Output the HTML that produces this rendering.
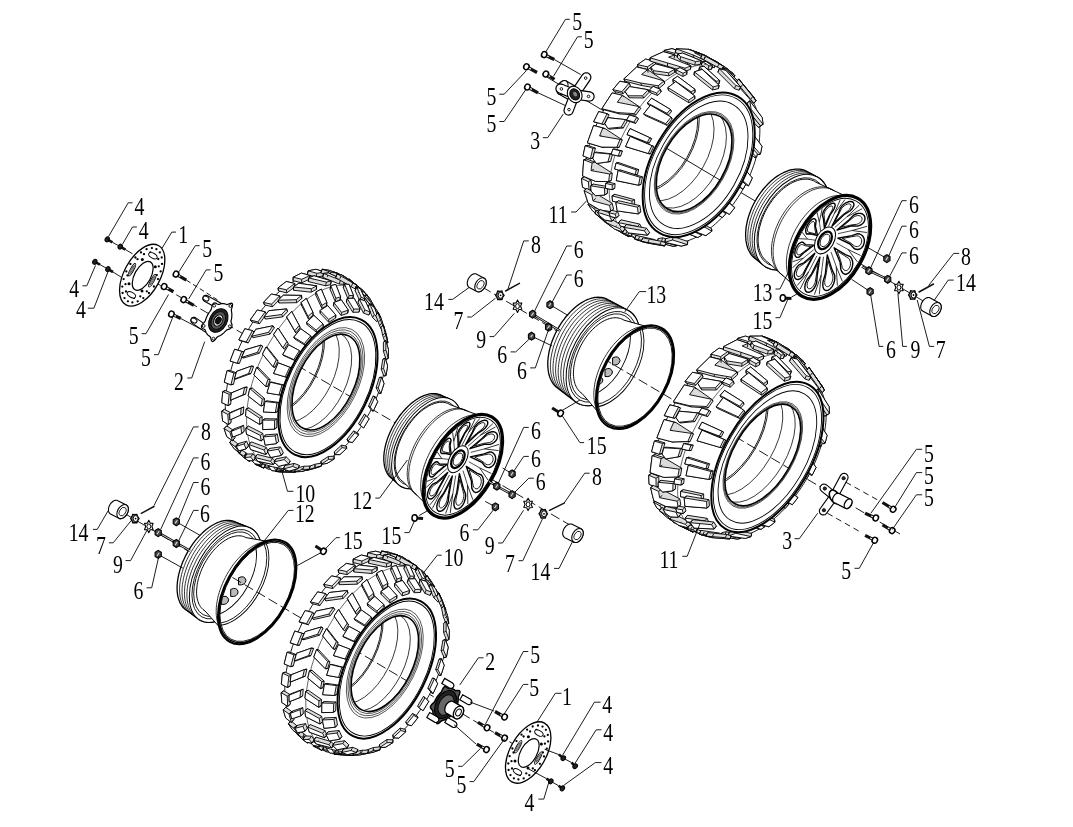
<!DOCTYPE html>
<html><head><meta charset="utf-8"><style>
html,body{margin:0;padding:0;background:#fff;overflow:hidden;}
svg{display:block;}
</style></head><body>
<svg width="1073" height="827" viewBox="0 0 1073 827">
<rect width="1073" height="827" fill="#fff"/>
<line x1="545.0" y1="76.0" x2="935.0" y2="308.0" stroke="#000" stroke-width="0.9"/>
<line x1="140.0" y1="273.5" x2="575.0" y2="528.0" stroke="#000" stroke-width="0.9" stroke-dasharray="10,4"/>
<line x1="112.0" y1="506.0" x2="531.0" y2="754.5" stroke="#000" stroke-width="0.9" stroke-dasharray="10,4"/>
<line x1="470.0" y1="279.8" x2="900.0" y2="534.0" stroke="#000" stroke-width="0.9" stroke-dasharray="10,4"/>
<g fill="#fff" stroke="#000" stroke-width="0.9" stroke-linejoin="round"><polygon points="736.8,87.8 739.4,85.1 744.9,90.4 746.2,94.1 743.5,96.5 738.1,91.3" fill="#dcdcdc"/><path d="M739.4 85.1L736.8 87.8M740.8 88.8L738.1 91.3M746.2 94.1L743.5 96.5M744.9 90.4L742.3 92.9"/><polygon points="739.4,85.1 740.8,88.8 746.2,94.1 744.9,90.4"/><polygon points="741.3,119.5 741.5,114.8 744.2,113.3 749.2,118.6 748.9,123.5 746.2,124.7" fill="#dcdcdc"/><path d="M744.2 113.3L741.5 114.8M744.1 118.2L741.3 119.5M748.9 123.5L746.2 124.7M749.2 118.6L746.4 120.1"/><polygon points="744.2,113.3 744.1,118.2 748.9,123.5 749.2,118.6"/><polygon points="734.4,152.4 736.0,147.3 738.6,147.2 743.1,152.3 741.3,157.5 738.9,157.4" fill="#dcdcdc"/><path d="M738.6 147.2L736.0 147.4M736.8 152.5L734.4 152.4M741.3 157.5L738.9 157.4M743.1 152.3L740.6 152.4"/><polygon points="738.6,147.2 736.8,152.5 741.3,157.5 743.1,152.3"/><polygon points="718.4,185.1 721.3,180.4 723.2,181.7 727.5,186.2 724.4,191.0 722.7,189.6" fill="#dcdcdc"/><path d="M723.2 181.6L721.3 180.4M720.2 186.5L718.4 185.1M724.4 191.0L722.7 189.6M727.5 186.2L725.6 185.0"/><polygon points="723.2,181.6 720.2,186.5 724.4,191.0 727.5,186.2"/><polygon points="695.8,212.6 699.4,209.0 703.8,212.9 704.7,215.3 700.9,219.0 696.6,215.1" fill="#dcdcdc"/><path d="M700.5 211.4L699.4 209.0M696.6 215.1L695.8 212.6M700.9 219.0L700.1 216.4M704.7 215.3L703.7 212.9"/><polygon points="700.5,211.4 696.6,215.1 700.9,219.0 704.7,215.3"/><polygon points="669.8,234.0 670.0,230.6 673.9,228.7 678.4,231.8 678.3,235.1 674.3,237.0" fill="#dcdcdc"/><path d="M673.8 231.9L673.9 228.7M669.8 234.0L670.0 230.6M674.3 237.0L674.5 233.7M678.3 235.1L678.4 231.8"/><polygon points="673.8,231.9 669.8,234.0 674.3,237.0 678.3,235.1"/><polygon points="643.7,240.1 644.9,236.5 648.5,236.5 653.4,239.0 652.2,242.5 648.6,242.5" fill="#dcdcdc"/><path d="M647.4 240.1L648.5 236.5M643.7 240.1L644.9 236.5M648.6 242.5L649.9 238.9M652.2 242.5L653.4 239.0"/><polygon points="647.4,240.1 643.7,240.1 648.6,242.5 652.2,242.5"/><polygon points="722.7,70.3 724.7,66.9 727.4,68.9 733.4,73.9 731.3,77.1 728.8,75.1" fill="#dcdcdc"/><path d="M724.7 66.9L722.7 70.3M727.4 68.9L725.3 72.2M733.4 73.9L731.3 77.1M730.8 71.8L728.8 75.1"/><polygon points="724.7,66.9 727.4,68.9 733.4,73.9 730.8,71.8"/><polygon points="717.9,71.0 720.3,68.0 723.9,69.1 735.9,79.2 738.4,84.3 735.8,86.9 720.0,74.5" fill="#dcdcdc"/><path d="M723.9 69.1L721.5 72.1M720.3 68.0L717.9 71.0M722.5 71.7L720.0 74.5M738.4 84.3L735.8 86.9M735.9 79.2L733.4 82.1"/><polygon points="723.9,69.1 720.3,68.0 722.5,71.7 738.4,84.3 735.9,79.2"/><polygon points="726.2,94.9 729.0,93.0 733.3,93.5 743.2,105.4 743.4,112.5 740.6,114.0 726.7,100.0" fill="#dcdcdc"/><path d="M733.3 93.5L730.5 95.5M729.0 93.0L726.2 94.9M729.5 98.2L726.7 100.0M743.4 112.4L740.6 114.0M743.2 105.4L740.4 107.2"/><polygon points="733.3,93.5 729.0,93.0 729.5,98.2 743.4,112.4 743.2,105.4"/><polygon points="723.2,131.9 724.6,126.1 727.2,125.4 732.2,125.7 739.9,138.5 737.8,146.4 735.2,146.5" fill="#dcdcdc"/><path d="M732.2 125.7L729.5 126.4M727.3 125.4L724.6 126.1M725.9 131.5L723.2 131.9M737.8 146.4L735.2 146.5M739.9 138.5L737.3 139.0"/><polygon points="732.2,125.7 727.3,125.4 725.9,131.5 737.8,146.4 739.9,138.5"/><polygon points="710.1,165.3 713.1,159.6 718.5,160.1 720.8,160.7 726.6,173.3 722.5,180.9 720.5,179.6" fill="#dcdcdc"/><path d="M720.8 160.7L718.5 160.1M715.3 160.3L713.1 159.6M712.2 166.3L710.2 165.4M722.5 180.9L720.5 179.6M726.6 173.3L724.5 172.4"/><polygon points="720.8,160.7 715.3,160.3 712.2,166.3 722.5,180.9 726.6,173.3"/><polygon points="689.5,195.3 693.5,190.5 699.4,191.4 700.8,193.3 705.3,204.6 699.7,210.7 690.7,197.5" fill="#dcdcdc"/><path d="M700.8 193.3L699.3 191.4M694.9 192.5L693.5 190.5M690.7 197.5L689.4 195.3M699.7 210.7L698.7 208.3M705.3 204.6L704.1 202.5"/><polygon points="700.8,193.3 694.9,192.5 690.7,197.5 699.7,210.7 705.3,204.6"/><polygon points="664.3,217.1 668.8,214.0 674.8,215.5 679.0,224.6 679.2,227.7 673.1,231.3 664.4,220.2" fill="#dcdcdc"/><path d="M675.3 218.5L674.8 215.5M669.2 217.0L668.8 214.0M664.4 220.2L664.3 217.1M673.1 231.3L673.1 228.1M679.2 227.7L679.0 224.6"/><polygon points="675.3,218.5 669.2,217.0 664.4,220.2 673.1,231.3 679.2,227.7"/><polygon points="637.5,231.0 638.5,227.4 642.8,226.5 648.7,228.9 653.2,235.4 652.3,238.9 646.6,239.6" fill="#dcdcdc"/><path d="M648.1 232.4L648.7 228.9M642.1 230.1L642.8 226.5M637.5 231.0L638.4 227.4M646.6 239.6L647.7 236.0M652.3 238.9L653.2 235.4"/><polygon points="648.1,232.4 642.1,230.1 637.5,231.0 646.6,239.6 652.3,238.9"/><polygon points="614.1,228.3 615.9,224.8 619.5,226.2 625.0,229.4 630.5,233.2 628.7,236.7 624.2,234.3" fill="#dcdcdc"/><path d="M623.4 233.0L625.0 229.4M617.8 229.7L619.5 226.2M614.1 228.3L615.9 224.8M624.2 234.3L626.2 230.9M628.7 236.6L630.5 233.2"/><polygon points="623.4,233.0 617.8,229.7 614.1,228.3 624.2,234.3 628.7,236.6"/><polygon points="696.7,56.5 698.6,53.1 716.3,61.4 731.3,72.0 734.9,75.7 732.5,78.8 705.0,63.3" fill="#dcdcdc"/><path d="M698.6 53.2L696.7 56.5M707.3 60.2L705.0 63.3M718.5 65.6L716.1 68.7M714.9 61.8L712.7 65.0M734.9 75.7L732.6 78.8M731.3 72.0L729.1 75.2M716.3 61.4L714.2 64.7"/><polygon points="698.6,53.2 707.3,60.2 718.5,65.6 714.9,61.8 734.9,75.7 731.3,72.0 716.3,61.4"/><polygon points="711.3,72.9 713.8,70.2 730.6,80.2 743.7,92.9 745.1,99.0 742.4,101.1 725.7,91.5 715.2,84.9" fill="#dcdcdc"/><path d="M713.8 70.2L711.3 72.9M717.8 82.8L715.2 84.9M728.5 89.4L725.7 91.5M727.1 83.2L724.4 85.5M745.1 99.0L742.4 101.1M743.7 92.9L741.0 95.3M730.6 80.2L728.0 82.8"/><polygon points="713.8,70.2 717.8,82.8 728.5,89.4 727.1,83.2 745.1,99.0 743.7,92.9 730.6,80.2"/><polygon points="715.5,114.5 716.6,99.0 719.4,97.4 735.1,108.9 745.9,122.8 745.0,130.3 742.3,131.2 725.3,121.9" fill="#dcdcdc"/><path d="M719.4 97.4L716.6 99.0M718.2 113.5L715.5 114.5M728.1 121.1L725.3 121.9M729.1 113.5L726.3 114.6M745.0 130.3L742.3 131.2M745.9 122.8L743.2 124.0M735.1 108.9L732.3 110.3"/><polygon points="719.4,97.4 718.2,113.5 728.1,121.1 729.1,113.5 745.0,130.3 745.9,122.8 735.1,108.9"/><polygon points="706.1,147.4 712.0,130.8 714.5,130.6 728.9,143.1 737.8,157.2 734.6,165.0 732.3,164.5 715.0,155.5" fill="#dcdcdc"/><path d="M714.5 130.6L712.0 130.8M708.4 147.8L706.1 147.4M717.3 156.0L715.0 155.5M720.5 148.2L718.1 147.9M734.6 165.0L732.3 164.5M737.8 157.2L735.4 157.0M728.9 143.1L726.3 143.2"/><polygon points="714.5,130.6 708.4,147.8 717.3,156.0 720.5,148.2 734.6,165.0 737.8,157.2 728.9,143.1"/><polygon points="688.2,178.7 698.0,163.5 700.0,164.7 713.0,177.7 720.4,190.8 715.5,197.7 697.8,188.8 689.8,180.4" fill="#dcdcdc"/><path d="M700.0 164.7L698.1 163.5M689.8 180.4L688.2 178.7M697.8 188.8L696.3 186.9M702.8 181.9L701.1 180.3M715.5 197.7L713.9 195.9M720.4 190.8L718.7 189.3M713.0 177.7L711.1 176.4"/><polygon points="700.0,164.7 689.8,180.4 697.8,188.8 702.8,181.9 715.5,197.7 720.4,190.8 713.0,177.7"/><polygon points="664.7,203.6 677.0,192.2 688.9,204.8 695.7,215.9 696.5,218.6 690.5,223.5 672.6,214.5 665.3,206.3" fill="#dcdcdc"/><path d="M678.0 194.5L677.0 192.2M665.3 206.3L664.7 203.6M672.6 214.5L672.1 211.6M678.6 209.6L677.8 206.9M690.5 223.5L690.0 220.7M696.5 218.6L695.7 215.9M689.9 207.3L688.9 204.8"/><polygon points="678.0,194.5 665.3,206.3 672.6,214.5 678.6,209.6 690.5,223.5 696.5,218.6 689.9,207.3"/><polygon points="638.6,221.7 639.1,218.3 651.9,212.4 663.1,224.1 669.9,232.8 669.6,236.2 663.6,238.5 645.4,229.1" fill="#dcdcdc"/><path d="M652.0 215.5L651.9 212.4M638.6 221.7L639.1 218.3M645.4 229.1L646.0 225.7M651.5 226.9L651.8 223.6M663.6 238.5L664.1 235.0M669.6 236.2L669.9 232.8M663.0 227.4L663.1 224.1"/><polygon points="652.0,215.5 638.6,221.7 645.4,229.1 651.5,226.9 663.6,238.5 669.6,236.2 663.0,227.4"/><polygon points="613.8,224.1 615.3,220.6 626.7,221.0 645.2,237.5 643.9,241.1 638.7,240.3 620.5,230.5" fill="#dcdcdc"/><path d="M625.7 224.5L626.7 221.0M613.8 224.0L615.3 220.6M620.5 230.5L622.1 227.0M625.7 231.4L627.1 227.8M638.7 240.3L640.2 236.7M643.9 241.0L645.2 237.5M636.5 235.0L637.7 231.4"/><polygon points="625.7,224.5 613.8,224.0 620.5,230.5 625.7,231.4 638.7,240.3 643.9,241.0 636.5,235.0"/><polygon points="704.6,64.2 706.9,61.2 717.1,66.0 720.9,72.2 718.3,75.0 708.4,69.9" fill="#dcdcdc"/><path d="M706.9 61.2L704.6 64.2M710.8 67.2L708.4 69.9M720.9 72.2L718.3 75.0M717.1 66.0L714.7 68.9"/><polygon points="706.9,61.2 710.8,67.2 720.9,72.2 717.1,66.0"/><polygon points="713.9,86.6 716.6,84.6 726.2,90.4 727.0,99.4 724.2,101.1 714.8,95.0" fill="#dcdcdc"/><path d="M716.6 84.6L713.9 86.6M717.5 93.3L714.8 95.0M727.0 99.4L724.2 101.1M726.2 90.4L723.5 92.4"/><polygon points="716.6,84.6 717.5,93.3 727.0,99.4 726.2,90.4"/><polygon points="711.3,126.3 713.4,116.5 716.1,115.7 725.0,122.5 722.5,132.9 719.9,133.2" fill="#dcdcdc"/><path d="M716.1 115.7L713.4 116.5M713.9 125.9L711.3 126.3M722.5 132.9L719.9 133.2M725.0 122.5L722.3 123.2"/><polygon points="716.1,115.7 713.9,125.9 722.5,132.9 725.0,122.5"/><polygon points="698.4,159.0 703.2,149.4 705.4,149.9 713.5,157.3 708.2,167.5 706.2,166.4" fill="#dcdcdc"/><path d="M705.4 149.9L703.2 149.4M700.4 160.0L698.4 159.0M708.2 167.5L706.2 166.5M713.4 157.3L711.2 156.7"/><polygon points="705.4,149.9 700.4,160.0 708.2,167.5 713.4,157.3"/><polygon points="678.0,188.3 684.8,180.2 692.0,187.7 693.4,189.6 686.2,198.1 679.2,190.4" fill="#dcdcdc"/><path d="M686.2 182.0L684.8 180.1M679.2 190.4L678.0 188.3M686.2 198.1L685.1 195.8M693.4 189.6L692.0 187.7"/><polygon points="686.2,182.0 679.2,190.4 686.2,198.1 693.4,189.6"/><polygon points="653.4,209.5 661.0,204.2 667.6,211.5 668.0,214.5 659.9,219.9 653.5,212.6" fill="#dcdcdc"/><path d="M661.5 207.0L661.0 204.2M653.5 212.6L653.4 209.5M659.9 219.9L659.8 216.7M668.0 214.5L667.6 211.5"/><polygon points="661.5,207.0 653.5,212.6 659.9,219.9 668.0,214.5"/><polygon points="627.2,223.0 628.1,219.5 635.5,217.8 641.6,224.6 641.0,228.1 633.2,229.6" fill="#dcdcdc"/><path d="M634.9 221.2L635.5 217.8M627.2 223.0L628.1 219.5M633.2 229.6L634.2 226.0M641.0 228.1L641.6 224.6"/><polygon points="634.9,221.2 627.2,223.0 633.2,229.6 641.0,228.1"/><polygon points="604.3,220.2 606.1,216.8 612.1,218.9 618.1,224.8 616.5,228.4 610.2,225.8" fill="#dcdcdc"/><path d="M610.6 222.4L612.1 219.0M604.3 220.2L606.1 216.8M610.2 225.8L612.1 222.4M616.5 228.4L618.1 224.8"/><polygon points="610.6,222.4 604.3,220.2 610.2,225.8 616.5,228.4"/></g>
<polygon points="585.3,174.4 585.4,170.4 585.6,166.3 586.0,162.1 586.6,157.8 587.3,153.5 588.3,149.1 589.4,144.7 590.6,140.3 592.1,135.9 593.7,131.5 595.4,127.1 597.3,122.7 599.4,118.3 601.6,114.0 603.9,109.8 606.4,105.7 608.9,101.6 611.6,97.6 614.4,93.7 617.3,90.0 620.3,86.3 623.4,82.9 626.6,79.5 629.8,76.3 633.1,73.3 636.4,70.5 639.8,67.8 643.2,65.3 646.6,63.1 650.0,61.0 653.5,59.1 656.9,57.5 660.3,56.0 663.7,54.8 667.1,53.8 670.4,53.0 673.6,52.5 676.8,52.2 679.9,52.1 683.0,52.3 685.9,52.7 688.8,53.3 691.5,54.1 698.0,56.6 700.7,57.7 707.0,60.7 709.6,62.0 715.6,65.5 718.0,67.0 723.7,71.0 726.0,72.7 731.4,77.2 733.6,79.1 738.6,84.0 740.5,86.1 745.2,91.4 747.0,93.7 751.2,99.3 752.8,101.7 754.2,104.2 755.5,106.9 756.6,109.8 757.6,112.8 758.4,115.9 759.0,119.2 759.5,122.7 759.7,126.2 759.9,129.8 759.8,133.6 759.6,137.4 759.3,141.3 758.7,145.2 758.0,149.2 757.1,153.3 756.1,157.4 755.0,161.5 753.6,165.6 752.1,169.7 750.5,173.8 748.7,177.9 746.8,181.9 744.8,185.9 742.6,189.9 740.3,193.8 737.9,197.5 735.4,201.2 732.8,204.8 730.1,208.3 727.3,211.7 724.4,214.9 721.5,218.1 718.5,221.0 715.5,223.8 712.4,226.5 709.2,228.9 706.1,231.3 702.9,233.4 699.7,235.3 696.5,237.1 693.3,238.6 690.1,239.9 687.0,241.1 683.8,242.0 680.8,242.7 677.7,243.2 674.8,243.5 671.9,243.6 669.0,243.4 666.3,243.1 659.2,242.1 656.5,241.5 649.6,239.9 643.0,237.9 640.2,237.1 633.7,234.5 631.0,233.4 624.8,230.4 622.2,229.0 616.3,225.5 613.9,223.9 608.2,219.9 605.9,218.1 600.6,213.6 598.4,211.7 596.4,209.5 594.6,207.2 592.9,204.6 591.4,201.9 590.0,199.0 588.8,195.9 587.8,192.7 587.0,189.3 586.3,185.8 585.8,182.1 585.5,178.3" fill="#fff" stroke="#000" stroke-width="0.9"/>
<path d="M629.4,235.1 L627.0,233.5 L624.6,231.6 L622.4,229.6 L620.4,227.3 L618.5,224.8 L616.8,222.2 L615.3,219.3 L613.9,216.3 L612.7,213.1 L611.6,209.7 L610.8,206.1 L610.1,202.4 L609.6,198.6 L609.3,194.7 L609.2,190.6 L609.3,186.4 L609.6,182.1 L610.0,177.8 L610.6,173.4 L611.5,168.9 L612.4,164.4 L613.6,159.8 L615.0,155.2 L616.5,150.6 L618.2,146.0 L620.0,141.5 L622.0,136.9 L624.2,132.4 L626.5,128.0 L628.9,123.6 L631.5,119.3 L634.2,115.1 L637.0,111.0 L639.9,107.0 L642.9,103.1 L646.0,99.4 L649.3,95.8 L652.5,92.4 L655.9,89.1 L659.3,86.0 L662.8,83.1 L666.3,80.4 L669.8,77.8 L673.3,75.5 L676.9,73.4 L680.5,71.5 L684.0,69.8 L687.6,68.4 L691.1,67.1 L694.5,66.1 L698.0,65.4 L701.3,64.9 L704.6,64.6 L707.8,64.5 L711.0,64.7 L714.0,65.2 L717.0,65.9 L719.8,66.8 L722.5,67.9 L725.1,69.3" fill="none" stroke="#000" stroke-width="0.6"/>
<g fill="#fff" stroke="#000" stroke-width="0.9" stroke-linejoin="round"><polygon points="588.2,204.5 590.7,201.7 597.0,206.3 600.6,212.3 598.3,215.3 592.2,210.4" fill="#dcdcdc"/><path d="M592.2 210.4L594.5 207.4M588.2 204.5L590.7 201.7M594.5 209.0L597.0 206.3M598.3 215.3L600.7 212.3"/><polygon points="592.2,210.4 588.2,204.5 594.5,209.0 598.3,215.3"/><polygon points="581.5,178.4 584.3,176.7 591.1,180.2 591.9,188.8 589.1,190.8 582.5,187.1" fill="#dcdcdc"/><path d="M582.5 187.1L585.2 185.0M581.5 178.4L584.3 176.7M588.4 181.8L591.1 180.2M589.1 190.8L591.9 188.8"/><polygon points="582.5,187.1 581.5,178.4 588.4,181.8 589.1,190.8"/><polygon points="583.0,155.9 585.2,145.8 587.8,145.4 595.4,148.1 593.1,158.0 590.4,158.8" fill="#dcdcdc"/><path d="M583.0 155.9L585.7 155.1M585.2 145.8L587.8 145.4M592.8 148.4L595.4 148.0M590.4 158.8L593.1 158.0"/><polygon points="583.0,155.9 585.2,145.8 592.8,148.4 590.4,158.8"/><polygon points="593.7,121.7 598.7,111.6 607.1,113.7 609.1,114.8 604.1,124.6" fill="#dcdcdc"/><path d="M593.7 121.7L595.9 122.3M598.7 111.6L600.7 112.6M607.1 113.7L609.1 114.8M601.9 123.9L604.1 124.6"/><polygon points="593.7,121.7 598.7,111.6 607.1,113.7 601.9,123.9"/><polygon points="612.9,89.7 619.9,81.2 629.1,83.2 630.3,85.5 623.3,93.6 614.3,91.5" fill="#dcdcdc"/><path d="M612.9 89.7L614.3 91.5M619.9 81.2L621.0 83.4M629.1 83.2L630.3 85.5M621.9 91.6L623.3 93.6"/><polygon points="612.9,89.7 619.9,81.2 629.1,83.2 621.9,91.6"/><polygon points="637.6,64.6 645.6,59.1 655.5,61.4 655.6,64.5 647.8,69.7 638.1,67.5" fill="#dcdcdc"/><path d="M637.6 64.6L638.1 67.5M645.6 59.1L645.7 62.2M655.5 61.4L655.6 64.5M647.4 66.8L647.8 69.7"/><polygon points="637.6,64.6 645.6,59.1 655.5,61.4 647.4,66.8"/><polygon points="663.6,53.8 664.2,50.4 671.9,48.7 682.2,51.6 681.2,55.2 673.7,56.7" fill="#dcdcdc"/><path d="M664.2 50.4L663.6 53.8M671.9 48.7L671.0 52.1M682.2 51.6L681.2 55.2M674.4 53.2L673.7 56.7"/><polygon points="664.2,50.4 671.9,48.7 682.2,51.6 674.4,53.2"/><polygon points="687.0,52.7 688.5,49.2 698.9,52.9 705.1,55.5 703.2,58.9" fill="#dcdcdc"/><path d="M688.5 49.2L687.0 52.7M694.8 51.5L693.0 54.9M705.1 55.5L703.2 58.9M698.9 52.9L697.2 56.4"/><polygon points="688.5,49.2 694.8,51.5 705.1,55.5 698.9,52.9"/><polygon points="594.7,213.1 596.9,210.1 622.0,225.6 625.5,229.2 623.3,232.4 614.4,228.9 605.2,222.3" fill="#dcdcdc"/><path d="M603.3 220.2L605.2 216.9M594.7 213.1L596.9 210.1M601.6 218.4L604.0 215.4M605.2 222.3L607.4 219.1M619.7 228.7L622.0 225.6M623.3 232.4L625.5 229.2M614.4 228.9L616.4 225.6"/><polygon points="603.3,220.2 594.7,213.1 601.6,218.4 605.2,222.3 619.7,228.7 623.3,232.4 614.4,228.9"/><polygon points="584.1,190.6 586.8,188.4 594.4,192.6 612.2,203.3 613.6,209.1 610.9,211.5 600.0,210.1 588.2,203.1" fill="#dcdcdc"/><path d="M588.2 203.1L590.7 200.5M584.1 190.6L586.8 188.4M591.7 194.7L594.4 192.6M593.0 200.9L595.7 198.5M609.5 205.4L612.2 203.3M610.9 211.5L613.6 209.1M600.0 210.1L602.6 207.5"/><polygon points="588.2,203.1 584.1,190.6 591.7,194.7 593.0,200.9 609.5,205.4 610.9,211.5 600.0,210.1"/><polygon points="582.6,175.9 583.7,159.8 586.4,158.9 594.8,162.1 612.3,173.2 611.4,180.4 608.6,181.6 595.6,181.4" fill="#dcdcdc"/><path d="M582.6 175.9L585.3 174.4M583.7 159.8L586.4 158.9M592.1 163.0L594.8 162.1M591.0 170.6L593.8 169.4M609.6 174.0L612.3 173.2M608.6 181.6L611.4 180.4M595.6 181.4L598.4 179.9"/><polygon points="582.6,175.9 583.7,159.8 592.1,163.0 591.0,170.6 609.6,174.0 608.6,181.6 595.6,181.4"/><polygon points="587.4,142.8 593.6,125.5 595.9,126.0 605.1,128.6 622.3,139.9 619.2,147.4 601.8,147.1" fill="#dcdcdc"/><path d="M587.4 142.8L590.0 142.5M593.6 125.5L595.9 126.0M602.8 128.0L605.1 128.6M599.6 135.9L602.0 136.2M620.0 139.4L622.3 139.9M616.8 147.2L619.2 147.4M601.8 147.1L604.3 147.1"/><polygon points="587.4,142.8 593.6,125.5 602.8,128.0 599.6,135.9 620.0,139.4 616.8,147.2 601.8,147.1"/><polygon points="601.9,108.7 612.2,92.9 622.3,95.2 639.1,106.6 640.6,108.5 635.9,115.1 619.5,113.9 603.9,109.8" fill="#dcdcdc"/><path d="M601.9 108.7L603.9 109.8M612.2 92.9L613.7 94.7M622.3 95.3L623.8 97.1M617.3 102.2L619.0 103.8M639.1 106.6L640.6 108.5M634.2 113.6L635.9 115.1M617.6 112.6L619.5 113.9"/><polygon points="601.9,108.7 612.2,92.9 622.3,95.3 617.3,102.2 639.1,106.6 634.2,113.6 617.6,112.6"/><polygon points="623.9,78.9 636.7,67.0 647.6,69.6 664.0,80.8 664.6,83.7 658.9,88.5 641.7,85.5 625.0,81.2" fill="#dcdcdc"/><path d="M623.9 78.9L625.0 81.2M636.7 67.0L637.3 69.8M647.6 69.6L648.1 72.5M641.6 74.5L642.3 77.2M664.0 80.9L664.6 83.7M658.1 85.8L658.9 88.5M640.8 83.0L641.7 85.5"/><polygon points="623.9,78.9 636.7,67.0 647.6,69.6 641.6,74.5 664.0,80.9 658.1,85.8 640.8,83.0"/><polygon points="650.0,57.8 663.4,51.7 674.7,54.9 691.0,65.9 690.4,69.4 684.6,71.5 650.0,61.0" fill="#dcdcdc"/><path d="M650.0 57.8L650.0 61.0M663.4 51.7L662.9 55.1M674.7 54.9L674.1 58.4M668.6 57.1L668.3 60.5M691.0 65.9L690.4 69.4M685.0 68.2L684.7 71.5M667.6 62.9L667.5 66.2"/><polygon points="650.0,57.8 663.4,51.7 674.7,54.9 668.6,57.1 691.0,65.9 685.0,68.2 667.6,62.9"/><polygon points="675.2,52.3 676.2,48.8 688.1,49.3 699.6,53.5 715.9,64.1 714.3,67.7 709.3,66.9" fill="#dcdcdc"/><path d="M676.2 48.8L675.2 52.3M688.1 49.3L686.7 52.8M699.6 53.5L698.0 57.1M694.4 52.7L693.0 56.2M715.9 64.1L714.3 67.6M710.7 63.3L709.3 66.9M694.1 55.3L693.0 58.9"/><polygon points="676.2,48.8 688.1,49.3 699.6,53.5 694.4,52.7 715.9,64.1 710.7,63.3 694.1,55.3"/><polygon points="597.6,212.4 600.1,209.6 612.0,213.5 614.5,218.4 612.0,221.2 604.9,220.1 599.9,216.0" fill="#dcdcdc"/><path d="M604.9 220.1L607.3 217.0M599.9 216.0L602.3 213.1M597.6 212.4L600.1 209.6M609.5 216.1L612.0 213.5M612.0 221.2L614.5 218.4"/><polygon points="604.9,220.1 599.9,216.0 597.6,212.4 609.5,216.1 612.0,221.2"/><polygon points="590.7,185.8 593.4,184.1 607.3,186.5 607.5,193.2 604.7,195.0 595.5,195.7 591.1,191.1" fill="#dcdcdc"/><path d="M595.5 195.7L598.2 193.6M591.1 191.1L593.9 189.1M590.7 185.8L593.4 184.1M604.5 188.0L607.3 186.5M604.7 195.0L607.5 193.2"/><polygon points="595.5,195.7 591.1,191.1 590.7,185.8 604.5,188.0 604.7,195.0"/><polygon points="592.9,158.7 594.3,152.6 596.9,152.2 612.6,153.9 610.6,161.5 607.9,161.9 596.5,163.5" fill="#dcdcdc"/><path d="M596.5 163.5L599.3 162.7M592.9 158.7L595.6 158.0M594.3 152.6L596.9 152.2M610.1 154.1L612.6 153.9M607.9 161.9L610.6 161.5"/><polygon points="596.5,163.5 592.9,158.7 594.3,152.6 610.1,154.1 607.9,161.9"/><polygon points="604.9,123.7 607.9,117.7 625.4,119.6 627.4,120.8 623.3,128.0 610.2,129.1 607.9,128.4" fill="#dcdcdc"/><path d="M607.9 128.4L610.2 129.1M604.9 123.7L607.1 124.5M607.9 117.7L610.0 118.7M625.4 119.6L627.4 120.8M621.2 127.1L623.3 128.0"/><polygon points="607.9,128.4 604.9,123.7 607.9,117.7 625.4,119.6 621.2,127.1"/><polygon points="625.2,91.6 629.5,86.6 648.1,89.7 649.2,92.2 643.8,98.0 629.4,97.8 627.9,95.8" fill="#dcdcdc"/><path d="M627.9 95.8L629.4 97.8M625.2 91.6L626.6 93.6M629.5 86.6L630.7 88.8M648.1 89.7L649.2 92.2M642.5 95.8L643.8 98.0"/><polygon points="627.9,95.8 625.2,91.6 629.5,86.6 648.1,89.7 642.5,95.8"/><polygon points="650.9,67.1 655.7,63.9 674.8,69.1 674.7,72.4 668.9,75.9 653.9,73.6 651.3,70.1" fill="#dcdcdc"/><path d="M653.5 70.6L653.9 73.6M650.9 67.1L651.3 70.1M655.7 63.9L655.9 67.0M674.8 69.1L674.7 72.4M668.6 72.8L668.8 75.9"/><polygon points="653.5,70.6 650.9,67.1 655.7,63.9 674.8,69.1 668.6,72.8"/><polygon points="677.3,57.5 678.0,54.0 682.6,53.1 701.3,60.8 700.2,64.4 694.7,65.1 680.0,60.2" fill="#dcdcdc"/><path d="M680.7 56.7L680.0 60.2M678.0 54.0L677.3 57.5M682.6 53.1L681.7 56.6M701.3 60.8L700.2 64.4M695.5 61.5L694.7 65.1"/><polygon points="680.7,56.7 678.0,54.0 682.6,53.1 701.3,60.8 695.5,61.5"/><polygon points="700.7,57.9 702.4,54.3 706.0,55.8 723.6,66.2 721.6,69.5 717.4,67.2 703.7,59.7" fill="#dcdcdc"/><path d="M705.4 56.2L703.7 59.7M702.4 54.3L700.7 57.8M706.0 55.8L704.2 59.3M723.6 66.2L721.6 69.5M719.2 63.8L717.3 67.2"/><polygon points="705.4,56.2 702.4,54.3 706.0,55.8 723.6,66.2 719.2,63.8"/><polygon points="622.4,232.7 624.5,229.4 630.0,231.3 632.5,233.2 630.5,236.5 625.1,234.6" fill="#dcdcdc"/><path d="M625.1 234.6L627.1 231.3M622.3 232.7L624.5 229.4M627.8 234.5L629.9 231.3M630.5 236.5L632.5 233.2"/><polygon points="625.1,234.6 622.3,232.7 627.8,234.5 630.5,236.5"/><polygon points="609.0,212.8 611.7,210.3 617.7,211.8 619.0,215.4 616.4,218.0 610.4,216.4" fill="#dcdcdc"/><path d="M610.4 216.4L613.0 213.8M609.0 212.8L611.7 210.3M615.1 214.2L617.7 211.8M616.4 218.0L619.0 215.4"/><polygon points="610.4,216.4 609.0,212.8 615.1,214.2 616.4,218.0"/><polygon points="605.5,188.2 605.7,183.4 608.5,182.1 615.1,183.7 614.8,188.3 612.1,189.7" fill="#dcdcdc"/><path d="M605.5 188.2L608.3 186.7M605.7 183.4L608.5 182.1M612.3 184.9L615.1 183.6M612.1 189.7L614.8 188.3"/><polygon points="605.5,188.2 605.7,183.4 612.3,184.9 612.1,189.7"/><polygon points="611.2,154.3 613.0,149.1 615.4,149.2 622.4,151.0 620.7,156.0 618.2,156.0" fill="#dcdcdc"/><path d="M611.2 154.4L613.8 154.2M612.9 149.1L615.4 149.2M620.0 150.8L622.4 151.0M618.2 156.0L620.7 156.0"/><polygon points="611.2,154.4 612.9,149.1 620.0,150.8 618.2,156.0"/><polygon points="626.6,119.9 629.6,115.0 636.8,117.3 638.6,118.8 635.7,123.4 628.5,121.2" fill="#dcdcdc"/><path d="M626.6 119.9L628.5 121.2M629.6 115.0L631.4 116.5M636.8 117.3L638.6 118.8M633.8 122.1L635.7 123.4"/><polygon points="626.6,119.9 629.6,115.0 636.8,117.3 633.8,122.1"/><polygon points="649.3,90.2 653.2,86.4 660.4,89.4 661.2,92.0 657.5,95.5 650.3,92.6" fill="#dcdcdc"/><path d="M649.3 90.2L650.3 92.6M653.2 86.4L654.0 89.0M660.4 89.4L661.2 92.0M656.5 93.0L657.5 95.5"/><polygon points="649.3,90.2 653.2,86.4 660.4,89.4 656.5,93.0"/><polygon points="675.9,72.9 675.9,69.7 680.0,67.6 687.0,71.3 686.7,74.6 682.9,76.5" fill="#dcdcdc"/><path d="M675.9 69.7L675.9 72.9M680.0 67.6L679.8 70.9M687.0 71.3L686.7 74.6M683.0 73.3L682.9 76.5"/><polygon points="675.9,69.7 680.0,67.6 687.0,71.3 683.0,73.3"/><polygon points="701.3,65.1 702.4,61.5 706.1,61.5 712.6,65.9 711.4,69.4 707.9,69.4" fill="#dcdcdc"/><path d="M702.4 61.5L701.3 65.1M706.1 61.5L704.9 65.0M712.6 65.9L711.4 69.4M709.0 65.8L707.9 69.4"/><polygon points="702.4,61.5 706.1,61.5 712.6,65.9 709.0,65.8"/><polygon points="738.2,85.0 740.6,82.1 753.8,97.3 755.4,100.4 753.1,102.9 740.3,88.5" fill="#dcdcdc"/><path d="M740.6 82.1L738.2 85.0M742.8 85.8L740.3 88.5M755.4 100.4L753.1 102.9M753.8 97.3L751.5 100.0"/><polygon points="740.6,82.1 742.8,85.8 755.4,100.4 753.8,97.3"/><polygon points="746.1,109.0 748.8,107.2 760.7,121.6 760.9,125.9 758.3,127.4 746.4,114.1" fill="#dcdcdc"/><path d="M748.8 107.1L746.1 109.0M749.2 112.4L746.4 114.1M760.9 125.9L758.3 127.4M760.7 121.6L758.1 123.2"/><polygon points="748.8,107.1 749.2,112.4 760.9,125.9 760.7,121.6"/><polygon points="742.5,145.7 743.9,139.9 746.6,139.4 757.8,152.2 756.5,157.1 754.1,157.3" fill="#dcdcdc"/><path d="M746.6 139.4L743.9 140.0M745.1 145.4L742.5 145.7M756.5 157.1L754.1 157.3M757.8 152.2L755.3 152.7"/><polygon points="746.6,139.4 745.1,145.4 756.5,157.1 757.8,152.2"/><polygon points="729.2,178.7 732.2,173.0 734.3,173.8 745.6,184.6 743.0,189.2 741.1,188.2" fill="#dcdcdc"/><path d="M734.3 173.8L732.2 173.0M731.2 179.7L729.2 178.7M743.0 189.3L741.2 188.2M745.6 184.6L743.6 183.7"/><polygon points="734.3,173.8 731.2,179.7 743.0,189.3 745.6,184.6"/><polygon points="708.5,207.9 712.5,203.2 724.7,211.7 725.8,213.7 722.4,217.5 709.7,210.1" fill="#dcdcdc"/><path d="M713.9 205.3L712.5 203.2M709.7 210.1L708.5 207.9M722.4 217.5L721.4 215.4M725.8 213.7L724.7 211.7"/><polygon points="713.9,205.3 709.7,210.1 722.4,217.5 725.8,213.7"/><polygon points="683.6,228.9 688.1,226.0 701.4,232.3 701.6,235.2 697.8,237.6 683.7,232.0" fill="#dcdcdc"/><path d="M688.4 229.0L688.1 226.0M683.7 232.0L683.6 228.9M697.8 237.5L697.8 234.6M701.6 235.2L701.4 232.3"/><polygon points="688.4,229.0 683.7,232.0 697.8,237.5 701.6,235.2"/><polygon points="657.2,242.1 658.2,238.6 662.5,237.8 677.4,242.5 676.6,245.8 673.1,246.3" fill="#dcdcdc"/><path d="M661.7 241.3L662.5 237.8M657.2 242.1L658.2 238.6M673.1 246.3L674.0 243.0M676.6 245.8L677.4 242.5"/><polygon points="661.7,241.3 657.2,242.1 673.1,246.3 676.6,245.8"/><polygon points="634.3,238.8 636.2,235.4 653.6,239.3 656.3,240.6 654.6,243.8 637.9,240.3" fill="#dcdcdc"/><path d="M637.9 240.3L639.6 236.9M634.3 238.8L636.2 235.4M651.8 242.5L653.6 239.3M654.7 243.8L656.3 240.6"/><polygon points="637.9,240.3 634.3,238.8 651.8,242.5 654.7,243.8"/><polygon points="618.5,222.6 621.0,219.8 639.8,224.1 641.3,227.0 639.0,229.7 620.6,226.2" fill="#dcdcdc"/><path d="M620.6 226.2L623.0 223.4M618.5 222.6L621.0 219.8M637.4 226.6L639.8 224.1M639.0 229.7L641.3 227.0"/><polygon points="620.6,226.2 618.5,222.6 637.4,226.6 639.0,229.7"/><polygon points="612.1,195.9 614.8,194.3 634.5,199.6 634.7,203.7 632.1,205.4 612.5,201.2" fill="#dcdcdc"/><path d="M612.5 201.2L615.2 199.3M612.1 195.9L614.8 194.3M631.9 201.1L634.5 199.6M632.1 205.4L634.7 203.7"/><polygon points="612.5,201.2 612.1,195.9 631.9,201.1 632.1,205.4"/><polygon points="614.7,169.0 616.1,163.0 618.7,162.6 638.7,169.6 637.5,174.3 635.0,174.8" fill="#dcdcdc"/><path d="M614.7 169.0L617.3 168.4M616.1 163.0L618.7 162.6M636.3 169.9L638.7 169.6M635.0 174.8L637.5 174.3"/><polygon points="614.7,169.0 616.1,163.0 636.3,169.9 635.0,174.8"/><polygon points="627.0,134.5 630.0,128.6 649.8,137.7 651.7,138.7 649.2,143.2" fill="#dcdcdc"/><path d="M627.0 134.5L629.1 135.3M630.0 128.6L632.0 129.7M649.8 137.7L651.7 138.7M647.3 142.4L649.2 143.2"/><polygon points="627.0,134.5 630.0,128.6 649.8,137.7 647.3,142.4"/><polygon points="647.4,103.0 651.6,98.2 670.4,109.5 671.5,111.6 668.2,115.3 648.7,105.1" fill="#dcdcdc"/><path d="M647.4 103.0L648.7 105.1M651.6 98.2L652.7 100.5M670.4 109.4L671.5 111.6M667.0 113.3L668.2 115.3"/><polygon points="647.4,103.0 651.6,98.2 670.4,109.4 667.0,113.3"/><polygon points="672.9,79.3 677.6,76.3 695.0,89.4 695.0,92.4 691.4,94.6 673.2,82.3" fill="#dcdcdc"/><path d="M672.9 79.4L673.2 82.3M677.6 76.3L677.7 79.4M695.0 89.4L695.0 92.4M691.2 91.8L691.4 94.6"/><polygon points="672.9,79.4 677.6,76.3 695.0,89.4 691.2,91.8"/><polygon points="698.8,70.5 699.5,67.1 704.0,66.2 719.8,80.7 718.8,84.0 715.4,84.5" fill="#dcdcdc"/><path d="M699.6 67.1L698.8 70.5M704.0 66.2L703.1 69.8M719.8 80.7L718.8 84.0M716.2 81.2L715.4 84.5"/><polygon points="699.6,67.1 704.0,66.2 719.8,80.7 716.2,81.2"/><polygon points="721.6,71.5 723.3,68.0 726.9,69.6 741.0,84.5 739.2,87.7 736.5,86.3" fill="#dcdcdc"/><path d="M723.3 68.0L721.6 71.5M726.9 69.6L725.1 73.0M741.0 84.5L739.2 87.7M738.2 83.1L736.5 86.3"/><polygon points="723.3,68.0 726.9,69.6 741.0,84.5 738.2,83.1"/><polygon points="736.5,81.9 738.7,78.9 753.0,96.2 756.1,100.7 753.9,103.3 740.6,87.2" fill="#dcdcdc"/><path d="M738.7 78.9L736.5 81.9M743.0 84.3L740.6 87.2M756.1 100.7L753.9 103.3M753.0 96.2L750.9 99.0"/><polygon points="738.7,78.9 743.0,84.3 756.1,100.7 753.0,96.2"/><polygon points="747.1,103.0 749.8,100.8 762.2,117.6 763.0,124.3 760.5,125.9 748.4,111.0" fill="#dcdcdc"/><path d="M749.8 100.8L747.1 103.0M751.1 109.2L748.4 111.0M763.1 124.3L760.5 125.9M762.2 117.6L759.7 119.5"/><polygon points="749.8,100.8 751.1,109.2 763.1,124.3 762.2,117.6"/><polygon points="746.3,141.7 748.0,132.1 750.7,131.1 762.0,146.3 760.4,154.1 758.0,154.6" fill="#dcdcdc"/><path d="M750.7 131.1L748.0 132.1M748.9 141.1L746.3 141.7M760.4 154.1L758.0 154.6M762.0 146.3L759.5 147.1"/><polygon points="750.7,131.1 748.9,141.1 760.4,154.1 762.0,146.3"/><polygon points="734.6,174.6 739.1,164.8 741.4,165.2 752.3,178.0 748.6,185.8 746.6,185.0" fill="#dcdcdc"/><path d="M741.4 165.1L739.1 164.8M736.8 175.3L734.6 174.6M748.6 185.8L746.6 185.0M752.3 178.0L750.2 177.5"/><polygon points="741.4,165.1 736.8,175.3 748.6,185.8 752.3,178.0"/><polygon points="715.2,204.5 721.7,196.1 733.4,206.1 734.7,207.8 729.4,214.4 716.5,206.6" fill="#dcdcdc"/><path d="M723.3 197.8L721.7 196.1M716.5 206.6L715.2 204.5M729.4 214.4L728.2 212.4M734.7 207.8L733.4 206.1"/><polygon points="723.3,197.8 716.5,206.6 729.4,214.4 734.7,207.8"/><polygon points="690.9,227.1 698.5,221.3 711.5,228.6 711.9,231.2 705.8,235.6 691.2,230.1" fill="#dcdcdc"/><path d="M699.1 224.1L698.5 221.3M691.2 230.1L690.9 227.1M705.8 235.6L705.6 232.8M711.9 231.2L711.5 228.6"/><polygon points="699.1,224.1 691.2,230.1 705.8,235.6 711.9,231.2"/><polygon points="664.8,242.3 665.5,238.8 673.0,236.6 687.8,241.4 687.3,244.6 681.3,246.1" fill="#dcdcdc"/><path d="M672.6 240.0L673.0 236.6M664.8 242.3L665.5 238.8M681.3 246.1L682.1 242.9M687.3 244.6L687.8 241.5"/><polygon points="672.6,240.0 664.8,242.3 681.3,246.1 687.3,244.6"/><polygon points="641.1,241.3 642.8,237.9 661.4,241.3 666.1,242.8 664.7,246.0 647.7,243.1" fill="#dcdcdc"/><path d="M647.7 243.0L649.1 239.6M641.1 241.4L642.8 237.9M659.7 244.5L661.4 241.3M664.7 246.0L666.1 242.8"/><polygon points="647.7,243.0 641.1,241.4 659.7,244.5 664.7,246.0"/><polygon points="624.0,227.4 626.4,224.5 646.6,228.2 649.6,232.5 647.5,235.2 628.3,232.9" fill="#dcdcdc"/><path d="M628.3 232.9L630.5 229.8M624.0 227.4L626.4 224.5M644.3 230.8L646.6 228.2M647.5 235.2L649.6 232.5"/><polygon points="628.3,232.9 624.0,227.4 644.3,230.8 647.5,235.2"/><polygon points="615.9,202.6 618.6,200.7 639.9,205.6 640.8,211.9 638.3,213.9 617.2,210.9" fill="#dcdcdc"/><path d="M617.2 210.9L619.9 208.7M615.9 202.5L618.6 200.7M637.4 207.2L639.9 205.6M638.3 213.9L640.8 211.9"/><polygon points="617.2,210.9 615.9,202.5 637.4,207.2 638.3,213.9"/><polygon points="616.3,180.7 618.1,170.6 620.7,170.0 642.5,176.9 641.0,184.4 638.5,185.2" fill="#dcdcdc"/><path d="M616.3 180.6L619.0 179.7M618.1 170.6L620.7 170.0M640.1 177.3L642.5 176.9M638.5 185.2L641.0 184.4"/><polygon points="616.3,180.6 618.1,170.6 640.1,177.3 638.5,185.2"/><polygon points="625.6,146.6 630.2,136.4 632.4,137.2 653.8,146.5 650.2,154.0 648.2,153.5" fill="#dcdcdc"/><path d="M625.6 146.6L627.9 146.9M630.2 136.4L632.4 137.2M651.9 145.7L653.8 146.5M648.2 153.5L650.2 154.0"/><polygon points="625.6,146.6 630.2,136.4 651.9,145.7 648.2,153.5"/><polygon points="643.7,113.9 650.5,105.2 671.1,117.1 672.2,119.0 667.1,125.4 645.3,115.6" fill="#dcdcdc"/><path d="M643.7 113.9L645.3 115.6M650.5 105.2L651.8 107.2M671.1 117.1L672.2 119.0M665.7 123.7L667.1 125.4"/><polygon points="643.7,113.9 650.5,105.2 671.1,117.1 665.7,123.7"/><polygon points="667.9,87.6 675.8,81.6 694.7,95.9 694.9,98.7 689.0,102.9 668.5,90.4" fill="#dcdcdc"/><path d="M667.9 87.6L668.5 90.4M675.8 81.6L676.1 84.6M694.7 95.9L694.9 98.7M688.6 100.3L689.0 102.9"/><polygon points="667.9,87.6 675.8,81.6 694.7,95.9 688.6,100.3"/><polygon points="694.0,75.1 694.4,71.8 702.2,69.4 719.1,85.3 718.4,88.6 712.6,90.0" fill="#dcdcdc"/><path d="M694.4 71.8L694.0 75.1M702.2 69.4L701.5 72.9M719.1 85.3L718.4 88.6M713.2 86.9L712.6 90.0"/><polygon points="694.4,71.8 702.2,69.4 719.1,85.3 713.2,86.9"/><polygon points="717.9,72.2 719.3,68.7 725.9,70.4 740.7,87.0 739.1,90.2 734.4,88.7" fill="#dcdcdc"/><path d="M719.3 68.7L717.9 72.2M725.9 70.4L724.2 73.8M740.7 87.0L739.1 90.2M735.8 85.4L734.4 88.7"/><polygon points="719.3,68.7 725.9,70.4 740.7,87.0 735.8,85.4"/></g>
<ellipse cx="698.7" cy="164.8" rx="78.8" ry="46.3" transform="rotate(-60.29 698.7 164.8)" fill="#fff" stroke="#000" stroke-width="2.0"/>
<ellipse cx="698.7" cy="164.8" rx="76.1" ry="44.7" transform="rotate(-60.29 698.7 164.8)" fill="none" stroke="#000" stroke-width="0.9"/>
<ellipse cx="698.7" cy="164.8" rx="69.4" ry="40.7" transform="rotate(-60.29 698.7 164.8)" fill="none" stroke="#000" stroke-width="0.9"/>
<ellipse cx="694.1" cy="162.8" rx="53.2" ry="31.2" transform="rotate(-60.29 694.1 162.8)" fill="#fff" stroke="#000" stroke-width="1.6"/>
<clipPath id="h1"><ellipse cx="694.1" cy="162.8" rx="53.2" ry="31.2" transform="rotate(-60.29 694.1 162.8)" /></clipPath>
<g clip-path="url(#h1)"><ellipse cx="659.9" cy="141.9" rx="53.2" ry="31.2" transform="rotate(-60.29 659.9 141.9)" fill="none" stroke="#000" stroke-width="0.8"/><ellipse cx="659.9" cy="141.9" rx="55.3" ry="32.5" transform="rotate(-60.29 659.9 141.9)" fill="none" stroke="#000" stroke-width="0.8"/><ellipse cx="687.8" cy="158.4" rx="54.3" ry="31.9" transform="rotate(-60.29 687.8 158.4)" fill="none" stroke="#000" stroke-width="0.7"/><ellipse cx="675.4" cy="151.1" rx="54.3" ry="31.9" transform="rotate(-60.29 675.4 151.1)" fill="none" stroke="#000" stroke-width="0.7"/><line x1="545.0" y1="76.0" x2="935.0" y2="308.0" stroke="#000" stroke-width="0.9"/></g>
<ellipse cx="694.1" cy="162.8" rx="54.8" ry="32.2" transform="rotate(-60.29 694.1 162.8)" fill="none" stroke="#000" stroke-width="0.6"/>
<ellipse cx="694.1" cy="162.8" rx="56.0" ry="32.9" transform="rotate(-60.29 694.1 162.8)" fill="none" stroke="#000" stroke-width="0.6"/>
<g fill="#fff" stroke="#000" stroke-width="0.9" stroke-linejoin="round"><polygon points="806.3,375.6 809.0,372.8 814.0,378.3 815.0,382.0 812.3,384.6 807.4,379.1" fill="#dcdcdc"/><path d="M809.0 372.8L806.3 375.5M810.1 376.4L807.4 379.1M815.0 382.0L812.3 384.6M814.0 378.3L811.4 381.0"/><polygon points="809.0,372.8 810.1,376.4 815.0,382.0 814.0,378.3"/><polygon points="808.6,407.7 809.1,403.0 811.9,401.3 816.3,406.8 815.8,411.8 813.1,413.1" fill="#dcdcdc"/><path d="M811.9 401.3L809.1 403.0M811.4 406.3L808.6 407.7M815.8 411.8L813.1 413.1M816.3 406.8L813.6 408.4"/><polygon points="811.9,401.3 811.4,406.3 815.8,411.8 816.3,406.8"/><polygon points="799.9,441.6 801.8,436.4 804.3,436.2 808.4,441.3 806.3,446.7 804.0,446.6" fill="#dcdcdc"/><path d="M804.3 436.2L801.8 436.4M802.3 441.6L799.9 441.6M806.3 446.7L804.0 446.7M808.4 441.3L806.0 441.5"/><polygon points="804.3,436.2 802.3,441.6 806.3,446.7 808.4,441.3"/><polygon points="782.5,475.7 785.6,470.8 787.3,472.0 791.3,476.5 788.1,481.5 786.5,480.1" fill="#dcdcdc"/><path d="M787.3 472.0L785.6 470.8M784.1 477.1L782.5 475.7M788.1 481.5L786.5 480.1M791.3 476.5L789.6 475.3"/><polygon points="787.3,472.0 784.1,477.1 788.1,481.5 791.3,476.5"/><polygon points="759.1,504.8 762.8,500.9 767.0,504.6 767.8,507.0 763.9,510.9 759.7,507.3" fill="#dcdcdc"/><path d="M763.7 503.3L762.8 500.9M759.7 507.3L759.1 504.8M763.9 510.9L763.3 508.3M767.8 507.0L767.0 504.6"/><polygon points="763.7,503.3 759.7,507.3 763.9,510.9 767.8,507.0"/><polygon points="732.8,527.7 733.2,524.3 737.1,522.1 741.6,525.0 741.3,528.2 737.4,530.4" fill="#dcdcdc"/><path d="M736.8 525.4L737.1 522.1M732.8 527.7L733.2 524.3M737.4 530.4L737.8 527.0M741.3 528.2L741.6 525.0"/><polygon points="736.8,525.4 732.8,527.7 737.4,530.4 741.3,528.2"/><polygon points="707.4,535.1 708.8,531.5 712.2,531.2 717.3,533.3 716.0,536.9 712.5,537.1" fill="#dcdcdc"/><path d="M711.0 534.9L712.2 531.2M707.4 535.2L708.8 531.5M712.5 537.1L714.0 533.4M716.0 536.9L717.3 533.3"/><polygon points="711.0,534.9 707.4,535.2 712.5,537.1 716.0,536.9"/><polygon points="793.9,358.3 796.0,354.8 798.6,356.7 804.1,362.0 801.9,365.4 799.6,363.5" fill="#dcdcdc"/><path d="M796.0 354.8L793.9 358.3M798.6 356.7L796.3 360.1M804.1 362.0L801.9 365.4M801.7 360.1L799.6 363.5"/><polygon points="796.0,354.8 798.6,356.7 804.1,362.0 801.7,360.1"/><polygon points="789.0,358.0 791.5,354.9 794.9,356.1 806.0,366.8 808.1,371.9 805.5,374.7 790.8,361.6" fill="#dcdcdc"/><path d="M794.9 356.2L792.4 359.4M791.5 354.9L789.0 358.0M793.4 358.5L790.8 361.5M808.1 371.9L805.5 374.7M806.0 366.8L803.4 369.8"/><polygon points="794.9,356.2 791.5,354.9 793.4,358.5 808.1,371.9 806.0,366.8"/><polygon points="795.6,382.4 798.4,380.2 802.5,380.9 811.3,393.3 811.1,400.4 808.3,402.1 795.7,387.6" fill="#dcdcdc"/><path d="M802.5 380.8L799.7 383.1M798.4 380.2L795.6 382.4M798.5 385.7L795.7 387.6M811.1 400.4L808.3 402.1M811.3 393.3L808.6 395.2"/><polygon points="802.5,380.8 798.4,380.2 798.5,385.7 811.1,400.4 811.3,393.3"/><polygon points="790.3,420.7 791.9,414.6 794.6,413.8 799.4,414.0 806.1,427.2 803.5,435.3 801.1,435.6" fill="#dcdcdc"/><path d="M799.4 414.0L796.7 414.9M794.6 413.8L791.9 414.6M792.8 420.1L790.3 420.7M803.5 435.3L801.1 435.6M806.1 427.2L803.6 427.8"/><polygon points="799.4,414.0 794.6,413.8 792.8,420.1 803.5,435.3 806.1,427.2"/><polygon points="775.4,455.8 778.6,449.8 784.0,450.0 786.1,450.6 791.2,463.3 786.6,471.2 784.9,470.0" fill="#dcdcdc"/><path d="M786.1 450.6L784.0 450.0M780.7 450.4L778.6 449.8M777.4 456.7L775.4 455.8M786.7 471.2L784.9 470.0M791.2 463.3L789.2 462.5"/><polygon points="786.1,450.6 780.7,450.4 777.4,456.7 786.7,471.2 791.2,463.3"/><polygon points="753.4,487.6 757.7,482.5 763.4,483.1 764.7,485.0 768.7,496.2 763.0,502.7 754.5,489.9" fill="#dcdcdc"/><path d="M764.7 485.0L763.4 483.1M758.9 484.5L757.7 482.5M754.5 489.8L753.4 487.6M763.0 502.7L762.1 500.3M768.7 496.3L767.6 494.1"/><polygon points="764.7,485.0 758.9,484.5 754.5,489.8 763.0,502.7 768.7,496.3"/><polygon points="727.6,514.5 727.6,511.2 732.2,507.9 738.2,509.0 742.2,517.8 742.2,520.9 736.1,524.9" fill="#dcdcdc"/><path d="M738.4 512.1L738.2 509.0M732.4 511.0L732.2 507.9M727.6 514.5L727.6 511.2M736.1 524.9L736.3 521.6M742.2 520.9L742.2 517.8"/><polygon points="738.4,512.1 732.4,511.0 727.6,514.5 736.1,524.9 742.2,520.9"/><polygon points="700.8,526.8 701.9,523.1 706.2,522.0 712.1,524.0 716.7,529.9 715.7,533.6 710.1,534.5" fill="#dcdcdc"/><path d="M711.2 527.6L712.1 524.0M705.3 525.6L706.2 522.0M700.8 526.8L701.9 523.1M710.1 534.5L711.4 530.8M715.7 533.6L716.7 529.9"/><polygon points="711.2,527.6 705.3,525.6 700.8,526.8 710.1,534.5 715.7,533.6"/><polygon points="678.2,525.0 680.2,521.4 683.6,522.7 691.1,526.6 695.1,528.7 693.2,532.3" fill="#dcdcdc"/><path d="M687.3 529.3L689.1 525.5M681.7 526.4L683.6 522.7M678.2 525.0L680.2 521.4M689.0 530.1L691.2 526.6M693.2 532.3L695.1 528.7"/><polygon points="687.3,529.3 681.7,526.4 678.2,525.0 689.0,530.1 693.2,532.3"/><polygon points="769.2,343.2 771.3,339.7 788.1,348.6 802.1,359.9 805.3,363.6 802.9,366.8 776.9,349.9" fill="#dcdcdc"/><path d="M771.3 339.7L769.3 343.2M779.3 346.6L776.9 349.9M789.9 352.5L787.4 355.7M786.7 348.7L784.4 352.1M805.3 363.6L802.9 366.8M802.1 359.9L799.8 363.3M788.1 348.6L785.9 352.1"/><polygon points="771.3,339.7 779.3,346.6 789.9,352.5 786.7,348.7 805.3,363.6 802.1,359.9 788.1,348.6"/><polygon points="782.4,359.6 785.0,356.8 800.8,367.3 812.6,380.7 813.6,386.8 810.9,389.1 795.3,378.8 785.4,372.0" fill="#dcdcdc"/><path d="M785.0 356.7L782.4 359.6M788.2 369.6L785.4 372.0M798.1 376.5L795.3 378.8M797.1 370.2L794.4 372.8M813.6 386.8L810.9 389.1M812.6 380.7L809.9 383.2M800.8 367.3L798.1 370.1"/><polygon points="785.0,356.7 788.2,369.6 798.1,376.5 797.1,370.2 813.6,386.8 812.6,380.7 800.8,367.3"/><polygon points="783.9,402.7 785.9,386.5 788.7,384.8 803.2,396.7 812.9,411.1 811.5,418.8 808.9,419.8 792.9,410.3" fill="#dcdcdc"/><path d="M788.7 384.8L785.9 386.5M786.6 401.6L783.9 402.7M795.6 409.3L792.9 410.3M797.1 401.4L794.4 402.7M811.5 418.8L808.9 419.8M812.9 411.0L810.2 412.4M803.2 396.7L800.4 398.3"/><polygon points="788.7,384.8 786.6,401.6 795.6,409.3 797.1,401.4 811.5,418.8 812.9,411.0 803.2,396.7"/><polygon points="772.5,437.3 779.4,419.8 781.9,419.5 795.1,432.1 802.9,446.4 799.4,454.5 797.2,454.1 780.8,445.4" fill="#dcdcdc"/><path d="M781.8 419.5L779.4 419.8M774.7 437.7L772.5 437.3M782.9 445.9L780.8 445.4M786.6 437.6L784.3 437.5M799.4 454.5L797.2 454.1M802.9 446.4L800.6 446.3M795.1 432.2L792.6 432.3"/><polygon points="781.8,419.5 774.7,437.7 782.9,445.9 786.6,437.6 799.4,454.5 802.9,446.4 795.1,432.2"/><polygon points="753.0,470.7 763.6,454.5 765.5,455.6 777.5,468.4 784.2,481.4 779.0,488.7 762.0,480.6 754.5,472.4" fill="#dcdcdc"/><path d="M765.5 455.6L763.6 454.5M754.5 472.4L753.1 470.7M761.9 480.6L760.6 478.7M767.2 473.2L765.7 471.7M779.0 488.7L777.7 486.9M784.2 481.5L782.6 480.0M777.5 468.4L775.8 467.1"/><polygon points="765.5,455.6 754.5,472.4 761.9,480.6 767.2,473.2 779.0,488.7 784.2,481.5 777.5,468.4"/><polygon points="728.5,497.6 741.2,485.2 752.5,497.3 758.9,508.1 759.5,510.8 753.5,516.1 735.8,508.2 728.9,500.5" fill="#dcdcdc"/><path d="M742.1 487.6L741.2 485.2M728.8 500.5L728.5 497.6M735.8 508.2L735.5 505.3M742.0 502.9L741.4 500.1M753.5 516.1L753.2 513.2M759.5 510.8L758.9 508.1M753.3 499.8L752.5 497.3"/><polygon points="742.1,487.6 728.8,500.5 735.8,508.2 742.0,502.9 753.5,516.1 759.5,510.8 753.3,499.8"/><polygon points="701.8,517.6 702.5,514.1 715.4,507.4 726.4,518.3 733.2,526.5 732.7,529.9 726.8,532.5 708.6,524.5" fill="#dcdcdc"/><path d="M715.2 510.6L715.4 507.3M701.8 517.6L702.5 514.1M708.6 524.5L709.4 520.9M714.6 522.0L715.1 518.5M726.8 532.5L727.5 528.9M732.7 529.9L733.2 526.5M726.1 521.7L726.4 518.3"/><polygon points="715.2,510.6 701.8,517.6 708.6,524.5 714.6,522.0 726.8,532.5 732.7,529.9 726.1,521.7"/><polygon points="677.4,521.2 679.1,517.5 690.2,517.5 709.3,532.3 707.8,536.0 702.9,535.4 684.3,527.1" fill="#dcdcdc"/><path d="M689.0 521.2L690.2 517.5M677.4 521.2L679.1 517.5M684.3 527.1L686.1 523.4M689.3 527.8L690.9 524.0M702.9 535.4L704.6 531.8M707.8 536.0L709.3 532.3M700.0 530.7L701.3 527.0"/><polygon points="689.0,521.2 677.4,521.2 684.3,527.1 689.3,527.8 702.9,535.4 707.8,536.0 700.0,530.7"/><polygon points="776.5,350.8 778.9,347.6 788.5,352.7 791.8,359.0 789.1,362.0 779.8,356.6" fill="#dcdcdc"/><path d="M778.9 347.6L776.5 350.8M782.4 353.6L779.8 356.6M791.8 359.0L789.2 362.0M788.5 352.7L786.0 355.9"/><polygon points="778.9,347.6 782.4,353.6 791.8,359.0 788.5,352.7"/><polygon points="784.1,373.7 786.9,371.5 795.8,377.6 796.0,386.9 793.2,388.7 784.4,382.4" fill="#dcdcdc"/><path d="M786.9 371.5L784.1 373.7M787.2 380.5L784.4 382.4M796.0 386.9L793.2 388.7M795.8 377.6L793.0 379.8"/><polygon points="786.9,371.5 787.2,380.5 796.0,386.9 795.8,377.6"/><polygon points="779.0,415.1 781.7,404.9 784.3,403.9 792.5,410.8 789.5,421.7 787.0,422.1" fill="#dcdcdc"/><path d="M784.3 403.9L781.7 404.9M781.5 414.6L779.0 415.1M789.5 421.7L787.0 422.1M792.5 410.8L789.9 411.7"/><polygon points="784.3,403.9 781.5,414.6 789.5,421.7 792.5,410.8"/><polygon points="764.2,449.8 769.5,439.5 771.7,440.0 779.1,447.4 773.4,458.1 771.5,457.1" fill="#dcdcdc"/><path d="M771.7 440.0L769.5 439.5M766.2 450.7L764.2 449.8M773.4 458.2L771.5 457.1M779.1 447.4L777.0 446.8"/><polygon points="771.7,440.0 766.2,450.7 773.4,458.2 779.1,447.4"/><polygon points="742.4,481.1 749.5,472.4 756.3,479.7 757.6,481.7 750.0,490.7 743.5,483.4" fill="#dcdcdc"/><path d="M750.9 474.3L749.5 472.4M743.5 483.4L742.4 481.2M750.0 490.7L749.1 488.4M757.6 481.7L756.3 479.7"/><polygon points="750.9,474.3 743.5,483.4 750.0,490.7 757.6,481.7"/><polygon points="716.9,507.6 716.9,504.4 724.8,498.5 731.1,505.5 731.3,508.5 723.0,514.5" fill="#dcdcdc"/><path d="M725.0 501.4L724.7 498.5M716.9 507.6L716.9 504.4M723.0 514.4L723.1 511.2M731.3 508.5L731.1 505.5"/><polygon points="725.0,501.4 716.9,507.6 723.0,514.4 731.3,508.5"/><polygon points="690.5,519.6 691.6,515.9 698.9,513.8 705.0,520.1 704.1,523.8 696.5,525.7" fill="#dcdcdc"/><path d="M698.1 517.4L698.9 513.8M690.5 519.6L691.6 515.9M696.5 525.7L697.7 522.0M704.1 523.8L705.0 520.1"/><polygon points="698.1,517.4 690.5,519.6 696.5,525.7 704.1,523.8"/><polygon points="668.2,517.7 670.2,514.1 676.0,516.1 682.2,521.5 680.3,525.2 674.4,522.8" fill="#dcdcdc"/><path d="M674.2 519.7L676.0 516.1M668.2 517.7L670.2 514.1M674.4 522.8L676.5 519.2M680.3 525.2L682.2 521.5"/><polygon points="674.2,519.7 668.2,517.7 674.4,522.8 680.3,525.2"/></g>
<polygon points="652.7,474.9 652.8,470.8 653.1,466.6 653.6,462.4 654.3,458.0 655.1,453.5 656.1,449.0 657.3,444.4 658.7,439.8 660.2,435.2 661.9,430.5 663.7,425.8 665.7,421.2 667.9,416.5 670.2,411.9 672.6,407.3 675.1,402.8 677.8,398.4 680.6,394.1 683.5,389.8 686.5,385.6 689.5,381.6 692.7,377.7 695.9,373.9 699.2,370.3 702.6,366.9 706.0,363.6 709.4,360.5 712.9,357.6 716.4,354.8 719.9,352.3 723.4,350.0 726.8,347.9 730.3,346.0 733.7,344.4 737.1,342.9 740.5,341.8 743.7,340.8 746.9,340.1 750.1,339.6 753.1,339.4 756.1,339.5 759.0,339.7 761.7,340.2 764.4,341.0 766.9,342.0 773.1,344.8 775.5,346.0 781.5,349.4 783.8,350.8 789.5,354.7 794.9,359.0 797.0,360.7 802.0,365.5 803.9,367.4 808.6,372.7 810.3,374.7 814.5,380.4 816.1,382.6 819.9,388.7 821.2,391.0 822.4,393.5 823.4,396.1 824.3,398.9 825.0,401.9 825.5,405.0 825.9,408.3 826.2,411.7 826.2,415.2 826.1,418.8 825.8,422.6 825.4,426.4 824.8,430.3 824.1,434.3 823.2,438.3 822.1,442.4 820.9,446.6 819.5,450.7 818.0,454.9 816.4,459.1 814.6,463.2 812.7,467.4 810.6,471.5 808.5,475.6 806.2,479.6 803.8,483.6 801.3,487.5 798.7,491.3 796.0,495.0 793.3,498.6 790.5,502.1 787.6,505.5 784.6,508.7 781.6,511.8 778.6,514.7 775.5,517.5 772.4,520.1 769.3,522.5 766.2,524.8 763.0,526.9 759.9,528.8 756.8,530.4 753.8,531.9 750.8,533.2 747.8,534.2 744.8,535.1 742.0,535.7 739.1,536.1 736.4,536.3 733.8,536.3 726.6,535.9 723.9,535.6 716.9,534.7 714.3,534.2 707.4,532.7 704.9,531.9 698.2,529.9 695.7,528.9 689.3,526.3 683.2,523.2 680.8,521.9 675.0,518.3 672.8,516.8 667.3,512.6 665.2,510.9 663.2,509.0 661.4,506.9 659.8,504.5 658.3,501.9 657.0,499.2 655.8,496.2 654.9,493.1 654.1,489.7 653.5,486.2 653.0,482.6 652.8,478.8" fill="#fff" stroke="#000" stroke-width="0.9"/>
<path d="M694.3,530.5 L692.1,529.0 L689.9,527.2 L688.0,525.2 L686.2,523.0 L684.5,520.6 L683.1,517.9 L681.8,515.1 L680.6,512.1 L679.7,508.8 L678.9,505.4 L678.3,501.9 L677.9,498.1 L677.7,494.3 L677.6,490.2 L677.8,486.1 L678.1,481.8 L678.7,477.5 L679.4,473.0 L680.2,468.5 L681.3,463.9 L682.5,459.2 L683.9,454.5 L685.5,449.8 L687.3,445.1 L689.2,440.3 L691.2,435.6 L693.4,430.9 L695.8,426.2 L698.2,421.6 L700.9,417.0 L703.6,412.5 L706.4,408.1 L709.4,403.8 L712.4,399.6 L715.6,395.5 L718.8,391.6 L722.1,387.8 L725.5,384.1 L728.9,380.7 L732.3,377.4 L735.8,374.2 L739.4,371.3 L742.9,368.6 L746.4,366.0 L750.0,363.7 L753.5,361.6 L757.0,359.8 L760.5,358.1 L763.9,356.7 L767.3,355.6 L770.6,354.6 L773.9,354.0 L777.1,353.5 L780.1,353.4 L783.1,353.4 L786.0,353.7 L788.8,354.3 L791.5,355.1 L794.0,356.2 L796.4,357.5" fill="none" stroke="#000" stroke-width="0.6"/>
<g fill="#fff" stroke="#000" stroke-width="0.9" stroke-linejoin="round"><polygon points="653.6,502.1 656.1,499.1 662.8,503.2 666.0,509.2 663.5,512.5 657.0,508.1" fill="#dcdcdc"/><path d="M657.0 508.1L659.5 504.9M653.6 502.1L656.1 499.1M660.2 506.1L662.8 503.2M663.5 512.4L666.0 509.3"/><polygon points="657.0,508.1 653.6,502.1 660.2,506.1 663.5,512.4"/><polygon points="648.7,475.2 651.5,473.3 658.8,476.4 658.9,485.4 656.1,487.6 649.1,484.2" fill="#dcdcdc"/><path d="M649.1 484.2L651.8 482.0M648.7 475.2L651.5 473.3M656.0 478.3L658.8 476.4M656.1 487.6L658.9 485.4"/><polygon points="649.1,484.2 648.7,475.2 656.0,478.3 656.1,487.6"/><polygon points="651.6,451.8 654.4,441.1 657.0,440.5 665.0,443.0 662.1,453.5 659.4,454.3" fill="#dcdcdc"/><path d="M651.6 451.7L654.3 450.8M654.4 441.1L656.9 440.5M662.5 443.5L665.0 443.0M659.4 454.3L662.1 453.5"/><polygon points="651.6,451.7 654.4,441.1 662.5,443.5 659.4,454.3"/><polygon points="664.3,415.6 669.8,404.9 678.6,407.0 680.5,408.0 675.0,418.4" fill="#dcdcdc"/><path d="M664.3 415.6L666.4 416.1M669.8 404.9L671.7 405.8M678.6 407.0L680.5 408.0M672.9 417.8L675.0 418.4"/><polygon points="664.3,415.6 669.8,404.9 678.6,407.0 672.9,417.8"/><polygon points="685.1,381.4 692.5,372.3 702.0,374.4 702.9,376.7 695.6,385.4 686.4,383.3" fill="#dcdcdc"/><path d="M685.1 381.4L686.4 383.3M692.5 372.3L693.5 374.5M702.0 374.4L702.9 376.7M694.4 383.5L695.7 385.4"/><polygon points="685.1,381.4 692.5,372.3 702.0,374.4 694.4,383.5"/><polygon points="710.9,354.2 719.0,348.1 729.0,350.7 728.8,354.0 720.9,359.7 711.2,357.2" fill="#dcdcdc"/><path d="M710.9 354.2L711.2 357.2M719.1 348.1L719.0 351.3M729.0 350.7L728.8 354.0M720.7 356.6L720.9 359.7"/><polygon points="710.9,354.2 719.1,348.1 729.0,350.7 720.7,356.6"/><polygon points="737.0,341.8 737.8,338.3 745.5,336.1 755.5,339.4 754.3,343.2 747.0,345.0" fill="#dcdcdc"/><path d="M737.8 338.3L737.0 341.8M745.5 336.1L744.4 339.7M755.5 339.4L754.3 343.2M747.8 341.4L747.0 345.0"/><polygon points="737.8,338.3 745.5,336.1 755.5,339.4 747.8,341.4"/><polygon points="759.9,339.6 761.7,335.9 767.7,338.0 777.6,342.4 775.5,346.0 769.8,343.7" fill="#dcdcdc"/><path d="M761.7 335.9L759.9 339.6M767.7 338.0L765.7 341.6M777.6 342.4L775.5 346.0M771.6 340.0L769.8 343.7"/><polygon points="761.7,335.9 767.7,338.0 777.6,342.4 771.6,340.0"/><polygon points="659.4,510.7 661.8,507.4 687.8,521.2 690.9,524.7 688.6,528.0 679.0,525.4 667.4,517.7" fill="#dcdcdc"/><path d="M667.4 517.7L669.5 514.1M659.4 510.7L661.8 507.4M666.8 515.4L669.3 512.2M670.0 519.2L672.3 515.8M685.4 524.4L687.8 521.2M688.6 528.0L690.9 524.7M679.0 525.4L681.2 521.9"/><polygon points="667.4,517.7 659.4,510.7 666.8,515.4 670.0,519.2 685.4,524.4 688.6,528.0 679.0,525.4"/><polygon points="650.6,487.7 653.3,485.4 661.4,489.1 679.8,498.9 680.8,504.8 678.1,507.3 666.3,506.7 653.8,500.6" fill="#dcdcdc"/><path d="M653.7 500.6L656.4 497.7M650.6 487.7L653.3 485.4M658.6 491.4L661.4 489.1M659.6 497.7L662.3 495.2M677.1 501.2L679.8 498.9M678.1 507.3L680.8 504.8M666.3 506.7L669.0 503.9"/><polygon points="653.7,500.6 650.6,487.7 658.6,491.4 659.6,497.7 677.1,501.2 678.1,507.3 666.3,506.7"/><polygon points="650.0,472.6 652.2,455.7 654.9,454.7 663.8,457.6 681.8,468.2 680.5,475.6 677.8,476.9 663.9,477.4" fill="#dcdcdc"/><path d="M650.1 472.6L652.8 470.8M652.2 455.7L654.9 454.7M661.1 458.6L663.8 457.6M659.6 466.5L662.3 465.2M679.2 469.2L681.8 468.2M677.8 476.9L680.5 475.6M663.9 477.4L666.7 475.8"/><polygon points="650.1,472.6 652.2,455.7 661.1,458.6 659.6,466.5 679.2,469.2 677.8,476.9 663.9,477.4"/><polygon points="656.9,437.9 664.0,419.6 666.2,420.0 675.9,422.5 693.5,433.9 690.1,441.6 672.0,441.9" fill="#dcdcdc"/><path d="M656.9 437.9L659.4 437.5M664.0 419.6L666.3 420.0M673.8 422.1L675.9 422.5M670.1 430.3L672.4 430.5M691.3 433.4L693.5 433.9M687.8 441.5L690.1 441.6M672.0 441.9L674.5 441.7"/><polygon points="656.9,437.9 664.0,419.6 673.8,422.1 670.1,430.3 691.3,433.4 687.8,441.5 672.0,441.9"/><polygon points="673.3,401.8 684.3,384.9 694.8,387.3 711.7,399.3 713.0,401.1 708.1,408.0 691.3,406.9 675.1,402.8" fill="#dcdcdc"/><path d="M673.3 401.8L675.1 402.8M684.3 384.9L685.7 386.7M694.8 387.3L696.1 389.2M689.5 394.7L691.0 396.3M711.7 399.3L713.0 401.0M706.5 406.5L708.1 408.0M689.6 405.7L691.3 406.9"/><polygon points="673.3,401.8 684.3,384.9 694.8,387.3 689.5,394.7 711.7,399.3 706.5,406.5 689.6,405.7"/><polygon points="696.7,369.8 709.9,356.9 720.9,359.7 737.2,371.9 737.5,374.8 731.8,379.9 714.6,376.7 697.6,372.1" fill="#dcdcdc"/><path d="M696.7 369.8L697.6 372.1M709.9 356.9L710.3 359.7M720.9 359.7L721.2 362.7M714.8 365.1L715.3 367.8M737.2 371.9L737.5 374.8M731.2 377.2L731.8 379.9M713.8 374.2L714.6 376.7"/><polygon points="696.7,369.8 709.9,356.9 720.9,359.7 714.8,365.1 737.2,371.9 731.2,377.2 713.8,374.2"/><polygon points="723.4,350.0 723.5,346.7 737.0,339.7 748.1,343.4 763.9,355.5 763.2,359.0 757.5,361.5" fill="#dcdcdc"/><path d="M723.5 346.7L723.4 350.0M737.0 339.7L736.3 343.3M748.1 343.4L747.3 347.0M742.1 345.9L741.6 349.4M763.9 355.5L763.2 359.0M758.0 358.1L757.5 361.5M741.0 352.3L740.7 355.7"/><polygon points="723.5,346.7 737.0,339.7 748.1,343.4 742.1,345.9 763.9,355.5 758.0,358.1 741.0,352.3"/><polygon points="748.5,339.9 749.7,336.1 761.3,336.1 772.4,340.8 787.8,352.6 786.1,356.2 781.4,355.7" fill="#dcdcdc"/><path d="M749.7 336.2L748.5 339.9M761.3 336.1L759.7 339.8M772.4 340.8L770.6 344.6M767.4 340.2L765.8 343.9M787.8 352.6L786.1 356.2M782.9 352.0L781.4 355.7M767.1 343.3L765.8 347.1"/><polygon points="749.7,336.2 761.3,336.1 772.4,340.8 767.4,340.2 787.8,352.6 782.9,352.0 767.1,343.3"/><polygon points="663.3,509.4 665.9,506.4 678.6,509.4 680.7,514.3 678.1,517.3 670.3,516.8 665.2,513.0" fill="#dcdcdc"/><path d="M670.3 516.8L672.8 513.6M665.2 513.1L667.7 509.9M663.3 509.4L665.9 506.4M676.0 512.2L678.6 509.4M678.1 517.3L680.7 514.3"/><polygon points="670.3,516.8 665.2,513.1 663.3,509.4 676.0,512.2 678.1,517.3"/><polygon points="658.2,482.3 661.0,480.3 675.8,482.0 675.5,488.9 672.8,490.8 662.7,492.1 658.3,487.7" fill="#dcdcdc"/><path d="M662.7 492.1L665.5 489.9M658.3 487.7L661.1 485.5M658.2 482.3L661.0 480.3M673.0 483.7L675.8 482.0M672.8 490.8L675.5 488.9"/><polygon points="662.7,492.1 658.3,487.7 658.2,482.3 673.0,483.7 672.8,490.8"/><polygon points="662.1,454.1 663.9,447.8 666.4,447.2 683.0,448.5 680.5,456.3 678.0,456.9 665.8,458.9" fill="#dcdcdc"/><path d="M665.8 458.9L668.5 458.0M662.1 454.1L664.8 453.3M663.9 447.8L666.4 447.2M680.5 448.8L683.0 448.5M678.0 456.9L680.5 456.3"/><polygon points="665.8,458.9 662.1,454.1 663.9,447.8 680.5,448.8 678.0,456.9"/><polygon points="676.0,417.5 679.3,411.2 697.4,412.9 699.2,414.0 694.9,421.6 681.2,422.9 679.1,422.4" fill="#dcdcdc"/><path d="M679.1 422.3L681.2 422.9M676.0 417.5L678.1 418.2M679.3 411.2L681.3 412.1M697.4 412.9L699.2 414.0M692.9 420.8L694.9 421.6"/><polygon points="679.1,422.3 676.0,417.5 679.3,411.2 697.4,412.9 692.9,420.8"/><polygon points="697.8,383.4 702.2,378.1 721.1,381.4 722.0,383.8 716.5,390.0 701.8,389.9 700.5,387.9" fill="#dcdcdc"/><path d="M700.5 387.9L701.8 389.9M697.8 383.4L699.0 385.4M702.2 378.1L703.3 380.3M721.1 381.4L722.0 383.8M715.4 387.8L716.4 390.0"/><polygon points="700.5,387.9 697.8,383.4 702.2,378.1 721.1,381.4 715.4,387.8"/><polygon points="724.3,357.0 729.1,353.5 748.0,359.2 747.8,362.5 741.9,366.3 727.0,363.9 724.5,360.1" fill="#dcdcdc"/><path d="M726.8 360.9L727.0 363.9M724.3 357.0L724.5 360.1M729.1 353.5L729.1 356.7M748.0 359.2L747.8 362.5M741.9 363.2L741.9 366.3"/><polygon points="726.8,360.9 724.3,357.0 729.1,353.5 748.0,359.2 741.9,363.2"/><polygon points="750.5,345.9 751.4,342.3 755.9,341.1 774.0,349.5 772.7,353.2 767.4,354.1 753.1,349.0" fill="#dcdcdc"/><path d="M754.0 345.3L753.1 349.0M751.4 342.3L750.5 345.9M755.9 341.1L754.8 344.8M774.0 349.5L772.7 353.2M768.4 350.5L767.4 354.2"/><polygon points="754.0,345.3 751.4,342.3 755.9,341.1 774.0,349.5 768.4,350.5"/><polygon points="773.1,345.2 775.0,341.5 778.5,342.9 795.1,354.0 792.9,357.5 789.0,355.4 776.1,347.4" fill="#dcdcdc"/><path d="M777.9 343.7L776.1 347.4M775.0 341.5L773.1 345.2M778.5 342.9L776.5 346.5M795.1 354.0L792.9 357.5M790.9 351.8L789.0 355.4"/><polygon points="777.9,343.7 775.0,341.5 778.5,342.9 795.1,354.0 790.9,351.8"/><polygon points="687.4,528.5 689.6,525.0 695.4,526.5 697.7,528.4 695.6,531.8 689.9,530.4" fill="#dcdcdc"/><path d="M689.9 530.4L692.1 526.9M687.4 528.5L689.6 525.1M693.2 529.8L695.4 526.5M695.6 531.8L697.7 528.4"/><polygon points="689.9,530.4 687.4,528.5 693.2,529.8 695.6,531.8"/><polygon points="675.9,508.8 678.6,506.1 685.0,507.3 685.9,510.9 683.3,513.6 677.0,512.4" fill="#dcdcdc"/><path d="M677.0 512.4L679.6 509.7M675.9 508.7L678.6 506.1M682.3 509.8L685.0 507.3M683.3 513.6L685.9 510.9"/><polygon points="677.0,512.4 675.9,508.7 682.3,509.8 683.3,513.6"/><polygon points="674.1,483.9 674.6,478.9 677.3,477.5 684.2,478.8 683.7,483.5 681.0,485.0" fill="#dcdcdc"/><path d="M674.1 483.9L676.9 482.2M674.6 478.9L677.3 477.5M681.5 480.1L684.2 478.8M681.0 485.0L683.7 483.5"/><polygon points="674.1,483.9 674.6,478.9 681.5,480.1 681.0,485.0"/><polygon points="681.7,449.0 683.7,443.6 686.1,443.6 693.3,445.2 691.3,450.4 688.9,450.6" fill="#dcdcdc"/><path d="M681.7 449.0L684.2 448.8M683.7 443.6L686.1 443.6M691.0 445.2L693.3 445.2M688.9 450.6L691.3 450.4"/><polygon points="681.7,449.0 683.7,443.6 691.0,445.2 688.9,450.6"/><polygon points="698.6,413.2 701.8,408.1 709.2,410.4 710.8,411.8 707.7,416.6 700.4,414.4" fill="#dcdcdc"/><path d="M698.6 413.2L700.4 414.4M701.8 408.1L703.5 409.5M709.2 410.4L710.8 411.8M706.0 415.4L707.7 416.6"/><polygon points="698.6,413.2 701.8,408.1 709.2,410.4 706.0,415.4"/><polygon points="722.3,381.9 726.2,377.9 733.4,381.0 734.0,383.6 730.3,387.3 723.1,384.3" fill="#dcdcdc"/><path d="M722.3 381.9L723.1 384.3M726.2 377.9L726.9 380.4M733.4 381.0L734.0 383.6M729.5 384.9L730.3 387.3"/><polygon points="722.3,381.9 726.2,377.9 733.4,381.0 729.5,384.9"/><polygon points="748.9,363.1 749.1,359.8 753.2,357.5 760.0,361.5 759.5,364.9 755.7,366.9" fill="#dcdcdc"/><path d="M749.1 359.8L748.9 363.1M753.2 357.5L752.8 360.9M760.0 361.5L759.5 364.9M756.0 363.6L755.7 366.9"/><polygon points="749.1,359.8 753.2,357.5 760.0,361.5 756.0,363.6"/><polygon points="773.8,354.0 775.0,350.3 778.6,350.0 784.8,354.8 783.3,358.5 780.0,358.6" fill="#dcdcdc"/><path d="M775.0 350.3L773.7 354.0M778.6 350.0L777.2 353.7M784.8 354.8L783.3 358.5M781.3 354.9L780.0 358.6"/><polygon points="775.0,350.3 778.6,350.0 784.8,354.8 781.3,354.9"/><polygon points="808.0,373.1 810.5,370.1 822.4,386.4 823.7,389.4 821.3,392.0 809.7,376.6" fill="#dcdcdc"/><path d="M810.5 370.1L808.0 373.1M812.3 373.7L809.7 376.6M823.7 389.4L821.3 392.0M822.4 386.4L820.0 389.1"/><polygon points="810.5,370.1 812.3,373.7 823.7,389.4 822.4,386.4"/><polygon points="814.0,397.2 816.7,395.2 827.4,410.4 827.3,414.7 824.7,416.3 814.0,402.3" fill="#dcdcdc"/><path d="M816.7 395.2L814.0 397.2M816.7 400.5L814.0 402.3M827.3 414.7L824.7 416.3M827.3 410.4L824.8 412.2"/><polygon points="816.7,395.2 816.7,400.5 827.3,414.7 827.3,410.4"/><polygon points="808.3,434.7 810.0,428.7 812.5,428.0 822.7,441.2 821.2,446.1 818.9,446.5" fill="#dcdcdc"/><path d="M812.5 428.0L810.0 428.7M810.7 434.2L808.3 434.7M821.2 446.1L818.9 446.5M822.7 441.2L820.4 441.7"/><polygon points="812.5,428.0 810.7,434.2 821.2,446.1 822.7,441.2"/><polygon points="793.5,468.7 796.6,462.9 798.6,463.6 809.2,474.1 806.5,478.9 804.8,478.0" fill="#dcdcdc"/><path d="M798.6 463.6L796.6 462.9M795.4 469.7L793.5 468.7M806.5 478.9L804.8 478.0M809.2 474.1L807.4 473.4"/><polygon points="798.6,463.6 795.4,469.7 806.5,478.9 809.2,474.1"/><polygon points="771.9,499.3 776.0,494.4 787.8,502.2 788.8,504.2 785.3,508.2 772.8,501.5" fill="#dcdcdc"/><path d="M777.2 496.4L776.0 494.4M772.8 501.5L771.9 499.3M785.3 508.2L784.5 506.0M788.8 504.2L787.8 502.2"/><polygon points="777.2,496.4 772.8,501.5 785.3,508.2 788.8,504.2"/><polygon points="746.7,524.9 746.7,521.8 751.2,518.6 764.7,523.9 764.7,526.8 761.0,529.3" fill="#dcdcdc"/><path d="M751.3 521.6L751.2 518.6M746.7 524.9L746.7 521.8M761.0 529.3L761.1 526.3M764.7 526.8L764.7 523.9"/><polygon points="751.3,521.6 746.7,524.9 761.0,529.3 764.7,526.8"/><polygon points="720.8,536.3 721.9,532.7 726.0,531.7 741.5,535.1 740.5,538.5 737.1,539.1" fill="#dcdcdc"/><path d="M725.1 535.3L726.0 531.7M720.8 536.3L721.9 532.7M737.1 539.1L738.2 535.8M740.5 538.5L741.5 535.1"/><polygon points="725.1,535.3 720.8,536.3 737.1,539.1 740.5,538.5"/><polygon points="699.1,533.9 701.1,530.4 719.2,533.0 721.7,534.2 719.9,537.5 702.5,535.3" fill="#dcdcdc"/><path d="M702.5 535.3L704.3 531.8M699.1 533.9L701.1 530.4M717.4 536.2L719.2 533.0M719.9 537.5L721.7 534.2"/><polygon points="702.5,535.3 699.1,533.9 717.4,536.2 719.9,537.5"/><polygon points="685.0,518.1 687.6,515.3 707.1,518.3 708.4,521.2 706.1,523.9 686.8,521.8" fill="#dcdcdc"/><path d="M686.8 521.8L689.3 518.8M685.0 518.1L687.6 515.3M704.8 520.9L707.1 518.3M706.1 523.9L708.4 521.2"/><polygon points="686.8,521.8 685.0,518.1 704.8,520.9 706.1,523.9"/><polygon points="680.6,491.4 683.3,489.6 703.7,494.0 703.6,498.1 701.1,499.9 680.6,496.7" fill="#dcdcdc"/><path d="M680.6 496.7L683.4 494.7M680.6 491.4L683.3 489.6M701.2 495.6L703.7 494.0M701.1 499.9L703.7 498.1"/><polygon points="680.6,496.7 680.6,491.4 701.2,495.6 701.1,499.9"/><polygon points="684.8,463.9 686.6,457.7 689.0,457.2 709.5,463.8 708.1,468.5 705.8,469.1" fill="#dcdcdc"/><path d="M684.8 463.9L687.3 463.2M686.6 457.7L689.0 457.2M707.3 464.2L709.5 463.8M705.8 469.1L708.1 468.5"/><polygon points="684.8,463.9 686.6,457.7 707.3,464.2 705.8,469.1"/><polygon points="698.7,428.3 702.0,422.2 722.0,431.3 723.7,432.3 721.1,436.9" fill="#dcdcdc"/><path d="M698.7 428.3L700.7 429.0M702.0 422.2L703.8 423.2M722.0 431.3L723.7 432.3M719.3 436.1L721.1 436.9"/><polygon points="698.7,428.3 702.0,422.2 722.0,431.3 719.3,436.1"/><polygon points="720.2,395.4 724.5,390.4 743.1,402.1 744.0,404.2 740.7,408.0 721.3,397.5" fill="#dcdcdc"/><path d="M720.2 395.4L721.3 397.5M724.5 390.4L725.4 392.6M743.1 402.1L744.0 404.2M739.7 406.1L740.7 408.0"/><polygon points="720.2,395.4 724.5,390.4 743.1,402.1 739.7,406.1"/><polygon points="746.0,370.3 750.7,367.0 767.5,381.0 767.4,383.9 763.8,386.4 746.1,373.3" fill="#dcdcdc"/><path d="M746.0 370.3L746.1 373.3M750.7 367.0L750.6 370.1M767.5 381.0L767.4 383.9M763.8 383.5L763.8 386.4"/><polygon points="746.0,370.3 750.7,367.0 767.5,381.0 763.8,383.5"/><polygon points="771.3,360.2 772.2,356.6 776.5,355.6 791.4,371.1 790.3,374.5 787.0,375.1" fill="#dcdcdc"/><path d="M772.2 356.6L771.3 360.2M776.5 355.6L775.4 359.2M791.4 371.1L790.3 374.5M788.0 371.8L787.0 375.1"/><polygon points="772.2,356.6 776.5,355.6 791.4,371.1 788.0,371.8"/><polygon points="793.0,360.1 794.9,356.5 798.2,358.0 811.1,374.1 809.2,377.3 806.8,376.1" fill="#dcdcdc"/><path d="M794.9 356.5L793.0 360.1M798.2 358.0L796.2 361.5M811.1 374.1L809.2 377.3M808.5 372.8L806.8 376.1"/><polygon points="794.9,356.5 798.2,358.0 811.1,374.1 808.5,372.8"/><polygon points="806.6,370.4 808.9,367.1 812.7,372.5 821.8,385.7 824.5,390.0 822.2,392.7" fill="#dcdcdc"/><path d="M808.9 367.2L806.6 370.4M812.7 372.5L810.2 375.5M824.5 390.0L822.2 392.7M821.8 385.7L819.7 388.6"/><polygon points="808.9,367.2 812.7,372.5 824.5,390.0 821.8,385.7"/><polygon points="815.4,391.2 818.0,388.9 829.1,406.7 829.5,413.3 827.0,415.0 816.1,399.4" fill="#dcdcdc"/><path d="M818.0 388.9L815.4 391.2M818.8 397.3L816.1 399.4M829.5 413.3L827.0 415.0M829.1 406.7L826.7 408.7"/><polygon points="818.0,388.9 818.8,397.3 829.5,413.3 829.1,406.7"/><polygon points="812.2,430.5 814.4,420.7 817.0,419.6 827.1,435.3 825.1,443.2 822.9,443.8" fill="#dcdcdc"/><path d="M817.0 419.6L814.4 420.7M814.7 429.8L812.2 430.5M825.1 443.2L822.8 443.8M827.1 435.3L824.7 436.2"/><polygon points="817.0,419.6 814.7,429.8 825.1,443.2 827.1,435.3"/><polygon points="799.0,464.3 803.8,454.2 806.0,454.5 816.1,467.4 812.1,475.3 810.3,474.6" fill="#dcdcdc"/><path d="M806.0 454.5L803.8 454.2M801.0 465.0L799.0 464.3M812.1 475.3L810.3 474.6M816.1 467.3L814.2 466.9"/><polygon points="806.0,454.5 801.0,465.0 812.1,475.3 816.1,467.3"/><polygon points="778.6,495.6 785.3,486.8 796.6,496.2 797.8,497.8 792.3,504.7 779.7,497.6" fill="#dcdcdc"/><path d="M786.7 488.4L785.3 486.8M779.7 497.6L778.6 495.6M792.3 504.7L791.4 502.8M797.8 497.8L796.6 496.2"/><polygon points="786.7,488.4 779.7,497.6 792.3,504.7 797.8,497.8"/><polygon points="754.1,519.5 761.6,513.3 774.6,519.6 774.9,522.2 768.9,526.8 754.2,522.5" fill="#dcdcdc"/><path d="M762.1 516.1L761.6 513.3M754.2 522.5L754.1 519.5M768.9 526.8L768.9 524.1M774.9 522.2L774.6 519.6"/><polygon points="762.1,516.1 754.2,522.5 768.9,526.8 774.9,522.2"/><polygon points="728.2,536.0 729.1,532.5 736.4,529.9 751.7,533.5 751.0,536.6 745.3,538.4" fill="#dcdcdc"/><path d="M735.8 533.3L736.4 529.9M728.2 536.0L729.1 532.5M745.3 538.4L746.2 535.2M751.0 536.6L751.7 533.5"/><polygon points="735.8,533.3 728.2,536.0 745.3,538.4 751.0,536.6"/><polygon points="705.8,536.1 707.6,532.6 726.9,534.5 731.2,535.8 729.7,539.0 711.9,537.6" fill="#dcdcdc"/><path d="M711.9 537.6L713.5 534.0M705.8 536.1L707.6 532.6M725.2 537.7L726.9 534.5M729.7 539.0L731.2 535.8"/><polygon points="711.9,537.6 705.8,536.1 725.2,537.7 729.7,539.0"/><polygon points="690.3,522.7 692.8,519.7 713.8,522.0 716.4,526.1 714.2,529.0 694.0,528.1" fill="#dcdcdc"/><path d="M694.1 528.1L696.3 524.9M690.3 522.7L692.8 519.7M711.6 524.7L713.8 522.0M714.2 529.0L716.4 526.1"/><polygon points="694.1,528.1 690.3,522.7 711.6,524.7 714.2,529.0"/><polygon points="684.2,497.9 686.9,495.9 709.0,499.7 709.4,506.0 706.9,508.1 684.9,506.3" fill="#dcdcdc"/><path d="M684.9 506.3L687.6 504.0M684.2 497.9L686.9 495.9M706.6 501.5L709.0 499.7M706.9 508.1L709.4 506.0"/><polygon points="684.9,506.3 684.2,497.9 706.6,501.5 706.9,508.1"/><polygon points="686.0,475.7 688.3,465.4 690.8,464.7 713.2,470.9 711.3,478.5 709.0,479.4" fill="#dcdcdc"/><path d="M686.0 475.7L688.6 474.5M688.3 465.4L690.8 464.7M710.9 471.5L713.2 471.0M708.9 479.4L711.3 478.5"/><polygon points="686.0,475.7 688.3,465.4 710.9,471.5 708.9,479.4"/><polygon points="697.0,440.7 702.0,430.2 704.0,430.9 725.7,440.1 721.9,447.8 720.0,447.4" fill="#dcdcdc"/><path d="M697.0 440.7L699.1 441.0M702.0 430.2L704.0 430.9M723.9 439.4L725.7 440.1M720.0 447.4L721.9 447.8"/><polygon points="697.0,440.7 702.0,430.2 723.9,439.4 720.0,447.4"/><polygon points="716.3,406.8 723.2,397.6 743.7,410.1 744.7,411.9 739.5,418.5 717.7,408.5" fill="#dcdcdc"/><path d="M716.3 406.8L717.7 408.5M723.3 397.7L724.4 399.7M743.7 410.1L744.7 412.0M738.3 416.9L739.5 418.5"/><polygon points="716.3,406.8 723.3,397.7 743.7,410.1 738.3,416.9"/><polygon points="740.9,379.1 748.8,372.7 767.1,387.9 767.2,390.7 761.4,395.1 741.3,381.9" fill="#dcdcdc"/><path d="M740.9 379.1L741.3 381.9M748.8 372.7L748.9 375.7M767.1 387.9L767.2 390.7M761.1 392.6L761.4 395.1"/><polygon points="740.9,379.1 748.8,372.7 767.1,387.9 761.1,392.6"/><polygon points="766.6,365.3 767.2,361.9 774.8,359.2 790.7,376.3 789.8,379.6 784.3,381.3" fill="#dcdcdc"/><path d="M767.2 361.9L766.6 365.3M774.8 359.2L773.9 362.7M790.7 376.3L789.8 379.5M785.0 378.1L784.3 381.3"/><polygon points="767.2,361.9 774.8,359.2 790.7,376.3 785.0,378.1"/><polygon points="789.5,361.3 791.1,357.7 797.2,359.1 810.9,377.1 809.1,380.3 804.8,378.9" fill="#dcdcdc"/><path d="M791.1 357.7L789.5 361.3M797.2 359.1L795.4 362.6M810.9 377.1L809.1 380.3M806.3 375.7L804.8 379.0"/><polygon points="791.1,357.7 797.2,359.1 810.9,377.1 806.3,375.7"/></g>
<ellipse cx="767.4" cy="457.0" rx="83.2" ry="43.1" transform="rotate(-59.73 767.4 457.0)" fill="#fff" stroke="#000" stroke-width="2.0"/>
<ellipse cx="767.4" cy="457.0" rx="80.3" ry="41.6" transform="rotate(-59.73 767.4 457.0)" fill="none" stroke="#000" stroke-width="0.9"/>
<ellipse cx="767.4" cy="457.0" rx="73.2" ry="37.9" transform="rotate(-59.73 767.4 457.0)" fill="none" stroke="#000" stroke-width="0.9"/>
<ellipse cx="762.8" cy="455.0" rx="56.2" ry="29.1" transform="rotate(-59.73 762.8 455.0)" fill="#fff" stroke="#000" stroke-width="1.6"/>
<clipPath id="h2"><ellipse cx="762.8" cy="455.0" rx="56.2" ry="29.1" transform="rotate(-59.73 762.8 455.0)" /></clipPath>
<g clip-path="url(#h2)"><ellipse cx="728.7" cy="434.1" rx="56.2" ry="29.1" transform="rotate(-59.73 728.7 434.1)" fill="none" stroke="#000" stroke-width="0.8"/><ellipse cx="728.7" cy="434.1" rx="58.4" ry="30.3" transform="rotate(-59.73 728.7 434.1)" fill="none" stroke="#000" stroke-width="0.8"/><ellipse cx="756.6" cy="450.6" rx="57.3" ry="29.7" transform="rotate(-59.73 756.6 450.6)" fill="none" stroke="#000" stroke-width="0.7"/><ellipse cx="744.2" cy="443.3" rx="57.3" ry="29.7" transform="rotate(-59.73 744.2 443.3)" fill="none" stroke="#000" stroke-width="0.7"/><line x1="470.0" y1="279.8" x2="900.0" y2="534.0" stroke="#000" stroke-width="0.9" stroke-dasharray="10,4"/></g>
<ellipse cx="762.8" cy="455.0" rx="57.9" ry="30.0" transform="rotate(-59.73 762.8 455.0)" fill="none" stroke="#000" stroke-width="0.6"/>
<ellipse cx="762.8" cy="455.0" rx="59.1" ry="30.6" transform="rotate(-59.73 762.8 455.0)" fill="none" stroke="#000" stroke-width="0.6"/>
<g fill="#fff" stroke="#000" stroke-width="0.9" stroke-linejoin="round"><polygon points="364.6,297.9 366.8,294.6 369.7,298.3 374.1,306.2 372.0,309.3 369.2,306.4" fill="#dcdcdc"/><path d="M366.8 294.6L364.6 297.9M369.7 298.3L367.4 301.5M374.1 306.2L372.0 309.3M371.1 303.2L369.2 306.4"/><polygon points="366.8,294.6 369.7,298.3 374.1,306.2 371.1,303.2"/><polygon points="371.6,309.2 374.1,306.4 378.7,313.2 380.7,317.6 378.3,320.2 373.3,314.1" fill="#dcdcdc"/><path d="M374.1 306.4L371.6 309.3M375.9 311.4L373.3 314.1M380.7 317.6L378.3 320.2M378.7 313.2L376.4 316.0"/><polygon points="374.1,306.4 375.9,311.4 380.7,317.6 378.7,313.2"/><polygon points="375.6,324.0 378.2,321.8 383.4,326.8 384.3,332.2 381.9,334.3 376.2,329.9" fill="#dcdcdc"/><path d="M378.2 321.8L375.6 324.0M378.9 327.9L376.2 329.9M384.3 332.3L381.8 334.3M383.4 326.8L380.9 329.1"/><polygon points="378.2,321.8 378.9,327.9 384.3,332.3 383.4,326.8"/><polygon points="375.9,348.1 376.4,341.5 379.1,340.0 385.1,343.2 384.9,349.5 382.4,350.9" fill="#dcdcdc"/><path d="M379.1 340.0L376.4 341.5M378.6 346.8L375.9 348.1M384.9 349.5L382.4 350.9M385.1 343.2L382.5 344.8"/><polygon points="379.1,340.0 378.6,346.8 384.9,349.5 385.1,343.2"/><polygon points="372.4,367.8 374.0,360.8 376.6,360.1 383.6,361.7 382.3,368.5 379.9,369.1" fill="#dcdcdc"/><path d="M376.6 360.1L374.0 360.8M374.9 367.4L372.4 367.8M382.3 368.5L379.9 369.1M383.6 361.7L381.1 362.6"/><polygon points="376.6,360.1 374.9,367.4 382.3,368.5 383.6,361.7"/><polygon points="365.9,388.0 368.5,380.9 379.0,381.3 376.7,388.2 368.1,388.4" fill="#dcdcdc"/><path d="M370.8 381.0L368.5 380.9M368.1 388.4L365.9 388.0M376.7 388.2L374.6 388.0M379.0 381.3L376.7 381.4"/><polygon points="370.8,381.0 368.1,388.4 376.7,388.2 379.0,381.3"/><polygon points="356.7,407.7 360.2,400.9 369.6,400.3 371.6,401.0 368.4,407.7 358.6,408.9" fill="#dcdcdc"/><path d="M362.2 401.9L360.2 400.9M358.6 409.0L356.7 407.7M368.4 407.7L366.6 406.8M371.6 401.0L369.6 400.3"/><polygon points="362.2,401.9 358.6,409.0 368.4,407.7 371.6,401.0"/><polygon points="345.3,425.9 349.5,419.8 360.2,418.4 361.7,419.9 357.8,426.1 346.7,427.9" fill="#dcdcdc"/><path d="M351.1 421.5L349.5 419.8M346.7 427.9L345.3 425.9M357.8 426.1L356.4 424.4M361.7 419.8L360.2 418.4"/><polygon points="351.1,421.5 346.7,427.9 357.8,426.1 361.7,419.8"/><polygon points="332.2,441.8 336.9,436.5 348.8,434.8 349.9,436.9 345.4,442.3 333.1,444.4" fill="#dcdcdc"/><path d="M338.0 439.0L336.9 436.5M333.0 444.4L332.2 441.8M345.4 442.3L344.5 439.9M349.9 436.9L348.8 434.8"/><polygon points="338.0,439.0 333.0,444.4 345.4,442.3 349.9,436.9"/><polygon points="318.1,454.4 323.1,450.4 336.1,448.6 336.7,451.3 331.8,455.6 318.4,457.6" fill="#dcdcdc"/><path d="M323.6 453.4L323.1 450.4M318.4 457.6L318.2 454.4M331.8 455.5L331.4 452.7M336.7 451.3L336.1 448.6"/><polygon points="323.6,453.4 318.4,457.6 331.8,455.5 336.7,451.3"/><polygon points="303.4,466.7 303.8,463.2 308.8,460.6 322.7,459.1 322.7,462.3 317.8,465.2" fill="#dcdcdc"/><path d="M308.7 464.0L308.8 460.6M303.4 466.7L303.8 463.2M317.8 465.2L318.0 462.0M322.7 462.3L322.7 459.1"/><polygon points="308.7,464.0 303.4,466.7 317.8,465.2 322.7,462.3"/><polygon points="288.9,471.4 289.9,467.7 294.6,466.6 309.3,465.9 308.7,469.4 304.0,470.8" fill="#dcdcdc"/><path d="M293.9 470.3L294.6 466.6M288.9 471.4L289.9 467.7M304.0 470.8L304.7 467.3M308.7 469.4L309.3 465.9"/><polygon points="293.9,470.3 288.9,471.4 304.0,470.8 308.7,469.4"/><polygon points="275.6,471.4 277.1,467.7 296.5,468.6 295.4,472.1 280.1,472.0" fill="#dcdcdc"/><path d="M280.1 472.0L281.4 468.2M275.6 471.4L277.1 467.7M291.1 472.1L292.3 468.5M295.4 472.1L296.5 468.6"/><polygon points="280.1,472.0 275.6,471.4 291.1,472.1 295.4,472.1"/><polygon points="264.1,466.8 266.0,463.2 281.4,465.5 285.1,467.0 283.5,470.5 267.9,468.9" fill="#dcdcdc"/><path d="M267.9 468.9L269.7 465.3M264.1 466.8L266.0 463.2M279.7 468.9L281.5 465.5M283.5 470.5L285.1 467.0"/><polygon points="267.9,468.9 264.1,466.8 279.7,468.9 283.5,470.5"/><polygon points="346.8,282.6 348.9,278.9 363.2,290.5 366.2,294.2 363.9,297.4" fill="#dcdcdc"/><path d="M348.9 278.9L346.8 282.6M352.4 281.8L350.2 285.3M366.2 294.2L363.8 297.4M363.2 290.5L361.0 293.9"/><polygon points="348.9,278.9 352.4,281.8 366.2,294.2 363.2,290.5"/><polygon points="355.6,291.9 358.0,288.6 370.7,302.3 372.6,307.3 370.0,310.0 358.0,296.1" fill="#dcdcdc"/><path d="M358.0 288.6L355.6 291.9M360.5 293.0L358.0 296.1M372.6 307.3L370.0 310.0M370.7 302.3L368.2 305.2"/><polygon points="358.0,288.6 360.5,293.0 372.6,307.3 370.7,302.3"/><polygon points="361.5,305.1 364.1,302.4 375.1,317.7 375.8,323.9 373.1,325.9 362.8,310.5" fill="#dcdcdc"/><path d="M364.1 302.4L361.5 305.1M365.5 308.1L362.8 310.5M375.8 323.9L373.1 325.9M375.1 317.7L372.4 320.0"/><polygon points="364.1,302.4 365.5,308.1 375.8,323.9 375.1,317.7"/><polygon points="364.2,321.6 367.0,319.6 376.1,336.1 375.7,343.0 373.0,344.3 364.4,328.0" fill="#dcdcdc"/><path d="M367.0 319.6L364.2 321.6M367.2 326.2L364.4 328.0M375.7 343.0L373.0 344.3M376.1 336.1L373.4 337.6"/><polygon points="367.0,319.6 367.2,326.2 375.7,343.0 376.1,336.1"/><polygon points="362.7,347.5 363.7,340.5 366.4,339.2 373.8,356.4 372.1,363.8 369.6,364.2" fill="#dcdcdc"/><path d="M366.4 339.2L363.7 340.5M365.4 346.5L362.7 347.5M372.1 363.8L369.6 364.3M373.7 356.4L371.1 357.2"/><polygon points="366.4,339.2 365.4,346.5 372.1,363.8 373.7,356.4"/><polygon points="357.7,368.1 359.8,360.8 362.4,360.4 368.1,377.7 365.4,385.2 363.1,384.8" fill="#dcdcdc"/><path d="M362.4 360.4L359.8 360.8M360.2 368.0L357.7 368.1M365.4 385.2L363.1 384.8M368.1 377.7L365.7 377.6"/><polygon points="362.4,360.4 360.2,368.0 365.4,385.2 368.1,377.7"/><polygon points="349.8,388.8 352.9,381.6 355.2,382.1 359.5,398.9 355.8,406.1 353.9,404.8" fill="#dcdcdc"/><path d="M355.2 382.1L352.9 381.6M352.0 389.6L349.8 388.8M355.8 406.1L353.9 404.8M359.5 398.9L357.4 397.9"/><polygon points="355.2,382.1 352.0,389.6 355.8,406.1 359.5,398.9"/><polygon points="339.3,408.6 343.2,401.8 345.1,403.2 348.3,418.9 343.9,425.4 342.4,423.4" fill="#dcdcdc"/><path d="M345.1 403.2L343.2 401.8M341.0 410.2L339.3 408.6M343.8 425.4L342.4 423.4M348.3 418.9L346.7 417.1"/><polygon points="345.1,403.2 341.0,410.2 343.8,425.4 348.3,418.9"/><polygon points="326.8,426.4 331.4,420.4 332.7,422.5 335.1,436.7 330.1,442.3 329.2,439.6" fill="#dcdcdc"/><path d="M332.7 422.5L331.4 420.4M327.9 428.7L326.8 426.4M330.1 442.3L329.2 439.6M335.1 436.7L334.0 434.3"/><polygon points="332.7,422.5 327.9,428.7 330.1,442.3 335.1,436.7"/><polygon points="312.8,441.3 317.8,436.5 318.6,439.2 320.5,451.5 315.3,455.8" fill="#dcdcdc"/><path d="M318.6 439.3L317.8 436.5M313.4 444.3L312.8 441.3M315.3 455.8L315.0 452.6M320.5 451.5L320.0 448.5"/><polygon points="318.6,439.3 313.4,444.3 315.3,455.8 320.5,451.5"/><polygon points="298.1,456.2 298.1,452.7 303.3,449.2 305.5,459.0 305.4,462.5 300.1,465.3" fill="#dcdcdc"/><path d="M303.5 452.5L303.3 449.2M298.1 456.2L298.1 452.7M300.1 465.3L300.4 461.7M305.4 462.5L305.5 459.0"/><polygon points="303.5,452.5 298.1,456.2 300.1,465.3 305.4,462.5"/><polygon points="282.8,463.7 283.4,459.9 288.5,457.9 291.1,465.4 290.4,469.1 285.3,470.3" fill="#dcdcdc"/><path d="M288.1 461.6L288.5 457.9M282.8 463.7L283.4 459.9M285.3 470.3L286.2 466.5M290.4 469.1L291.1 465.4"/><polygon points="288.1,461.6 282.8,463.7 285.3,470.3 290.4,469.1"/><polygon points="268.3,466.5 269.5,462.6 274.2,462.2 277.6,467.2 276.3,471.0 271.7,470.6" fill="#dcdcdc"/><path d="M273.2 466.1L274.2 462.2M268.3 466.5L269.5 462.6M271.7 470.6L273.2 466.8M276.3 471.0L277.6 467.2"/><polygon points="273.2,466.1 268.3,466.5 271.7,470.6 276.3,471.0"/><polygon points="255.3,464.4 257.0,460.7 261.2,461.9 265.6,464.5 263.8,468.2" fill="#dcdcdc"/><path d="M259.6 465.7L261.2 461.9M255.3 464.4L257.0 460.7M259.9 466.1L261.9 462.5M263.8 468.2L265.6 464.5"/><polygon points="259.6,465.7 255.3,464.4 259.9,466.1 263.8,468.2"/><polygon points="332.6,276.0 334.4,272.3 343.3,275.7 349.1,279.6 347.0,283.2 338.2,279.6" fill="#dcdcdc"/><path d="M334.4 272.3L332.6 276.0M340.2 276.0L338.2 279.6M349.1 279.7L347.0 283.2M343.3 275.7L341.4 279.4"/><polygon points="334.4,272.3 340.2,276.0 349.1,279.7 343.3,275.7"/><polygon points="342.3,283.4 344.5,280.1 353.3,283.9 357.6,290.3 355.1,293.4 346.5,289.3" fill="#dcdcdc"/><path d="M344.5 280.1L342.3 283.4M348.9 286.2L346.5 289.3M357.6 290.3L355.1 293.5M353.3 283.9L351.0 287.3"/><polygon points="344.5,280.1 348.9,286.2 357.6,290.3 353.3,283.9"/><polygon points="349.3,294.9 351.8,292.0 360.4,296.4 363.0,304.9 360.3,307.5 351.9,302.8" fill="#dcdcdc"/><path d="M351.8 292.0L349.3 294.9M354.5 300.2L351.9 302.8M363.0 304.9L360.3 307.5M360.4 296.4L357.9 299.3"/><polygon points="351.8,292.0 354.5,300.2 363.0,304.9 360.4,296.4"/><polygon points="353.3,309.9 355.9,307.6 364.4,312.6 365.1,322.7 362.3,324.5 354.1,319.4" fill="#dcdcdc"/><path d="M355.9 307.6L353.3 309.9M356.8 317.5L354.1 319.3M365.1 322.7L362.3 324.5M364.3 312.6L361.6 314.8"/><polygon points="355.9,307.6 356.8,317.5 365.1,322.7 364.3,312.6"/><polygon points="353.1,338.2 354.1,327.6 356.8,326.1 364.9,331.5 363.7,342.8 361.0,343.8" fill="#dcdcdc"/><path d="M356.8 326.1L354.1 327.6M355.8 337.1L353.1 338.2M363.7 342.8L361.0 343.8M364.9 331.5L362.1 333.0"/><polygon points="356.8,326.1 355.8,337.1 363.7,342.8 364.9,331.5"/><polygon points="348.9,358.3 351.6,347.1 354.2,346.4 362.0,352.3 359.0,364.1 356.5,364.3" fill="#dcdcdc"/><path d="M354.2 346.4L351.6 347.1M351.4 358.1L348.9 358.3M359.0 364.1L356.5 364.3M362.0 352.3L359.4 352.9"/><polygon points="354.2,346.4 351.4,358.1 359.0,364.1 362.0,352.3"/><polygon points="341.7,378.8 346.0,367.5 348.4,367.7 355.8,373.9 351.1,385.7 348.9,385.1" fill="#dcdcdc"/><path d="M348.4 367.7L346.0 367.5M343.9 379.4L341.7 378.8M351.1 385.7L348.9 385.1M355.8 373.9L353.4 373.7"/><polygon points="348.4,367.7 343.9,379.4 351.1,385.7 355.8,373.9"/><polygon points="331.9,398.5 337.6,387.8 339.6,388.8 346.6,395.2 340.5,406.5 338.7,405.0" fill="#dcdcdc"/><path d="M339.6 388.8L337.6 387.8M333.7 399.9L331.9 398.5M340.5 406.5L338.7 405.0M346.6 395.2L344.6 394.2"/><polygon points="339.6,388.8 333.7,399.9 340.5,406.5 346.6,395.2"/><polygon points="319.9,416.5 326.8,406.9 333.4,413.4 334.9,415.2 327.6,425.3 321.2,418.7" fill="#dcdcdc"/><path d="M328.3 408.6L326.7 406.9M321.2 418.7L319.9 416.5M327.6 425.3L326.4 423.0M334.9 415.2L333.4 413.4"/><polygon points="328.3,408.6 321.2,418.7 327.6,425.3 334.9,415.2"/><polygon points="306.4,431.9 314.0,423.8 320.3,430.3 321.3,432.9 313.3,441.3 307.2,434.7" fill="#dcdcdc"/><path d="M315.0 426.3L314.0 423.8M307.2 434.7L306.4 431.9M313.3 441.3L312.6 438.4M321.3 432.9L320.3 430.3"/><polygon points="315.0,426.3 307.2,434.7 313.3,441.3 321.3,432.9"/><polygon points="292.1,443.9 300.0,437.7 306.1,444.2 306.5,447.3 298.0,453.6 292.2,447.2" fill="#dcdcdc"/><path d="M300.5 440.8L300.0 437.7M292.2 447.2L292.1 443.9M298.0 453.6L298.0 450.2M306.5 447.3L306.1 444.2"/><polygon points="300.5,440.8 292.2,447.2 298.0,453.6 306.5,447.3"/><polygon points="277.1,455.6 277.6,451.9 285.5,448.0 291.3,454.3 291.1,457.8 282.7,461.7" fill="#dcdcdc"/><path d="M285.4 451.5L285.5 448.0M277.1 455.5L277.6 451.9M282.7 461.7L283.3 458.0M291.1 457.8L291.3 454.3"/><polygon points="285.4,451.5 277.1,455.5 282.7,461.7 291.1,457.8"/><polygon points="262.6,459.3 263.7,455.5 271.2,454.1 276.8,460.0 276.0,463.8 268.1,465.1" fill="#dcdcdc"/><path d="M270.4 457.8L271.2 454.1M262.6 459.3L263.7 455.5M268.1 465.1L269.2 461.3M276.0 463.8L276.8 460.0"/><polygon points="270.4,457.8 262.6,459.3 268.1,465.1 276.0,463.8"/><polygon points="249.4,458.3 251.0,454.6 257.8,455.7 263.3,461.2 261.9,465.1 254.9,463.7" fill="#dcdcdc"/><path d="M256.5 459.5L257.8 455.7M249.4 458.3L251.0 454.6M254.9 463.7L256.5 459.9M261.9 465.1L263.3 461.2"/><polygon points="256.5,459.5 249.4,458.3 254.9,463.7 261.9,465.1"/></g>
<polygon points="225.3,406.6 225.4,402.3 225.7,397.8 226.1,393.3 226.7,388.7 227.5,384.0 228.5,379.3 229.7,374.5 231.0,369.7 232.4,364.9 234.1,360.1 235.8,355.4 237.8,350.6 239.9,345.9 242.1,341.2 244.4,336.6 246.9,332.1 249.5,327.6 252.2,323.3 255.0,319.1 257.9,315.0 260.9,311.0 264.0,307.2 267.2,303.6 270.4,300.1 273.7,296.8 277.0,293.7 280.3,290.8 283.7,288.1 287.1,285.6 290.5,283.3 293.9,281.2 297.3,279.4 300.7,277.8 304.1,276.4 307.4,275.3 310.7,274.4 313.9,273.8 317.0,273.4 320.1,273.3 323.1,273.4 326.0,273.8 328.8,274.4 331.5,275.3 336.9,277.3 339.5,278.5 344.6,281.2 347.1,282.6 349.5,284.2 354.2,287.7 356.4,289.5 360.6,293.7 362.7,295.7 364.6,298.0 368.4,302.7 370.1,305.2 373.3,310.5 374.9,313.0 376.2,315.8 378.9,321.5 380.1,324.3 382.2,330.4 383.1,333.3 384.0,336.2 384.6,339.4 385.2,342.6 385.6,346.0 385.8,349.5 385.9,353.1 385.8,356.8 385.5,360.6 385.1,364.4 384.6,368.4 383.9,372.3 383.1,376.4 382.1,380.4 381.0,384.5 379.8,388.6 378.4,392.7 376.9,396.8 375.2,400.9 373.4,404.9 371.5,408.9 369.5,412.8 367.4,416.6 365.2,420.4 362.9,424.1 360.5,427.7 358.0,431.2 355.4,434.6 352.8,437.8 350.1,440.9 347.4,443.9 344.6,446.7 341.8,449.4 338.9,451.9 336.0,454.2 333.1,456.3 330.2,458.3 327.3,460.0 324.4,461.6 321.5,463.0 318.7,464.1 315.8,465.1 313.0,465.8 307.1,467.2 304.2,467.7 301.4,468.1 295.4,468.7 292.5,468.8 286.6,468.7 283.7,468.6 280.9,468.2 275.1,467.3 272.3,466.7 266.8,465.0 264.1,464.1 261.4,463.0 256.2,460.6 253.7,459.2 248.8,456.1 246.5,454.5 244.2,452.6 239.8,448.8 237.7,446.7 235.8,444.4 234.0,441.9 232.4,439.2 230.9,436.3 229.6,433.1 228.5,429.8 227.5,426.3 226.7,422.7 226.1,418.9 225.7,414.9 225.4,410.8" fill="#fff" stroke="#000" stroke-width="0.9"/>
<path d="M266.2,466.3 L263.8,464.7 L261.5,462.9 L259.4,460.8 L257.4,458.5 L255.6,456.0 L254.0,453.3 L252.4,450.4 L251.1,447.3 L249.9,444.0 L248.9,440.5 L248.1,436.8 L247.4,433.0 L247.0,429.0 L246.7,424.9 L246.6,420.6 L246.6,416.3 L246.9,411.8 L247.3,407.3 L247.9,402.6 L248.7,397.9 L249.6,393.1 L250.7,388.3 L252.0,383.5 L253.5,378.7 L255.1,373.8 L256.9,369.0 L258.8,364.2 L260.9,359.4 L263.1,354.7 L265.5,350.0 L267.9,345.4 L270.6,340.9 L273.3,336.5 L276.1,332.2 L279.0,328.1 L282.0,324.1 L285.1,320.2 L288.3,316.5 L291.5,313.0 L294.8,309.6 L298.2,306.4 L301.6,303.4 L305.0,300.6 L308.4,298.1 L311.9,295.7 L315.3,293.6 L318.7,291.7 L322.2,290.1 L325.5,288.7 L328.9,287.5 L332.2,286.6 L335.5,285.9 L338.7,285.5 L341.8,285.3 L344.8,285.4 L347.8,285.8 L350.6,286.3 L353.4,287.2 L356.0,288.3 L358.5,289.6" fill="none" stroke="#000" stroke-width="0.6"/>
<g fill="#fff" stroke="#000" stroke-width="0.9" stroke-linejoin="round"><polygon points="238.3,452.6 240.3,449.1 245.9,452.7 251.5,457.7 249.6,461.5 243.8,457.5" fill="#dcdcdc"/><path d="M244.1 456.3L245.9 452.7M238.3 452.6L240.3 449.1M243.8 457.5L245.9 453.9M249.6 461.5L251.5 457.7"/><polygon points="244.1,456.3 238.3,452.6 243.8,457.5 249.6,461.5"/><polygon points="229.7,442.5 232.1,439.4 237.7,443.7 241.9,449.8 239.6,453.2 234.1,448.6" fill="#dcdcdc"/><path d="M234.1 448.6L236.3 445.2M229.7 442.5L232.1 439.4M235.3 446.8L237.7 443.7M239.6 453.2L241.9 449.8"/><polygon points="234.1,448.6 229.7,442.5 235.3,446.8 239.6,453.2"/><polygon points="224.1,428.5 226.7,425.9 232.5,429.7 235.0,437.8 232.4,440.7 226.8,436.6" fill="#dcdcdc"/><path d="M226.8 436.6L229.3 433.7M224.1 428.5L226.7 425.9M229.9 432.2L232.5 429.7M232.4 440.7L235.0 437.8"/><polygon points="226.8,436.6 224.1,428.5 229.9,432.2 232.4,440.7"/><polygon points="221.7,411.2 224.4,409.3 230.5,412.6 231.2,422.3 228.5,424.6 222.6,421.0" fill="#dcdcdc"/><path d="M222.6 421.0L225.2 418.8M221.7 411.2L224.4 409.3M227.8 414.4L230.5 412.6M228.5 424.6L231.2 422.3"/><polygon points="222.6,421.0 221.7,411.2 227.8,414.4 228.5,424.6"/><polygon points="221.8,402.6 222.8,391.6 225.4,390.5 231.8,393.3 230.7,404.1 228.0,405.6" fill="#dcdcdc"/><path d="M221.8 402.6L224.5 401.1M222.7 391.6L225.4 390.5M229.2 394.3L231.9 393.3M228.0 405.6L230.7 404.1"/><polygon points="221.8,402.6 222.7,391.6 229.2,394.3 228.0,405.6"/><polygon points="224.3,382.2 227.1,370.6 229.6,370.4 236.4,372.8 233.5,384.2 230.9,384.8" fill="#dcdcdc"/><path d="M224.3 382.2L226.9 381.5M227.1 370.6L229.6 370.3M233.9 373.0L236.4 372.8M230.9 384.8L233.5 384.2"/><polygon points="224.3,382.2 227.1,370.6 233.9,373.0 230.9,384.8"/><polygon points="230.1,361.0 234.6,349.3 236.8,349.9 241.8,351.4 244.0,352.1 239.4,363.4 237.1,363.2" fill="#dcdcdc"/><path d="M230.1 361.0L232.5 361.1M234.6 349.3L236.8 349.9M241.8 351.4L244.0 352.1M237.1 363.2L239.4 363.4"/><polygon points="230.1,361.0 234.6,349.3 241.8,351.4 237.1,363.2"/><polygon points="238.9,339.9 244.8,328.8 252.4,330.6 254.2,332.2 248.2,342.9 240.9,340.9" fill="#dcdcdc"/><path d="M238.9 339.9L240.9 340.9M244.8 328.8L246.6 330.2M252.4 330.6L254.2 332.2M246.2 341.9L248.2 342.9"/><polygon points="238.9,339.9 244.8,328.8 252.4,330.6 246.2,341.9"/><polygon points="250.2,320.0 257.3,310.0 265.2,311.8 266.5,314.1 259.5,323.7 251.8,321.8" fill="#dcdcdc"/><path d="M250.2 320.0L251.8 321.8M257.3 310.0L258.6 312.2M265.2 311.8L266.5 314.1M257.9 321.9L259.5 323.7"/><polygon points="250.2,320.0 257.3,310.0 265.2,311.8 257.9,321.9"/><polygon points="263.5,302.4 271.4,294.0 279.6,295.8 280.3,298.7 272.5,306.8 264.5,304.9" fill="#dcdcdc"/><path d="M263.5 302.4L264.5 304.9M271.4 294.0L272.1 296.8M279.6 295.8L280.3 298.7M271.5 304.2L272.5 306.8"/><polygon points="263.5,302.4 271.4,294.0 279.6,295.8 271.5,304.2"/><polygon points="278.0,287.9 286.3,281.5 294.8,283.5 294.9,286.9 286.8,292.9 278.5,290.9" fill="#dcdcdc"/><path d="M278.0 287.9L278.5 290.9M286.3 281.5L286.4 284.8M294.8 283.5L294.9 286.9M286.4 289.8L286.8 292.9"/><polygon points="278.0,287.9 286.3,281.5 294.8,283.5 286.4,289.8"/><polygon points="293.0,280.6 293.1,277.2 301.4,273.1 310.1,275.4 309.6,279.1 301.6,282.9" fill="#dcdcdc"/><path d="M293.2 277.2L293.0 280.7M301.4 273.1L300.9 276.8M310.1 275.4L309.6 279.1M301.8 279.3L301.5 282.9"/><polygon points="293.2,277.2 301.4,273.1 310.1,275.4 301.8,279.3"/><polygon points="307.3,274.6 308.1,270.8 315.9,269.3 324.8,272.0 323.6,275.9 316.0,277.1" fill="#dcdcdc"/><path d="M308.1 270.8L307.3 274.6M315.9 269.3L314.9 273.1M324.8 272.0L323.6 275.9M316.9 273.3L316.0 277.1"/><polygon points="308.1,270.8 315.9,269.3 324.8,272.0 316.9,273.3"/><polygon points="320.8,273.0 322.1,269.2 329.1,270.3 338.0,273.4 336.3,277.2 329.6,275.9" fill="#dcdcdc"/><path d="M322.1 269.2L320.7 273.0M329.1 270.3L327.5 274.1M338.0 273.4L336.3 277.3M330.9 272.1L329.6 275.9"/><polygon points="322.1,269.2 329.1,270.3 338.0,273.4 330.9,272.1"/><polygon points="244.5,457.6 246.6,454.1 252.9,453.8 255.7,457.3 253.6,460.7 248.0,460.6" fill="#dcdcdc"/><path d="M248.0 460.6L250.0 456.9M244.5 457.6L246.6 454.1M250.6 457.0L252.9 453.8M253.5 460.7L255.7 457.3"/><polygon points="248.0,460.6 244.5,457.6 250.6,457.0 253.5,460.7"/><polygon points="236.3,446.4 238.8,443.4 246.7,441.2 248.5,446.0 246.1,448.9 238.9,450.8" fill="#dcdcdc"/><path d="M238.9 450.8L241.2 447.6M236.3 446.4L238.8 443.4M244.1 443.9L246.7 441.2M246.0 448.9L248.5 446.0"/><polygon points="238.9,450.8 236.3,446.4 244.1,443.9 246.0,448.9"/><polygon points="231.3,431.4 234.0,428.9 243.6,425.3 244.3,431.2 241.7,433.5 232.7,437.1" fill="#dcdcdc"/><path d="M232.7 437.1L235.3 434.4M231.3 431.4L234.0 428.9M240.9 427.4L243.6 425.3M241.7 433.5L244.3 431.2"/><polygon points="232.7,437.1 231.3,431.4 240.9,427.4 241.7,433.5"/><polygon points="229.7,413.2 232.4,411.5 243.8,406.9 243.3,413.6 240.6,415.1 229.9,419.9" fill="#dcdcdc"/><path d="M229.9 419.9L232.6 417.9M229.7 413.3L232.4 411.5M241.1 408.2L243.8 406.9M240.6 415.2L243.3 413.6"/><polygon points="229.9,419.9 229.7,413.3 241.1,408.2 240.6,415.2"/><polygon points="230.5,400.2 231.5,392.9 244.6,387.4 247.2,387.0 245.6,394.1" fill="#dcdcdc"/><path d="M230.5 400.2L233.2 399.0M231.5 392.9L234.2 392.0M244.6 387.4L247.2 387.0M243.0 394.8L245.6 394.1"/><polygon points="230.5,400.2 231.5,392.9 244.6,387.4 243.0,394.8"/><polygon points="234.5,379.0 236.6,371.4 251.3,366.1 253.6,366.4 251.0,373.6 237.0,378.6" fill="#dcdcdc"/><path d="M234.5 379.0L237.0 378.7M236.6 371.4L239.1 371.4M251.3 366.1L253.6 366.4M248.6 373.5L251.0 373.6"/><polygon points="234.5,379.0 236.6,371.4 251.3,366.1 248.6,373.5"/><polygon points="241.7,357.4 244.9,349.9 260.9,345.2 262.8,346.4 259.3,353.3 243.9,357.9" fill="#dcdcdc"/><path d="M241.7 357.4L243.9 357.9M244.9 349.9L247.0 350.7M260.9 345.2L262.8 346.4M257.3 352.4L259.3 353.3"/><polygon points="241.7,357.4 244.9,349.9 260.9,345.2 257.3,352.4"/><polygon points="251.7,336.3 255.8,329.3 272.9,325.8 274.3,327.8 270.1,334.1 253.6,337.6" fill="#dcdcdc"/><path d="M251.7 336.3L253.6 337.7M255.8 329.3L257.5 330.9M272.9 325.8L274.3 327.8M268.5 332.3L270.1 334.1"/><polygon points="251.7,336.3 255.8,329.3 272.9,325.8 268.5,332.3"/><polygon points="264.1,316.9 268.9,310.7 286.6,308.9 287.5,311.6 282.7,316.9 265.5,319.1" fill="#dcdcdc"/><path d="M264.1 316.9L265.5 319.1M268.9 310.7L270.1 313.1M286.6 308.9L287.5 311.6M281.7 314.5L282.7 316.9"/><polygon points="264.1,316.9 268.9,310.7 286.6,308.9 281.7,314.5"/><polygon points="278.2,300.2 283.4,295.1 301.5,295.4 301.8,298.6 296.7,302.7 279.0,303.0" fill="#dcdcdc"/><path d="M278.2 300.2L279.0 303.0M283.4 295.2L284.0 298.1M301.5 295.4L301.8 298.6M296.2 299.7L296.7 302.7"/><polygon points="278.2,300.2 283.4,295.2 301.5,295.4 296.2,299.7"/><polygon points="293.4,287.0 298.8,283.3 316.7,285.9 316.3,289.5 311.2,292.2 293.6,290.3" fill="#dcdcdc"/><path d="M293.4 287.0L293.6 290.3M298.8 283.3L298.7 286.8M316.7 285.9L316.3 289.5M311.4 288.7L311.2 292.2"/><polygon points="293.4,287.0 298.8,283.3 316.7,285.9 311.4,288.7"/><polygon points="308.3,281.6 308.7,277.9 314.0,275.8 331.4,280.9 330.5,284.7 325.6,285.8" fill="#dcdcdc"/><path d="M308.7 277.9L308.3 281.6M314.0 275.8L313.4 279.5M331.4 280.9L330.5 284.7M326.4 282.1L325.6 285.8"/><polygon points="308.7,277.9 314.0,275.8 331.4,280.9 326.4,282.1"/><polygon points="322.6,277.3 323.6,273.4 328.5,273.0 345.0,280.6 343.6,284.4 339.2,284.0" fill="#dcdcdc"/><path d="M323.6 273.4L322.6 277.3M328.5 273.0L327.3 276.9M345.0 280.6L343.6 284.4M340.5 280.2L339.2 284.0"/><polygon points="323.6,273.4 328.5,273.0 345.0,280.6 340.5,280.2"/><polygon points="335.6,277.6 337.2,273.8 341.5,275.0 356.8,285.1 354.9,288.8 351.2,286.7" fill="#dcdcdc"/><path d="M337.2 273.8L335.6 277.6M341.5 275.0L339.8 278.8M356.8 285.1L354.9 288.8M352.9 283.0L351.2 286.7"/><polygon points="337.2,273.8 341.5,275.0 356.8,285.1 352.9,283.0"/><polygon points="255.0,457.6 257.3,454.4 272.6,458.3 275.4,461.3 273.5,464.5 257.9,461.3" fill="#dcdcdc"/><path d="M257.9 461.3L260.1 458.0M255.0 457.6L257.3 454.4M270.6 461.4L272.6 458.3M273.5 464.5L275.5 461.3"/><polygon points="257.9,461.3 255.0,457.6 270.6,461.4 273.5,464.5"/><polygon points="248.8,444.5 251.4,441.9 266.3,447.4 268.2,451.6 265.9,454.5 250.7,449.5" fill="#dcdcdc"/><path d="M250.7 449.5L253.1 446.7M248.8 444.5L251.4 441.9M264.0 450.1L266.3 447.4M265.9 454.5L268.2 451.6"/><polygon points="250.7,449.5 248.8,444.5 264.0,450.1 265.9,454.5"/><polygon points="245.8,428.1 248.5,426.1 262.8,433.4 263.7,438.6 261.2,440.9 246.5,434.1" fill="#dcdcdc"/><path d="M246.5 434.2L249.1 431.9M245.8 428.1L248.5 426.1M260.3 435.4L262.8 433.3M261.2 440.9L263.7 438.6"/><polygon points="246.5,434.2 245.8,428.1 260.3,435.4 261.2,440.9"/><polygon points="245.7,416.0 246.1,409.1 248.8,407.9 262.2,416.8 262.1,422.8 259.6,424.4" fill="#dcdcdc"/><path d="M245.6 416.0L248.3 414.4M246.1 409.1L248.8 407.8M259.7 418.2L262.2 416.8M259.6 424.4L262.1 422.8"/><polygon points="245.6,416.0 246.1,409.1 259.7,418.2 259.6,424.4"/><polygon points="248.1,395.9 249.8,388.6 252.3,388.1 264.7,398.6 263.5,405.1 261.0,406.0" fill="#dcdcdc"/><path d="M248.1 395.9L250.7 395.1M249.8 388.6L252.3 388.1M262.3 399.2L264.7 398.6M261.0 406.0L263.5 405.1"/><polygon points="248.1,395.9 249.8,388.6 262.3,399.2 261.0,406.0"/><polygon points="253.9,374.9 256.6,367.5 258.8,367.9 270.1,379.6 267.9,386.3 265.6,386.4" fill="#dcdcdc"/><path d="M253.9 374.9L256.2 375.0M256.6 367.5L258.8 367.9M267.9 379.4L270.1 379.6M265.6 386.4L267.9 386.3"/><polygon points="253.9,374.9 256.6,367.5 267.9,379.4 265.6,386.4"/><polygon points="262.5,354.0 266.1,347.0 268.0,348.2 278.0,360.9 275.0,367.4 273.0,366.7" fill="#dcdcdc"/><path d="M262.5 354.0L264.5 355.0M266.1 347.0L268.0 348.2M276.2 359.9L278.0 360.9M273.0 366.7L275.0 367.4"/><polygon points="262.5,354.0 266.1,347.0 276.2,359.9 273.0,366.7"/><polygon points="273.6,334.4 278.0,328.0 279.4,330.0 288.2,343.3 284.4,349.2 282.9,347.8" fill="#dcdcdc"/><path d="M273.7 334.4L275.2 336.1M278.0 328.0L279.4 330.0M286.8 341.6L288.2 343.3M282.9 347.8L284.4 349.3"/><polygon points="273.7,334.4 278.0,328.0 286.8,341.6 282.9,347.8"/><polygon points="286.7,316.9 291.7,311.5 299.2,325.4 300.1,327.7 295.8,332.9 287.8,319.4" fill="#dcdcdc"/><path d="M286.7 316.9L287.8 319.4M291.7 311.5L292.5 314.2M299.2 325.4L300.2 327.7M294.7 330.8L295.8 332.9"/><polygon points="286.7,316.9 291.7,311.5 299.2,325.4 294.7,330.8"/><polygon points="301.1,302.5 306.3,298.4 312.8,312.1 313.2,315.0 308.5,319.1 301.6,305.6" fill="#dcdcdc"/><path d="M301.1 302.5L301.6 305.6M306.3 298.4L306.6 301.5M312.8 312.1L313.2 315.0M308.0 316.4L308.5 319.1"/><polygon points="301.1,302.5 306.3,298.4 312.8,312.1 308.0,316.4"/><polygon points="315.9,295.4 316.1,291.9 321.3,289.2 326.8,302.4 326.6,305.7 321.9,308.5" fill="#dcdcdc"/><path d="M316.0 291.9L315.9 295.4M321.3 289.2L320.9 292.8M326.8 302.4L326.6 305.7M321.9 305.4L321.9 308.5"/><polygon points="316.0,291.9 321.3,289.2 326.8,302.4 321.9,305.4"/><polygon points="330.1,289.3 330.8,285.6 335.8,284.5 340.6,296.8 339.9,300.3 335.3,301.7" fill="#dcdcdc"/><path d="M330.8 285.6L330.1 289.3M335.8 284.5L334.8 288.2M340.6 296.8L339.9 300.3M335.9 298.3L335.3 301.7"/><polygon points="330.8,285.6 335.8,284.5 340.6,296.8 335.9,298.3"/><polygon points="343.3,287.7 344.6,283.9 349.1,284.5 353.5,295.6 352.3,299.1 348.1,299.1" fill="#dcdcdc"/><path d="M344.6 284.0L343.3 287.7M349.1 284.5L347.6 288.2M353.5 295.6L352.3 299.1M349.2 295.5L348.1 299.1"/><polygon points="344.6,284.0 349.1,284.5 353.5,295.6 349.2,295.5"/><polygon points="355.1,290.6 356.8,287.0 360.6,289.2 364.9,298.8 363.2,302.2 359.6,300.6" fill="#dcdcdc"/><path d="M356.8 287.0L355.1 290.6M360.6 289.2L358.7 292.7M364.9 298.8L363.2 302.2M361.1 297.2L359.6 300.6"/><polygon points="356.8,287.0 360.6,289.2 364.9,298.8 361.1,297.2"/><polygon points="368.0,306.9 369.8,303.7 374.6,308.1 378.6,318.8 376.7,321.6 372.6,317.6" fill="#dcdcdc"/><path d="M369.8 303.7L368.0 306.9M374.6 308.1L372.6 311.1M378.6 318.8L376.7 321.6M374.3 314.6L372.6 317.6"/><polygon points="369.8,303.7 374.6,308.1 378.6,318.8 374.3,314.6"/><polygon points="375.8,315.4 377.9,312.5 381.2,318.9 384.6,329.2 382.4,331.6 379.6,325.7" fill="#dcdcdc"/><path d="M377.9 312.5L375.8 315.4M381.3 318.9L379.0 321.6M384.6 329.2L382.5 331.6M381.6 323.1L379.6 325.7"/><polygon points="377.9,312.5 381.3,318.9 384.6,329.2 381.6,323.1"/><polygon points="381.0,327.4 383.4,325.0 386.4,334.9 387.9,342.6 385.6,344.4 382.6,335.2" fill="#dcdcdc"/><path d="M383.3 325.0L381.0 327.4M385.1 333.1L382.7 335.2M387.9 342.6L385.6 344.4M386.4 334.9L384.2 337.0"/><polygon points="383.3,325.0 385.1,333.1 387.9,342.6 386.4,334.9"/><polygon points="383.4,342.2 385.8,340.4 388.4,349.4 388.3,358.3 386.1,359.5 383.4,351.3" fill="#dcdcdc"/><path d="M385.8 340.4L383.4 342.2M385.9 349.9L383.4 351.3M388.3 358.3L386.1 359.5M388.4 349.4L386.2 351.0"/><polygon points="385.8,340.4 385.9,349.9 388.3,358.3 388.4,349.4"/><polygon points="381.2,369.1 382.8,359.2 385.2,358.1 387.6,365.9 386.0,375.5 383.8,376.1" fill="#dcdcdc"/><path d="M385.2 358.1L382.8 359.2M383.6 368.5L381.2 369.1M386.0 375.5L383.8 376.1M387.6 365.9L385.4 366.8"/><polygon points="385.2,358.1 383.6,368.5 386.0,375.5 387.6,365.9"/><polygon points="376.1,387.7 379.3,377.5 381.6,377.1 384.0,383.6 380.8,393.5 378.9,393.3" fill="#dcdcdc"/><path d="M381.6 377.2L379.3 377.5M378.3 387.9L376.1 387.7M380.8 393.5L378.9 393.3M384.0 383.6L381.9 383.8"/><polygon points="381.6,377.2 378.3,387.9 380.8,393.5 384.0,383.6"/><polygon points="368.5,406.2 373.0,396.1 375.0,396.6 377.7,401.6 373.2,411.2 371.6,410.4" fill="#dcdcdc"/><path d="M375.0 396.6L373.0 396.1M370.3 407.1L368.5 406.2M373.2 411.2L371.6 410.3M377.7 401.6L375.9 401.1"/><polygon points="375.0,396.6 370.3,407.1 373.2,411.2 377.7,401.6"/><polygon points="358.6,423.6 364.3,414.2 365.9,415.4 369.1,418.9 363.6,427.9 360.0,425.2" fill="#dcdcdc"/><path d="M365.9 415.4L364.3 414.2M360.0 425.2L358.6 423.6M363.6 427.9L362.3 426.3M369.1 418.9L367.6 417.7"/><polygon points="365.9,415.4 360.0,425.2 363.6,427.9 369.1,418.9"/><polygon points="347.0,439.1 353.6,430.9 357.6,432.9 358.6,434.8 352.3,442.6 347.9,441.3" fill="#dcdcdc"/><path d="M354.8 432.8L353.6 430.9M347.9 441.3L347.0 439.1M352.3 442.6L351.4 440.4M358.6 434.8L357.6 432.9"/><polygon points="354.8,432.8 347.9,441.3 352.3,442.6 358.6,434.8"/><polygon points="334.3,451.8 341.4,445.2 346.2,446.0 346.8,448.3 339.9,454.6 334.7,454.6" fill="#dcdcdc"/><path d="M342.1 447.7L341.4 445.2M334.7 454.6L334.3 451.8M339.9 454.6L339.6 452.0M346.8 448.3L346.2 446.0"/><polygon points="342.1,447.7 334.7,454.6 339.9,454.6 346.8,448.3"/><polygon points="320.9,464.4 321.0,461.2 328.3,456.5 334.1,456.2 334.2,459.0 327.2,463.3" fill="#dcdcdc"/><path d="M328.5 459.5L328.3 456.5M320.9 464.4L321.0 461.2M327.2 463.3L327.3 460.4M334.2 459.0L334.1 456.2"/><polygon points="328.5,459.5 320.9,464.4 327.2,463.3 334.2,459.0"/><polygon points="307.3,470.2 307.9,466.8 315.1,464.2 321.9,463.0 321.4,466.1 314.6,468.4" fill="#dcdcdc"/><path d="M314.7 467.6L315.1 464.3M307.3 470.2L308.0 466.8M314.6 468.4L315.3 465.2M321.4 466.1L321.8 463.0"/><polygon points="314.7,467.6 307.3,470.2 314.6,468.4 321.4,466.1"/><polygon points="294.5,471.8 295.7,468.3 304.1,466.2 310.1,466.1 309.2,469.3 301.4,471.5" fill="#dcdcdc"/><path d="M301.4 471.5L302.3 468.0M294.5 471.8L295.7 468.3M302.9 469.4L304.1 466.2M309.2 469.3L310.1 466.1"/><polygon points="301.4,471.5 294.5,471.8 302.9,469.4 309.2,469.3"/><polygon points="283.2,469.0 284.9,465.6 294.2,463.4 299.4,465.4 298.1,468.6 289.2,471.1" fill="#dcdcdc"/><path d="M289.2 471.0L290.6 467.6M283.2 469.0L284.9 465.6M292.6 466.5L294.2 463.4M298.1 468.6L299.4 465.4"/><polygon points="289.2,471.0 283.2,469.0 292.6,466.5 298.1,468.6"/><polygon points="274.0,461.9 276.0,458.9 286.2,456.8 290.3,460.9 288.6,463.9 278.8,466.3" fill="#dcdcdc"/><path d="M278.8 466.3L280.6 463.1M274.0 461.9L276.0 458.9M284.3 459.6L286.2 456.8M288.6 463.9L290.3 460.9"/><polygon points="278.8,466.3 274.0,461.9 284.3,459.6 288.6,463.9"/><polygon points="267.3,451.1 269.6,448.4 280.5,446.9 283.3,452.7 281.3,455.4 270.7,457.5" fill="#dcdcdc"/><path d="M270.7 457.5L272.8 454.6M267.3 451.1L269.6 448.4M278.4 449.3L280.5 446.9M281.3 455.4L283.3 452.7"/><polygon points="270.7,457.5 267.3,451.1 278.4,449.3 281.3,455.4"/><polygon points="263.5,436.9 265.9,434.8 277.3,434.0 278.7,441.4 276.5,443.6 265.2,445.1" fill="#dcdcdc"/><path d="M265.2 445.1L267.6 442.6M263.5 436.9L265.9 434.8M275.1 435.9L277.3 434.0M276.5 443.6L278.7 441.4"/><polygon points="265.2,445.1 263.5,436.9 275.1,435.9 276.5,443.6"/><polygon points="262.7,420.1 265.2,418.7 276.9,418.9 276.8,427.5 274.5,429.1 262.8,429.6" fill="#dcdcdc"/><path d="M262.8 429.6L265.2 427.8M262.7 420.1L265.2 418.7M274.6 420.2L276.9 418.9M274.5 429.1L276.8 427.5"/><polygon points="262.8,429.6 262.7,420.1 274.6,420.2 274.5,429.1"/><polygon points="263.4,411.9 265.0,401.5 267.4,400.9 279.1,402.4 277.6,411.6 275.3,412.6" fill="#dcdcdc"/><path d="M263.4 411.9L265.8 410.8M265.0 401.5L267.4 400.9M277.0 402.9L279.1 402.4M275.3 412.6L277.6 411.6"/><polygon points="263.4,411.9 265.0,401.5 277.0,402.9 275.3,412.6"/><polygon points="267.0,392.9 270.3,382.1 272.5,382.3 284.1,385.1 281.1,394.6 278.9,394.9" fill="#dcdcdc"/><path d="M267.0 392.9L269.3 392.5M270.3 382.2L272.5 382.3M282.1 385.0L284.1 385.1M278.9 394.9L281.0 394.7"/><polygon points="267.0,392.9 270.3,382.2 282.1,385.0 278.9,394.9"/><polygon points="273.6,373.4 278.3,362.9 289.7,367.2 291.4,368.1 287.1,377.4 285.2,376.9" fill="#dcdcdc"/><path d="M273.6 373.4L275.6 373.9M278.3 362.9L280.1 363.8M289.7 367.2L291.3 368.1M285.2 376.9L287.1 377.4"/><polygon points="273.6,373.4 278.3,362.9 289.7,367.2 285.2,376.9"/><polygon points="282.7,354.6 288.6,344.8 299.4,350.6 300.6,352.1 295.3,360.8 284.3,355.8" fill="#dcdcdc"/><path d="M282.7 354.6L284.3 355.8M288.6 344.8L290.0 346.4M299.4 350.6L300.6 352.1M293.8 359.6L295.3 360.7"/><polygon points="282.7,354.6 288.6,344.8 299.4,350.6 293.8,359.6"/><polygon points="293.8,337.2 300.6,328.7 310.7,335.9 311.5,338.0 305.4,345.5 295.0,339.1" fill="#dcdcdc"/><path d="M293.8 337.2L295.0 339.1M300.7 328.7L301.6 330.9M310.7 335.9L311.5 338.0M304.3 343.7L305.4 345.5"/><polygon points="293.8,337.2 300.7,328.7 310.7,335.9 304.3,343.7"/><polygon points="306.5,322.3 313.9,315.4 323.0,323.9 323.3,326.5 316.7,332.5 307.2,324.8" fill="#dcdcdc"/><path d="M306.5 322.3L307.2 324.8M313.9 315.4L314.3 318.2M323.0 323.9L323.3 326.5M316.1 330.1L316.7 332.5"/><polygon points="306.5,322.3 313.9,315.4 323.0,323.9 316.1,330.1"/><polygon points="320.1,310.5 327.7,305.6 335.8,315.1 335.6,318.1 328.8,322.3 320.3,313.5" fill="#dcdcdc"/><path d="M320.1 310.5L320.3 313.5M327.7 305.6L327.6 308.8M335.8 315.1L335.6 318.1M328.7 319.5L328.8 322.3"/><polygon points="320.1,310.5 327.7,305.6 335.8,315.1 328.7,319.5"/><polygon points="333.5,305.8 333.9,302.5 341.3,299.8 348.3,310.1 347.6,313.3 341.1,315.5" fill="#dcdcdc"/><path d="M333.9 302.5L333.5 305.8M341.3 299.8L340.6 303.2M348.3 310.1L347.6 313.3M341.5 312.4L341.1 315.5"/><polygon points="333.9,302.5 341.3,299.8 348.3,310.1 341.5,312.4"/><polygon points="346.3,302.0 347.2,298.5 354.1,298.2 360.0,309.0 358.9,312.2 352.8,312.3" fill="#dcdcdc"/><path d="M347.2 298.5L346.3 302.0M354.1 298.2L352.9 301.7M360.0 309.0L358.9 312.2M353.7 309.1L352.8 312.3"/><polygon points="347.2,298.5 354.1,298.2 360.0,309.0 353.7,309.1"/><polygon points="358.0,302.4 359.4,299.0 365.4,301.0 370.3,312.0 368.7,315.1 363.5,313.1" fill="#dcdcdc"/><path d="M359.4 299.0L358.0 302.4M365.4 301.0L363.7 304.4M370.3 312.0L368.7 315.1M364.9 309.9L363.5 313.1"/><polygon points="359.4,299.0 365.4,301.0 370.3,312.0 364.9,309.9"/></g>
<ellipse cx="327.9" cy="387.1" rx="75.2" ry="41.1" transform="rotate(-63.77 327.9 387.1)" fill="#fff" stroke="#000" stroke-width="2.0"/>
<ellipse cx="327.9" cy="387.1" rx="72.6" ry="39.7" transform="rotate(-63.77 327.9 387.1)" fill="none" stroke="#000" stroke-width="0.9"/>
<ellipse cx="325.9" cy="382.1" rx="51.5" ry="28.1" transform="rotate(-63.77 325.9 382.1)" fill="#fff" stroke="#000" stroke-width="1.6"/>
<clipPath id="h3"><ellipse cx="325.9" cy="382.1" rx="51.5" ry="28.1" transform="rotate(-63.77 325.9 382.1)" /></clipPath>
<g clip-path="url(#h3)"><ellipse cx="289.1" cy="364.2" rx="51.5" ry="28.1" transform="rotate(-63.77 289.1 364.2)" fill="none" stroke="#000" stroke-width="0.8"/><ellipse cx="289.1" cy="364.2" rx="53.6" ry="29.3" transform="rotate(-63.77 289.1 364.2)" fill="none" stroke="#000" stroke-width="0.8"/><ellipse cx="317.0" cy="380.7" rx="52.6" ry="28.7" transform="rotate(-63.77 317.0 380.7)" fill="none" stroke="#000" stroke-width="0.7"/><ellipse cx="304.6" cy="373.4" rx="52.6" ry="28.7" transform="rotate(-63.77 304.6 373.4)" fill="none" stroke="#000" stroke-width="0.7"/><line x1="140.0" y1="273.5" x2="575.0" y2="528.0" stroke="#000" stroke-width="0.9" stroke-dasharray="10,4"/></g>
<ellipse cx="325.9" cy="382.1" rx="53.8" ry="29.4" transform="rotate(-63.77 325.9 382.1)" fill="none" stroke="#000" stroke-width="0.6"/>
<ellipse cx="325.9" cy="382.1" rx="56.3" ry="30.7" transform="rotate(-63.77 325.9 382.1)" fill="none" stroke="#000" stroke-width="0.6"/>
<ellipse cx="325.9" cy="382.1" rx="58.7" ry="32.1" transform="rotate(-63.77 325.9 382.1)" fill="none" stroke="#000" stroke-width="0.6"/>
<g fill="#fff" stroke="#000" stroke-width="0.9" stroke-linejoin="round"><polygon points="424.8,578.9 427.0,575.5 429.8,579.2 434.8,586.9 432.7,590.0 429.9,587.0" fill="#dcdcdc"/><path d="M427.0 575.5L424.8 578.9M429.8 579.2L427.5 582.4M434.8 586.9L432.7 590.0M431.9 583.8L429.9 587.0"/><polygon points="427.0,575.5 429.8,579.2 434.8,586.9 431.9,583.8"/><polygon points="431.5,590.3 434.0,587.4 439.3,593.9 441.2,598.3 438.9,601.0 433.2,595.1" fill="#dcdcdc"/><path d="M434.0 587.4L431.5 590.3M435.7 592.4L433.2 595.1M441.2 598.3L438.9 601.0M439.3 593.9L437.0 596.8"/><polygon points="434.0,587.4 435.7,592.4 441.2,598.3 439.3,593.9"/><polygon points="435.2,605.1 437.9,602.8 443.8,607.6 444.7,613.2 442.1,615.3 435.8,611.0" fill="#dcdcdc"/><path d="M437.9 602.8L435.2 605.1M438.5 609.0L435.8 611.0M444.7 613.2L442.1 615.3M443.8 607.6L441.3 610.0"/><polygon points="437.9,602.8 438.5,609.0 444.7,613.2 443.8,607.6"/><polygon points="435.2,629.3 435.8,622.7 438.4,621.1 445.2,624.3 444.9,630.7 442.4,632.1" fill="#dcdcdc"/><path d="M438.4 621.1L435.8 622.7M437.8 628.1L435.2 629.3M444.9 630.7L442.4 632.1M445.2 624.3L442.7 626.0"/><polygon points="438.4,621.1 437.8,628.1 444.9,630.7 445.2,624.3"/><polygon points="431.4,649.2 433.1,642.1 435.6,641.4 443.4,643.0 442.1,649.9 439.6,650.6" fill="#dcdcdc"/><path d="M435.6 641.4L433.1 642.1M433.9 648.8L431.4 649.2M442.1 649.9L439.7 650.6M443.4 643.0L441.0 644.0"/><polygon points="435.6,641.4 433.9,648.8 442.1,649.9 443.4,643.0"/><polygon points="424.6,669.6 427.3,662.5 438.6,662.9 436.2,670.0 426.8,670.0" fill="#dcdcdc"/><path d="M429.6 662.6L427.3 662.5M426.8 670.0L424.6 669.6M436.2 670.0L434.0 669.8M438.6 662.9L436.3 663.0"/><polygon points="429.6,662.6 426.8,670.0 436.2,670.0 438.6,662.9"/><polygon points="415.2,689.5 418.8,682.7 428.9,682.3 430.9,683.0 427.6,689.8 417.0,690.8" fill="#dcdcdc"/><path d="M420.7 683.6L418.8 682.7M417.0 690.8L415.2 689.5M427.5 689.8L425.7 688.9M430.8 683.0L428.9 682.3"/><polygon points="420.7,683.6 417.0,690.8 427.5,689.8 430.8,683.0"/><polygon points="403.6,707.9 407.8,701.7 419.1,700.7 420.7,702.1 416.6,708.5 404.9,709.9" fill="#dcdcdc"/><path d="M409.3 703.5L407.8 701.7M404.9 709.9L403.6 707.9M416.6 708.5L415.3 706.7M420.7 702.1L419.1 700.7"/><polygon points="409.3,703.5 404.9,709.9 416.6,708.5 420.7,702.1"/><polygon points="390.4,723.9 395.1,718.7 407.5,717.3 408.6,719.5 404.0,725.0 391.1,726.6" fill="#dcdcdc"/><path d="M396.1 721.1L395.1 718.7M391.1 726.6L390.4 723.9M404.0 725.0L403.1 722.6M408.6 719.5L407.5 717.3"/><polygon points="396.1,721.1 391.1,726.6 404.0,725.0 408.6,719.5"/><polygon points="376.2,736.7 381.2,732.6 394.6,731.4 395.1,734.1 390.3,738.5 376.4,739.9" fill="#dcdcdc"/><path d="M381.6 735.7L381.2 732.6M376.4 739.9L376.2 736.7M390.3 738.5L389.9 735.6M395.2 734.1L394.6 731.4"/><polygon points="381.6,735.7 376.4,739.9 390.3,738.5 395.2,734.1"/><polygon points="361.4,749.2 361.8,745.6 366.9,743.0 381.1,742.2 381.1,745.4 376.1,748.4" fill="#dcdcdc"/><path d="M366.6 746.5L366.8 743.0M361.4 749.2L361.8 745.6M376.1 748.4L376.3 745.1M381.1 745.4L381.1 742.2"/><polygon points="366.6,746.5 361.4,749.2 376.1,748.4 381.1,745.4"/><polygon points="347.0,754.0 348.0,750.3 352.7,749.1 367.6,749.1 367.0,752.6 362.2,754.1" fill="#dcdcdc"/><path d="M351.9 752.9L352.7 749.2M347.0 754.0L348.0 750.3M362.2 754.1L363.0 750.6M367.0 752.6L367.6 749.1"/><polygon points="351.9,752.9 347.0,754.0 362.2,754.1 367.0,752.6"/><polygon points="333.8,754.1 335.3,750.3 354.8,751.9 353.7,755.5 349.3,755.4 338.2,754.6" fill="#dcdcdc"/><path d="M338.2 754.6L339.5 750.8M333.8 754.1L335.3 750.3M349.3 755.4L350.6 751.9M353.7 755.5L354.8 751.9"/><polygon points="338.2,754.6 333.8,754.1 349.3,755.4 353.7,755.5"/><polygon points="322.4,749.5 324.4,745.9 339.9,748.8 343.4,750.4 341.8,753.9 326.1,751.6" fill="#dcdcdc"/><path d="M326.2 751.6L328.0 748.0M322.4 749.5L324.4 745.9M338.1 752.3L339.8 748.8M341.8 753.9L343.4 750.4"/><polygon points="326.2,751.6 322.4,749.5 338.1,752.3 341.8,753.9"/><polygon points="406.4,564.0 408.4,560.3 423.2,571.6 426.1,575.2 423.7,578.5 409.6,566.7" fill="#dcdcdc"/><path d="M408.4 560.3L406.4 564.0M411.8 563.2L409.6 566.7M426.1 575.2L423.7 578.5M423.2 571.6L421.0 575.0"/><polygon points="408.4,560.3 411.8,563.2 426.1,575.2 423.2,571.6"/><polygon points="414.9,573.2 417.2,570.0 430.4,583.4 432.2,588.4 429.6,591.1 417.1,577.4" fill="#dcdcdc"/><path d="M417.2 570.0L414.8 573.2M419.6 574.4L417.1 577.4M432.2 588.4L429.6 591.1M430.4 583.3L427.9 586.3"/><polygon points="417.2,570.0 419.6,574.4 432.2,588.4 430.4,583.3"/><polygon points="420.4,586.4 423.1,583.7 434.5,598.8 435.1,605.0 432.4,607.1 421.6,591.8" fill="#dcdcdc"/><path d="M423.1 583.7L420.4 586.4M424.3 589.4L421.6 591.8M435.1 605.0L432.4 607.1M434.5 598.8L431.8 601.2"/><polygon points="423.1,583.7 424.3,589.4 435.1,605.0 434.5,598.8"/><polygon points="422.8,602.9 425.6,600.8 435.2,617.3 434.7,624.2 432.0,625.6 422.9,609.2" fill="#dcdcdc"/><path d="M425.6 600.8L422.8 602.9M425.6 607.5L422.9 609.2M434.7 624.2L432.0 625.6M435.2 617.3L432.5 618.9"/><polygon points="425.6,600.8 425.6,607.5 434.7,624.2 435.2,617.3"/><polygon points="420.9,628.7 422.0,621.7 424.7,620.5 432.6,637.7 430.8,645.1 428.3,645.6" fill="#dcdcdc"/><path d="M424.7 620.5L422.0 621.7M423.6 627.8L420.9 628.7M430.8 645.1L428.3 645.6M432.6 637.7L430.0 638.5"/><polygon points="424.7,620.5 423.6,627.8 430.8,645.1 432.6,637.7"/><polygon points="415.7,649.4 417.9,642.1 420.4,641.7 426.6,659.1 423.8,666.7 421.6,666.3" fill="#dcdcdc"/><path d="M420.4 641.7L417.9 642.1M418.1 649.3L415.7 649.4M423.8 666.7L421.6 666.3M426.6 659.1L424.3 659.1"/><polygon points="420.4,641.7 418.1,649.3 423.8,666.7 426.6,659.1"/><polygon points="407.6,670.1 410.7,662.9 413.0,663.4 417.8,680.5 414.0,687.7 412.2,686.5" fill="#dcdcdc"/><path d="M413.0 663.4L410.7 662.9M409.7 670.9L407.6 670.1M414.0 687.7L412.2 686.5M417.7 680.5L415.7 679.5"/><polygon points="413.0,663.4 409.7,670.9 414.0,687.7 417.7,680.5"/><polygon points="396.9,689.9 400.9,683.1 402.7,684.5 406.4,700.6 401.9,707.2 400.5,705.2" fill="#dcdcdc"/><path d="M402.7 684.5L400.9 683.1M398.6 691.5L397.0 689.9M401.9 707.2L400.5 705.2M406.4 700.6L404.8 698.9"/><polygon points="402.7,684.5 398.6,691.5 401.9,707.2 406.4,700.6"/><polygon points="384.3,707.8 388.9,701.8 390.2,703.9 393.0,718.6 388.0,724.3 387.2,721.6" fill="#dcdcdc"/><path d="M390.2 703.9L388.9 701.8M385.5 710.1L384.3 707.8M388.0 724.3L387.2 721.6M393.0 718.6L392.0 716.2"/><polygon points="390.2,703.9 385.5,710.1 388.0,724.3 393.0,718.6"/><polygon points="370.4,722.8 375.4,717.9 376.1,720.7 378.0,730.5 378.4,733.6 373.1,737.9 370.9,725.8" fill="#dcdcdc"/><path d="M376.1 720.7L375.4 717.9M370.9 725.8L370.4 722.8M373.1 737.9L372.9 734.7M378.4 733.6L378.0 730.5"/><polygon points="376.1,720.7 370.9,725.8 373.1,737.9 378.4,733.6"/><polygon points="355.7,737.7 355.7,734.2 360.9,730.7 363.4,741.2 363.2,744.7 358.0,747.6" fill="#dcdcdc"/><path d="M361.0 734.0L360.9 730.7M355.7 737.7L355.7 734.2M358.0 747.6L358.3 743.9M363.2 744.7L363.4 741.2"/><polygon points="361.0,734.0 355.7,737.7 358.0,747.6 363.2,744.7"/><polygon points="340.5,745.3 341.2,741.5 346.2,739.5 349.1,747.6 348.3,751.4 343.3,752.7" fill="#dcdcdc"/><path d="M345.8 743.1L346.2 739.5M340.5 745.3L341.2 741.5M343.3 752.7L344.3 748.9M348.3 751.4L349.1 747.7"/><polygon points="345.8,743.1 340.5,745.3 343.3,752.7 348.3,751.4"/><polygon points="326.2,748.1 327.5,744.3 332.1,743.8 335.7,749.6 334.4,753.4 329.8,753.0" fill="#dcdcdc"/><path d="M331.1 747.7L332.1 743.8M326.2 748.2L327.5 744.3M329.8 753.0L331.3 749.2M334.3 753.4L335.7 749.6"/><polygon points="331.1,747.7 326.2,748.2 329.8,753.0 334.3,753.4"/><polygon points="313.5,746.2 315.2,742.4 319.3,743.6 323.9,746.9 322.1,750.6" fill="#dcdcdc"/><path d="M317.7 747.4L319.3 743.6M313.5 746.2L315.2 742.4M318.3 748.5L320.2 744.9M322.0 750.6L323.9 746.9"/><polygon points="317.7,747.4 313.5,746.2 318.3,748.5 322.0,750.6"/><polygon points="391.8,557.7 393.6,554.1 402.8,557.1 408.5,561.1 406.4,564.7 397.2,561.2" fill="#dcdcdc"/><path d="M393.6 554.1L391.8 557.7M399.2 557.7L397.2 561.3M408.5 561.1L406.4 564.7M402.8 557.2L400.9 560.9"/><polygon points="393.6,554.1 399.2,557.7 408.5,561.1 402.8,557.2"/><polygon points="401.1,565.1 403.3,561.7 412.5,565.4 416.6,571.7 414.2,574.8 405.1,570.9" fill="#dcdcdc"/><path d="M403.3 561.7L401.1 565.1M407.5 567.8L405.1 570.9M416.6 571.7L414.2 574.8M412.5 565.4L410.2 568.7"/><polygon points="403.3,561.7 407.5,567.8 416.6,571.7 412.5,565.4"/><polygon points="407.8,576.5 410.2,573.6 419.3,577.8 421.7,586.2 419.1,588.8 410.2,584.2" fill="#dcdcdc"/><path d="M410.3 573.6L407.8 576.5M412.8 581.7L410.2 584.3M421.7 586.2L419.1 588.8M419.3 577.8L416.8 580.7"/><polygon points="410.3,573.6 412.8,581.7 421.7,586.2 419.3,577.8"/><polygon points="411.4,591.3 414.1,589.1 422.9,593.9 423.5,604.0 420.7,605.8 412.1,600.7" fill="#dcdcdc"/><path d="M414.1 589.1L411.4 591.3M414.8 598.8L412.1 600.7M423.5 604.0L420.7 605.8M422.9 593.9L420.2 596.1"/><polygon points="414.1,589.1 414.8,598.8 423.5,604.0 422.9,593.9"/><polygon points="410.8,619.4 411.9,608.9 414.6,607.4 423.1,612.8 421.8,624.0 419.1,625.1" fill="#dcdcdc"/><path d="M414.6 607.4L411.9 608.9M413.4 618.3L410.8 619.4M421.8 624.0L419.1 625.1M423.1 612.8L420.4 614.3"/><polygon points="414.6,607.4 413.4,618.3 421.8,624.0 423.1,612.8"/><polygon points="406.4,639.5 409.2,628.4 411.8,627.6 419.9,633.5 416.8,645.4 414.3,645.6" fill="#dcdcdc"/><path d="M411.8 627.6L409.2 628.4M408.8 639.2L406.4 639.5M416.8 645.4L414.3 645.6M420.0 633.5L417.4 634.2"/><polygon points="411.8,627.6 408.8,639.2 416.8,645.4 420.0,633.5"/><polygon points="399.0,659.8 403.4,648.7 405.7,648.8 413.5,655.1 408.7,667.0 406.6,666.3" fill="#dcdcdc"/><path d="M405.7 648.8L403.4 648.7M401.2 660.4L399.0 659.8M408.7 667.0L406.6 666.3M413.5 655.1L411.2 654.9"/><polygon points="405.7,648.8 401.2,660.4 408.7,667.0 413.5,655.1"/><polygon points="389.1,679.5 394.9,668.8 396.8,669.8 404.2,676.5 398.0,687.7 396.3,686.2" fill="#dcdcdc"/><path d="M396.8 669.8L394.9 668.8M390.8 680.9L389.1 679.5M398.0 687.7L396.3 686.2M404.2 676.5L402.2 675.4"/><polygon points="396.8,669.8 390.8,680.9 398.0,687.7 404.2,676.5"/><polygon points="377.1,697.5 383.9,687.8 390.9,694.7 392.4,696.5 385.1,706.6 378.3,699.6" fill="#dcdcdc"/><path d="M385.4 689.6L383.9 687.8M378.3 699.6L377.1 697.4M385.1 706.6L383.9 704.3M392.4 696.5L390.9 694.7"/><polygon points="385.4,689.6 378.3,699.6 385.1,706.6 392.4,696.5"/><polygon points="363.7,712.8 371.2,704.7 377.8,711.6 378.7,714.2 370.7,722.6 364.3,715.6" fill="#dcdcdc"/><path d="M372.2 707.2L371.2 704.7M364.3 715.6L363.7 712.8M370.7 722.6L370.1 719.7M378.7 714.2L377.8 711.6"/><polygon points="372.2,707.2 364.3,715.6 370.7,722.6 378.7,714.2"/><polygon points="349.4,724.8 357.3,718.7 363.6,725.5 363.9,728.7 355.5,735.0 349.5,728.1" fill="#dcdcdc"/><path d="M357.7 721.7L357.3 718.7M349.5 728.1L349.4 724.8M355.5 735.0L355.5 731.6M363.9 728.7L363.6 725.6"/><polygon points="357.7,721.7 349.5,728.1 355.5,735.0 363.9,728.7"/><polygon points="334.6,736.5 335.1,732.9 343.0,729.0 348.9,735.7 348.7,739.2 340.4,743.2" fill="#dcdcdc"/><path d="M342.8 732.4L343.0 729.0M334.6 736.5L335.1 732.9M340.4 743.2L341.0 739.4M348.7 739.2L348.9 735.7"/><polygon points="342.8,732.4 334.6,736.5 340.4,743.2 348.7,739.2"/><polygon points="320.4,740.3 321.5,736.5 328.9,735.1 334.6,741.5 333.7,745.3 325.9,746.6" fill="#dcdcdc"/><path d="M328.1 738.8L328.9 735.1M320.4 740.3L321.5 736.5M325.9 746.6L327.1 742.8M333.7 745.3L334.6 741.5"/><polygon points="328.1,738.8 320.4,740.3 325.9,746.6 333.7,745.3"/><polygon points="307.5,739.4 309.1,735.7 315.7,736.7 321.3,742.8 319.9,746.6 313.0,745.3" fill="#dcdcdc"/><path d="M314.4 740.5L315.7 736.7M307.5 739.4L309.1 735.7M313.0 745.3L314.7 741.5M319.9 746.6L321.3 742.8"/><polygon points="314.4,740.5 307.5,739.4 313.0,745.3 319.9,746.6"/></g>
<polygon points="284.8,688.2 284.9,683.9 285.3,679.4 285.8,674.9 286.5,670.3 287.3,665.7 288.4,661.0 289.5,656.2 290.9,651.5 292.4,646.7 294.1,641.9 295.9,637.1 297.9,632.4 300.0,627.7 302.2,623.0 304.6,618.4 307.1,613.9 309.7,609.5 312.4,605.2 315.3,601.0 318.2,596.9 321.2,592.9 324.2,589.1 327.4,585.5 330.6,582.0 333.9,578.7 337.1,575.6 340.5,572.7 343.8,570.0 347.2,567.4 350.6,565.1 353.9,563.1 357.3,561.2 360.6,559.6 363.9,558.3 367.2,557.1 370.4,556.2 373.6,555.6 376.7,555.2 379.7,555.1 382.6,555.2 385.4,555.6 388.2,556.2 393.8,558.0 396.5,558.9 399.0,560.0 404.4,562.6 406.8,564.0 411.8,567.2 414.1,568.9 416.2,570.7 420.8,574.7 422.8,576.7 426.9,581.4 428.7,583.6 432.3,588.8 433.9,591.2 435.4,593.8 438.4,599.5 439.7,602.2 442.1,608.4 443.2,611.1 444.1,614.0 444.9,617.0 445.5,620.2 446.0,623.5 446.3,626.9 446.5,630.5 446.5,634.2 446.4,637.9 446.1,641.8 445.6,645.8 445.0,649.8 444.3,653.8 443.4,658.0 442.3,662.1 441.1,666.3 439.8,670.5 438.4,674.6 436.8,678.8 435.0,683.0 433.2,687.1 431.2,691.2 429.1,695.2 427.0,699.1 424.7,703.0 422.3,706.8 419.8,710.5 417.3,714.1 414.6,717.5 412.0,720.9 409.2,724.0 406.4,727.1 403.6,730.0 400.7,732.7 397.8,735.3 394.8,737.6 391.9,739.8 388.9,741.8 386.0,743.6 383.0,745.3 380.1,746.7 377.2,747.9 374.4,748.9 371.6,749.6 368.8,750.2 362.6,751.2 359.7,751.6 353.6,751.9 350.8,752.0 347.9,751.9 341.9,751.4 339.1,751.0 333.3,749.8 330.5,749.2 327.9,748.3 322.3,746.3 319.7,745.2 314.5,742.5 312.0,741.1 309.7,739.5 304.9,736.0 302.7,734.2 298.2,730.1 296.3,728.0 294.4,725.7 292.7,723.2 291.2,720.5 289.8,717.6 288.6,714.5 287.5,711.3 286.6,707.8 285.9,704.2 285.3,700.4 285.0,696.4 284.8,692.4" fill="#fff" stroke="#000" stroke-width="0.9"/>
<path d="M324.5,749.0 L322.2,747.4 L320.0,745.6 L317.9,743.5 L316.0,741.2 L314.2,738.7 L312.6,736.0 L311.2,733.1 L309.9,729.9 L308.8,726.6 L307.8,723.1 L307.1,719.4 L306.5,715.5 L306.1,711.5 L305.9,707.4 L305.8,703.1 L305.9,698.7 L306.3,694.2 L306.7,689.6 L307.4,685.0 L308.3,680.2 L309.3,675.4 L310.5,670.6 L311.8,665.7 L313.4,660.8 L315.1,655.9 L316.9,651.0 L318.9,646.2 L321.0,641.3 L323.3,636.6 L325.7,631.9 L328.2,627.2 L330.9,622.7 L333.6,618.2 L336.5,613.9 L339.5,609.7 L342.5,605.7 L345.7,601.7 L348.9,598.0 L352.1,594.4 L355.5,591.0 L358.8,587.8 L362.2,584.8 L365.7,581.9 L369.1,579.3 L372.5,577.0 L376.0,574.8 L379.4,572.9 L382.8,571.2 L386.2,569.8 L389.6,568.6 L392.9,567.6 L396.1,566.9 L399.3,566.5 L402.4,566.3 L405.4,566.4 L408.3,566.7 L411.1,567.3 L413.8,568.1 L416.4,569.2 L418.9,570.6" fill="none" stroke="#000" stroke-width="0.6"/>
<g fill="#fff" stroke="#000" stroke-width="0.9" stroke-linejoin="round"><polygon points="296.7,733.8 298.7,730.3 304.2,733.8 309.7,739.4 307.8,743.1 302.2,739.1" fill="#dcdcdc"/><path d="M302.4 737.5L304.2 733.8M296.7 733.8L298.7 730.3M302.2 739.1L304.3 735.6M307.8 743.1L309.7 739.4"/><polygon points="302.4,737.5 296.7,733.8 302.2,739.1 307.8,743.1"/><polygon points="288.4,723.8 290.8,720.7 296.5,725.4 300.4,731.5 298.2,734.9 292.6,729.8" fill="#dcdcdc"/><path d="M292.6 729.8L294.8 726.5M288.4 723.8L290.8 720.7M294.0 728.5L296.5 725.4M298.2 734.9L300.4 731.5"/><polygon points="292.6,729.8 288.4,723.8 294.0,728.5 298.2,734.9"/><polygon points="283.2,709.8 285.8,707.3 291.6,711.4 293.9,719.5 291.4,722.4 285.7,718.0" fill="#dcdcdc"/><path d="M285.7 718.0L288.2 715.1M283.2 709.8L285.8 707.3M289.0 714.0L291.6 711.4M291.3 722.4L293.9 719.5"/><polygon points="285.7,718.0 283.2,709.8 289.0,714.0 291.3,722.4"/><polygon points="281.1,692.7 283.8,690.8 289.9,694.4 290.4,704.1 287.7,706.4 281.9,702.5" fill="#dcdcdc"/><path d="M281.8 702.5L284.5 700.2M281.2 692.7L283.8 690.8M287.2 696.2L289.9 694.4M287.7 706.4L290.4 704.1"/><polygon points="281.8,702.5 281.2,692.7 287.2,696.2 287.7,706.4"/><polygon points="281.3,684.1 282.5,673.2 285.1,672.1 291.5,675.2 290.2,686.0 287.5,687.5" fill="#dcdcdc"/><path d="M281.3 684.2L284.0 682.6M282.5 673.2L285.1 672.1M288.9 676.2L291.5 675.2M287.5 687.5L290.2 686.0"/><polygon points="281.3,684.2 282.5,673.2 288.9,676.2 287.5,687.5"/><polygon points="284.2,663.9 287.1,652.3 289.5,652.0 296.3,654.6 293.3,666.0 290.7,666.7" fill="#dcdcdc"/><path d="M284.2 663.9L286.7 663.2M287.1 652.3L289.5 652.1M293.9 654.8L296.3 654.7M290.7 666.7L293.3 666.0"/><polygon points="284.2,663.9 287.1,652.3 293.9,654.8 290.7,666.7"/><polygon points="290.2,642.8 294.8,631.1 296.9,631.7 301.9,633.2 304.1,633.9 299.5,645.3 297.1,645.1" fill="#dcdcdc"/><path d="M290.2 642.7L292.5 642.9M294.8 631.1L296.9 631.7M301.9 633.2L304.1 633.9M297.1 645.1L299.5 645.3"/><polygon points="290.2,642.7 294.8,631.1 301.9,633.2 297.1,645.1"/><polygon points="299.1,621.7 305.1,610.6 312.7,612.5 314.4,614.0 308.4,624.8 301.1,622.7" fill="#dcdcdc"/><path d="M299.1 621.7L301.1 622.7M305.1 610.6L306.8 612.0M312.7 612.5L314.4 614.0M306.5 623.7L308.4 624.8"/><polygon points="299.1,621.7 305.1,610.6 312.7,612.5 306.5,623.7"/><polygon points="310.5,601.9 317.6,591.9 325.6,593.6 326.8,595.9 319.8,605.6 312.0,603.7" fill="#dcdcdc"/><path d="M310.5 601.9L312.0 603.7M317.6 591.9L318.8 594.1M325.6 593.6L326.8 595.9M318.3 603.7L319.8 605.6"/><polygon points="310.5,601.9 317.6,591.9 325.6,593.6 318.3,603.7"/><polygon points="323.7,584.3 331.6,575.9 340.0,577.6 340.6,580.5 332.9,588.6 324.7,586.8" fill="#dcdcdc"/><path d="M323.7 584.3L324.7 586.8M331.6 575.9L332.3 578.7M340.0 577.6L340.6 580.5M331.9 586.0L332.9 588.6"/><polygon points="323.7,584.3 331.6,575.9 340.0,577.6 331.9,586.0"/><polygon points="338.2,569.8 346.4,563.4 355.1,565.2 355.1,568.6 347.1,574.7 338.6,572.9" fill="#dcdcdc"/><path d="M338.2 569.8L338.6 572.9M346.4 563.4L346.5 566.7M355.1 565.2L355.1 568.6M346.8 571.5L347.1 574.7"/><polygon points="338.2,569.8 346.4,563.4 355.1,565.2 346.8,571.5"/><polygon points="353.0,562.6 353.2,559.1 361.3,555.0 370.3,557.1 369.7,560.8 361.7,564.5" fill="#dcdcdc"/><path d="M353.2 559.1L353.0 562.6M361.3 555.0L360.8 558.7M370.3 557.1L369.7 560.8M362.0 561.0L361.7 564.6"/><polygon points="353.2,559.1 361.3,555.0 370.3,557.1 362.0,561.0"/><polygon points="367.1,556.5 367.9,552.7 375.6,551.2 384.7,553.6 383.5,557.5 376.1,558.7" fill="#dcdcdc"/><path d="M367.9 552.7L367.1 556.5M375.6 551.2L374.5 555.0M384.7 553.6L383.5 557.5M376.9 554.9L376.1 558.7"/><polygon points="367.9,552.7 375.6,551.2 384.7,553.6 376.9,554.9"/><polygon points="380.2,554.8 381.6,551.0 388.4,552.1 397.7,555.0 396.0,558.8 389.4,557.5" fill="#dcdcdc"/><path d="M381.6 551.0L380.2 554.8M388.4 552.1L386.8 555.9M397.7 555.0L396.0 558.8M390.8 553.6L389.3 557.5"/><polygon points="381.6,551.0 388.4,552.1 397.7,555.0 390.8,553.6"/><polygon points="302.9,739.4 305.1,735.9 311.5,736.2 314.3,739.7 312.0,743.1 306.3,742.3" fill="#dcdcdc"/><path d="M306.3 742.3L308.4 738.7M302.9 739.4L305.1 735.9M309.2 739.5L311.5 736.2M312.0 743.1L314.3 739.7"/><polygon points="306.3,742.3 302.9,739.4 309.2,739.5 312.0,743.1"/><polygon points="295.1,728.3 297.6,725.2 305.6,723.6 307.3,728.4 304.8,731.4 297.5,732.7" fill="#dcdcdc"/><path d="M297.5 732.7L299.9 729.4M295.1 728.3L297.6 725.2M303.0 726.3L305.6 723.6M304.8 731.4L307.3 728.4"/><polygon points="297.5,732.7 295.1,728.3 303.0,726.3 304.8,731.4"/><polygon points="290.4,713.3 293.1,710.8 302.8,707.6 303.4,713.5 300.7,715.9 291.7,718.9" fill="#dcdcdc"/><path d="M291.7 718.9L294.3 716.2M290.4 713.3L293.1 710.8M300.1 709.7L302.8 707.6M300.7 715.9L303.4 713.5"/><polygon points="291.7,718.9 290.4,713.3 300.1,709.7 300.7,715.9"/><polygon points="289.1,695.2 291.8,693.4 303.2,689.1 302.7,695.9 300.0,697.5 289.2,701.8" fill="#dcdcdc"/><path d="M289.2 701.8L291.9 699.8M289.1 695.2L291.8 693.4M300.6 690.5L303.2 689.2M300.0 697.5L302.7 695.8"/><polygon points="289.2,701.8 289.1,695.2 300.6,690.5 300.0,697.5"/><polygon points="290.1,682.1 291.2,674.8 304.4,669.6 306.9,669.1 305.3,676.2" fill="#dcdcdc"/><path d="M290.1 682.1L292.8 680.9M291.2 674.8L293.9 673.9M304.4 669.6L306.9 669.1M302.7 677.0L305.3 676.2"/><polygon points="290.1,682.1 291.2,674.8 304.4,669.6 302.7,677.0"/><polygon points="294.4,660.9 296.6,653.3 311.4,648.1 313.6,648.4 310.9,655.7 296.9,660.5" fill="#dcdcdc"/><path d="M294.4 660.9L296.9 660.6M296.6 653.3L299.0 653.3M311.4 648.1L313.6 648.4M308.6 655.6L311.0 655.7"/><polygon points="294.4,660.9 296.6,653.3 311.4,648.1 308.6,655.6"/><polygon points="301.8,639.2 305.1,631.8 321.2,627.0 323.1,628.2 319.5,635.2 304.0,639.7" fill="#dcdcdc"/><path d="M301.8 639.2L304.0 639.7M305.1 631.7L307.2 632.5M321.2 627.0L323.1 628.2M317.5 634.3L319.5 635.2"/><polygon points="301.8,639.2 305.1,631.7 321.2,627.0 317.5,634.3"/><polygon points="312.0,618.2 316.2,611.1 333.4,607.5 334.7,609.5 330.4,615.8 313.8,619.5" fill="#dcdcdc"/><path d="M312.0 618.2L313.8 619.5M316.2 611.1L317.8 612.7M333.4 607.5L334.7 609.5M328.9 614.1L330.4 615.8"/><polygon points="312.0,618.2 316.2,611.1 333.4,607.5 328.9,614.1"/><polygon points="324.5,598.8 329.3,592.5 347.2,590.5 348.0,593.1 343.2,598.5 325.8,600.9" fill="#dcdcdc"/><path d="M324.5 598.7L325.8 600.9M329.3 592.5L330.4 594.9M347.2 590.5L348.0 593.1M342.2 596.1L343.2 598.5"/><polygon points="324.5,598.7 329.3,592.5 347.2,590.5 342.2,596.1"/><polygon points="338.7,582.0 343.9,576.9 362.1,576.8 362.3,580.0 357.2,584.2 339.4,584.7" fill="#dcdcdc"/><path d="M338.7 582.0L339.4 584.7M343.9 576.9L344.4 579.9M362.1 576.8L362.3 580.0M356.8 581.1L357.3 584.2"/><polygon points="338.7,582.0 343.9,576.9 362.1,576.8 356.8,581.1"/><polygon points="353.7,568.7 359.1,565.0 377.3,567.2 376.9,570.8 371.8,573.5 353.9,572.0" fill="#dcdcdc"/><path d="M353.7 568.7L353.9 572.0M359.1 565.0L359.0 568.4M377.3 567.2L376.9 570.8M372.0 570.0L371.8 573.5"/><polygon points="353.7,568.7 359.1,565.0 377.3,567.2 372.0,570.0"/><polygon points="368.5,563.2 369.0,559.5 374.2,557.4 391.9,562.0 391.0,565.9 386.1,567.1" fill="#dcdcdc"/><path d="M369.0 559.5L368.5 563.2M374.2 557.4L373.6 561.1M391.9 562.1L391.0 565.9M386.9 563.3L386.1 567.1"/><polygon points="369.0,559.5 374.2,557.4 391.9,562.1 386.9,563.3"/><polygon points="382.6,558.8 383.7,555.0 388.6,554.5 405.4,561.7 403.9,565.5 399.6,565.1" fill="#dcdcdc"/><path d="M383.7 554.9L382.6 558.8M388.6 554.5L387.3 558.4M405.4 561.7L403.9 565.5M400.9 561.3L399.5 565.1"/><polygon points="383.7,554.9 388.6,554.5 405.4,561.7 400.9,561.3"/><polygon points="395.5,559.1 397.1,555.2 401.3,556.5 417.0,566.2 415.0,569.8" fill="#dcdcdc"/><path d="M397.1 555.2L395.5 559.1M401.3 556.5L399.5 560.3M417.0 566.2L415.0 569.8M413.2 564.1L411.4 567.8"/><polygon points="397.1,555.2 401.3,556.5 417.0,566.2 413.2,564.1"/><polygon points="313.6,740.3 315.9,737.1 331.2,741.6 333.9,744.6 331.9,747.9 316.4,744.0" fill="#dcdcdc"/><path d="M316.4 744.0L318.6 740.6M313.6 740.3L315.9 737.1M329.0 744.8L331.2 741.6M331.9 747.9L333.9 744.6"/><polygon points="316.4,744.0 313.6,740.3 329.0,744.8 331.9,747.9"/><polygon points="307.7,727.1 310.2,724.5 325.0,730.6 326.9,734.9 324.6,737.7 309.4,732.2" fill="#dcdcdc"/><path d="M309.4 732.2L311.9 729.3M307.7 727.1L310.2 724.5M322.6 733.3L325.0 730.6M324.6 737.7L326.9 734.8"/><polygon points="309.4,732.2 307.7,727.1 322.6,733.3 324.6,737.7"/><polygon points="305.0,710.6 307.6,708.6 321.7,716.3 322.5,721.6 320.1,724.0 305.5,716.7" fill="#dcdcdc"/><path d="M305.5 716.7L308.2 714.4M305.0 710.6L307.6 708.6M319.2 718.4L321.7 716.3M320.1 724.0L322.5 721.7"/><polygon points="305.5,716.7 305.0,710.6 319.2,718.4 320.1,724.0"/><polygon points="305.0,698.4 305.6,691.5 308.2,690.2 321.5,699.5 321.2,705.7 318.7,707.3" fill="#dcdcdc"/><path d="M305.0 698.4L307.7 696.9M305.6 691.5L308.2 690.2M318.9 700.9L321.5 699.5M318.7 707.3L321.2 705.7"/><polygon points="305.0,698.4 305.6,691.5 318.9,700.9 318.7,707.3"/><polygon points="307.8,678.1 309.5,670.8 312.0,670.3 324.2,681.1 322.9,687.7 320.5,688.6" fill="#dcdcdc"/><path d="M307.8 678.1L310.3 677.4M309.5 670.8L312.0 670.3M321.8 681.7L324.2 681.1M320.5 688.6L322.9 687.7"/><polygon points="307.8,678.1 309.5,670.8 321.8,681.7 320.5,688.6"/><polygon points="313.8,657.0 316.6,649.5 318.8,649.9 329.9,661.8 327.6,668.6 325.3,668.7" fill="#dcdcdc"/><path d="M313.8 657.0L316.1 657.1M316.6 649.5L318.8 649.9M327.7 661.6L329.9 661.8M325.3 668.7L327.6 668.6"/><polygon points="313.8,657.0 316.6,649.5 327.7,661.6 325.3,668.7"/><polygon points="322.7,635.9 326.4,628.8 328.2,630.0 338.1,642.8 335.0,649.4 333.0,648.7" fill="#dcdcdc"/><path d="M322.7 635.9L324.7 636.9M326.4 628.8L328.2 630.0M336.3 641.8L338.2 642.8M333.0 648.7L335.0 649.3"/><polygon points="322.7,635.9 326.4,628.8 336.3,641.8 333.0,648.7"/><polygon points="334.1,616.1 338.5,609.6 339.9,611.6 348.6,624.9 344.7,631.0 343.2,629.5" fill="#dcdcdc"/><path d="M334.1 616.1L335.6 617.8M338.5 609.6L339.8 611.6M347.2 623.2L348.6 624.9M343.2 629.5L344.7 630.9"/><polygon points="334.1,616.1 338.5,609.6 347.2,623.2 343.2,629.5"/><polygon points="347.3,598.4 352.3,592.9 359.9,606.7 360.8,609.0 356.4,614.3 348.3,600.9" fill="#dcdcdc"/><path d="M347.3 598.4L348.3 600.9M352.3 592.9L353.1 595.6M359.9 606.7L360.8 609.0M355.3 612.1L356.4 614.3"/><polygon points="347.3,598.4 352.3,592.9 359.9,606.7 355.3,612.1"/><polygon points="361.8,583.9 367.0,579.6 373.6,593.1 373.9,596.0 369.2,600.2 362.2,586.9" fill="#dcdcdc"/><path d="M361.8 583.9L362.2 586.9M367.0 579.6L367.2 582.8M373.6 593.1L374.0 596.0M368.7 597.5L369.3 600.2"/><polygon points="361.8,583.9 367.0,579.6 373.6,593.1 368.7,597.5"/><polygon points="376.6,576.6 376.8,573.1 382.0,570.3 387.8,583.2 387.6,586.5 382.8,589.4" fill="#dcdcdc"/><path d="M376.8 573.1L376.6 576.6M382.0 570.3L381.6 573.9M387.8 583.2L387.5 586.6M382.8 586.3L382.8 589.4"/><polygon points="376.8,573.1 382.0,570.3 387.8,583.2 382.8,586.3"/><polygon points="390.7,570.4 391.5,566.7 396.4,565.5 401.6,577.5 400.9,581.0 396.3,582.5" fill="#dcdcdc"/><path d="M391.5 566.7L390.7 570.4M396.4 565.5L395.4 569.3M401.7 577.5L400.9 581.0M396.9 579.0L396.3 582.5"/><polygon points="391.5,566.7 396.4,565.5 401.7,577.5 396.9,579.0"/><polygon points="403.9,568.7 405.2,564.9 409.6,565.4 414.5,576.2 413.2,579.8 409.1,579.7" fill="#dcdcdc"/><path d="M405.2 564.9L403.9 568.7M409.7 565.4L408.1 569.2M414.5 576.2L413.2 579.8M410.2 576.1L409.1 579.7"/><polygon points="405.2,564.9 409.7,565.4 414.5,576.2 410.2,576.1"/><polygon points="415.4,571.6 417.3,567.9 421.0,570.1 425.8,579.4 424.0,582.8 420.5,581.3" fill="#dcdcdc"/><path d="M417.3 567.9L415.4 571.6M421.0 570.1L419.0 573.7M425.8 579.4L424.0 582.8M422.1 577.7L420.5 581.3"/><polygon points="417.3,567.9 421.0,570.1 425.8,579.4 422.1,577.7"/><polygon points="428.9,587.5 430.8,584.2 435.5,588.6 439.9,599.2 438.0,602.1 433.9,597.9" fill="#dcdcdc"/><path d="M430.8 584.2L428.9 587.5M435.5 588.6L433.4 591.8M439.9 599.2L438.0 602.1M435.7 594.9L433.9 597.9"/><polygon points="430.8,584.2 435.5,588.6 439.9,599.2 435.7,594.9"/><polygon points="436.6,596.1 438.7,593.1 442.0,599.6 445.7,609.7 443.6,612.2 440.8,606.2" fill="#dcdcdc"/><path d="M438.7 593.1L436.5 596.1M442.0 599.6L439.7 602.3M445.7 609.7L443.6 612.2M442.9 603.5L440.8 606.2"/><polygon points="438.7,593.1 442.0,599.6 445.7,609.7 442.9,603.5"/><polygon points="441.6,608.2 444.0,605.7 447.5,615.5 448.8,623.4 446.5,625.3 443.1,616.1" fill="#dcdcdc"/><path d="M444.0 605.7L441.6 608.2M445.6 614.0L443.1 616.1M448.8 623.4L446.5 625.3M447.5 615.5L445.2 617.8"/><polygon points="444.0,605.7 445.6,614.0 448.8,623.4 447.5,615.5"/><polygon points="443.6,632.5 443.7,623.2 446.2,621.4 449.3,630.4 449.0,639.4 446.7,640.7" fill="#dcdcdc"/><path d="M446.2 621.4L443.7 623.2M446.1 631.1L443.6 632.5M449.0 639.4L446.7 640.7M449.3 630.4L447.0 632.0"/><polygon points="446.2,621.4 446.1,631.1 449.0,639.4 449.3,630.4"/><polygon points="441.1,650.6 442.8,640.5 445.3,639.4 448.2,647.2 446.4,657.1 444.2,657.7" fill="#dcdcdc"/><path d="M445.3 639.4L442.8 640.5M443.5 649.9L441.1 650.6M446.4 657.1L444.2 657.7M448.2 647.2L445.9 648.2"/><polygon points="445.3,639.4 443.5,649.9 446.4,657.1 448.2,647.2"/><polygon points="435.7,669.5 439.0,659.1 441.3,658.7 444.2,665.3 440.9,675.5 438.9,675.3" fill="#dcdcdc"/><path d="M441.3 658.7L439.0 659.1M437.9 669.6L435.7 669.5M440.9 675.5L438.9 675.3M444.2 665.3L442.1 665.6"/><polygon points="441.3,658.7 437.9,669.6 440.9,675.5 444.2,665.3"/><polygon points="427.8,688.3 432.4,678.1 434.5,678.5 437.6,683.7 433.0,693.6 431.3,692.7" fill="#dcdcdc"/><path d="M434.5 678.5L432.4 678.1M429.6 689.2L427.8 688.3M433.0 693.6L431.3 692.7M437.6 683.7L435.8 683.2"/><polygon points="434.5,678.5 429.6,689.2 433.0,693.6 437.6,683.7"/><polygon points="417.6,706.0 423.4,696.5 425.1,697.7 428.7,701.5 423.0,710.7 419.0,707.7" fill="#dcdcdc"/><path d="M425.1 697.7L423.4 696.5M419.0 707.7L417.6 706.1M423.0 710.7L421.7 709.1M428.7 701.5L427.2 700.3"/><polygon points="425.1,697.7 419.0,707.7 423.0,710.7 428.7,701.5"/><polygon points="405.8,721.8 412.5,713.4 416.9,715.9 417.9,717.8 411.4,725.8 406.7,724.1" fill="#dcdcdc"/><path d="M413.7 715.4L412.5 713.4M406.7 724.1L405.8 721.8M411.4 725.8L410.6 723.6M417.9 717.7L416.9 715.9"/><polygon points="413.7,715.4 406.7,724.1 411.4,725.8 417.9,717.7"/><polygon points="392.8,734.8 400.1,728.1 405.2,729.3 405.8,731.7 398.8,738.1 393.2,737.7" fill="#dcdcdc"/><path d="M400.7 730.6L400.1 728.1M393.2 737.7L392.8 734.8M398.8 738.1L398.5 735.4M405.8 731.7L405.2 729.3"/><polygon points="400.7,730.6 393.2,737.7 398.8,738.1 405.8,731.7"/><polygon points="379.3,747.7 379.5,744.5 386.8,739.6 392.9,739.8 392.9,742.6 385.8,747.1" fill="#dcdcdc"/><path d="M387.0 742.7L386.8 739.6M379.3 747.7L379.5 744.5M385.8 747.1L386.0 744.1M392.9 742.6L392.9 739.7"/><polygon points="387.0,742.7 379.3,747.7 385.8,747.1 392.9,742.6"/><polygon points="365.6,753.7 366.3,750.2 373.5,747.5 380.5,746.8 380.0,749.9 373.1,752.3" fill="#dcdcdc"/><path d="M373.0 750.9L373.5 747.5M365.6 753.7L366.3 750.2M373.1 752.3L373.8 749.1M380.0 749.9L380.5 746.8"/><polygon points="373.0,750.9 365.6,753.7 373.1,752.3 380.0,749.9"/><polygon points="352.8,755.3 354.1,751.8 362.5,750.2 368.6,750.1 367.6,753.3 359.7,755.0" fill="#dcdcdc"/><path d="M359.7 754.9L360.6 751.4M352.8 755.3L354.0 751.8M361.3 753.5L362.5 750.2M367.7 753.3L368.6 750.1"/><polygon points="359.7,754.9 352.8,755.3 361.3,753.5 367.7,753.3"/><polygon points="341.6,752.5 343.3,749.1 352.7,747.3 357.9,749.4 356.5,752.6 347.5,754.6" fill="#dcdcdc"/><path d="M347.5 754.6L349.0 751.1M341.6 752.5L343.3 749.1M351.0 750.5L352.7 747.3M356.5 752.6L357.9 749.4"/><polygon points="347.5,754.6 341.6,752.5 351.0,750.5 356.5,752.6"/><polygon points="332.5,745.4 334.6,742.3 344.7,740.7 348.8,744.8 347.1,747.9 337.2,749.8" fill="#dcdcdc"/><path d="M337.2 749.8L339.1 746.5M332.5 745.4L334.6 742.3M342.8 743.6L344.7 740.7M347.1 747.8L348.8 744.8"/><polygon points="337.2,749.8 332.5,745.4 342.8,743.6 347.1,747.8"/><polygon points="326.0,734.4 328.3,731.7 339.1,730.5 341.9,736.5 339.9,739.2 329.2,740.9" fill="#dcdcdc"/><path d="M329.2 740.9L331.4 738.0M326.0 734.4L328.3 731.7M337.0 733.0L339.1 730.5M339.8 739.2L341.9 736.5"/><polygon points="329.2,740.9 326.0,734.4 337.0,733.0 339.8,739.2"/><polygon points="322.4,720.0 324.9,717.9 336.2,717.4 337.5,725.0 335.2,727.2 324.0,728.3" fill="#dcdcdc"/><path d="M324.0 728.3L326.4 725.9M322.4 720.0L324.9 717.9M333.9 719.4L336.2 717.4M335.2 727.2L337.5 725.0"/><polygon points="324.0,728.3 322.4,720.0 333.9,719.4 335.2,727.2"/><polygon points="321.8,712.6 321.9,703.0 324.4,701.5 336.0,702.0 335.7,710.7 333.4,712.4" fill="#dcdcdc"/><path d="M321.8 712.6L324.3 710.8M321.9 703.0L324.4 701.5M333.7 703.3L336.0 702.0M333.4 712.4L335.7 710.7"/><polygon points="321.8,712.6 321.9,703.0 333.7,703.3 333.4,712.4"/><polygon points="322.7,694.6 324.5,684.1 326.9,683.4 338.5,685.1 336.8,694.5 334.5,695.5" fill="#dcdcdc"/><path d="M322.7 694.7L325.1 693.5M324.5 684.1L326.9 683.4M336.3 685.6L338.5 685.1M334.5 695.5L336.8 694.5"/><polygon points="322.7,694.7 324.5,684.1 336.3,685.6 334.5,695.5"/><polygon points="326.7,675.3 330.1,664.4 332.2,664.5 343.8,667.4 340.6,677.2 338.5,677.4" fill="#dcdcdc"/><path d="M326.7 675.3L328.9 675.0M330.1 664.4L332.2 664.5M341.8 667.3L343.8 667.4M338.5 677.4L340.6 677.2"/><polygon points="326.7,675.3 330.1,664.4 341.8,667.3 338.5,677.4"/><polygon points="333.5,655.5 338.4,644.8 349.7,649.1 351.4,650.0 346.9,659.5 345.1,659.0" fill="#dcdcdc"/><path d="M333.5 655.5L335.5 656.0M338.4 644.8L340.2 645.7M349.7 649.1L351.4 650.0M345.1 659.0L346.9 659.5"/><polygon points="333.5,655.5 338.4,644.8 349.7,649.1 345.1,659.0"/><polygon points="342.9,636.3 348.9,626.4 359.7,632.1 361.0,633.6 355.5,642.5 344.5,637.5" fill="#dcdcdc"/><path d="M342.9 636.3L344.5 637.6M349.0 626.4L350.4 628.0M359.7 632.1L361.0 633.6M354.0 641.2L355.5 642.5"/><polygon points="342.9,636.3 349.0,626.4 359.7,632.1 354.0,641.2"/><polygon points="354.3,618.7 361.3,609.9 371.3,617.0 372.1,619.2 365.8,626.8 355.5,620.6" fill="#dcdcdc"/><path d="M354.3 618.7L355.5 620.6M361.3 609.9L362.2 612.2M371.3 617.0L372.1 619.2M364.8 625.0L365.8 626.8"/><polygon points="354.3,618.7 361.3,609.9 371.3,617.0 364.8,625.0"/><polygon points="367.2,603.4 374.8,596.4 383.9,604.6 384.2,607.3 377.5,613.5 367.9,606.0" fill="#dcdcdc"/><path d="M367.2 603.4L367.9 606.0M374.8 596.4L375.1 599.2M383.9 604.6L384.2 607.3M376.9 611.0L377.5 613.5"/><polygon points="367.2,603.4 374.8,596.4 383.9,604.6 376.9,611.0"/><polygon points="381.0,591.4 388.7,586.4 396.9,595.6 396.7,598.6 389.8,603.0 381.1,594.4" fill="#dcdcdc"/><path d="M381.0 591.4L381.1 594.4M388.7 586.3L388.5 589.6M396.9 595.6L396.7 598.7M389.8 600.1L389.8 603.0"/><polygon points="381.0,591.4 388.7,586.3 396.9,595.6 389.8,600.1"/><polygon points="394.5,586.5 394.9,583.1 402.4,580.4 409.6,590.4 408.9,593.7 402.2,595.9" fill="#dcdcdc"/><path d="M394.9 583.1L394.5 586.5M402.4 580.4L401.7 583.8M409.6 590.4L408.9 593.7M402.7 592.8L402.2 595.9"/><polygon points="394.9,583.1 402.4,580.4 409.6,590.4 402.7,592.8"/><polygon points="407.3,582.6 408.3,579.1 415.2,578.7 421.4,589.3 420.2,592.5 414.1,592.7" fill="#dcdcdc"/><path d="M408.3 579.1L407.3 582.6M415.2 578.7L413.9 582.3M421.4 589.3L420.2 592.6M415.1 589.4L414.1 592.7"/><polygon points="408.3,579.1 415.2,578.7 421.4,589.3 415.1,589.4"/><polygon points="419.0,583.0 420.4,579.5 426.4,581.5 431.7,592.2 430.1,595.4 424.8,593.4" fill="#dcdcdc"/><path d="M420.4 579.5L419.0 583.0M426.4 581.5L424.7 585.0M431.7 592.2L430.0 595.4M426.2 590.1L424.8 593.4"/><polygon points="420.4,579.5 426.4,581.5 431.7,592.2 426.2,590.1"/></g>
<ellipse cx="386.8" cy="668.6" rx="75.5" ry="40.1" transform="rotate(-63.45 386.8 668.6)" fill="#fff" stroke="#000" stroke-width="2.0"/>
<ellipse cx="386.8" cy="668.6" rx="72.8" ry="38.7" transform="rotate(-63.45 386.8 668.6)" fill="none" stroke="#000" stroke-width="0.9"/>
<ellipse cx="384.8" cy="663.6" rx="51.7" ry="27.5" transform="rotate(-63.45 384.8 663.6)" fill="#fff" stroke="#000" stroke-width="1.6"/>
<clipPath id="h4"><ellipse cx="384.8" cy="663.6" rx="51.7" ry="27.5" transform="rotate(-63.45 384.8 663.6)" /></clipPath>
<g clip-path="url(#h4)"><ellipse cx="348.0" cy="645.8" rx="51.7" ry="27.5" transform="rotate(-63.45 348.0 645.8)" fill="none" stroke="#000" stroke-width="0.8"/><ellipse cx="348.0" cy="645.8" rx="53.8" ry="28.6" transform="rotate(-63.45 348.0 645.8)" fill="none" stroke="#000" stroke-width="0.8"/><ellipse cx="375.9" cy="662.2" rx="52.7" ry="28.0" transform="rotate(-63.45 375.9 662.2)" fill="none" stroke="#000" stroke-width="0.7"/><ellipse cx="363.5" cy="654.9" rx="52.7" ry="28.0" transform="rotate(-63.45 363.5 654.9)" fill="none" stroke="#000" stroke-width="0.7"/><line x1="112.0" y1="506.0" x2="531.0" y2="754.5" stroke="#000" stroke-width="0.9" stroke-dasharray="10,4"/></g>
<ellipse cx="384.8" cy="663.6" rx="54.0" ry="28.7" transform="rotate(-63.45 384.8 663.6)" fill="none" stroke="#000" stroke-width="0.6"/>
<ellipse cx="384.8" cy="663.6" rx="56.4" ry="30.0" transform="rotate(-63.45 384.8 663.6)" fill="none" stroke="#000" stroke-width="0.6"/>
<ellipse cx="384.8" cy="663.6" rx="58.9" ry="31.3" transform="rotate(-63.45 384.8 663.6)" fill="none" stroke="#000" stroke-width="0.6"/>
<polygon points="756.1,259.3 754.8,258.3 753.6,257.2 752.4,256.1 751.3,254.8 750.4,253.4 749.5,251.8 748.6,250.2 747.9,248.5 747.3,246.8 746.8,244.9 746.4,242.9 746.0,240.9 745.8,238.8 745.7,236.6 745.6,234.4 745.7,232.2 745.9,229.9 746.1,227.5 746.5,225.1 747.0,222.7 747.5,220.3 748.2,217.8 748.9,215.4 749.8,213.0 750.7,210.5 751.7,208.1 752.8,205.7 754.0,203.3 755.3,201.0 756.6,198.7 758.0,196.4 759.5,194.2 761.0,192.1 762.6,190.0 764.3,188.0 766.0,186.1 767.7,184.2 769.5,182.5 771.3,180.8 773.2,179.3 775.0,177.8 776.9,176.4 778.8,175.2 780.8,174.0 782.7,173.0 784.6,172.1 786.5,171.3 788.4,170.6 790.3,170.0 792.2,169.6 794.0,169.3 795.8,169.1 797.6,169.1 799.3,169.2 801.0,169.4 802.6,169.7 804.2,170.2 805.7,170.8 807.1,171.5 808.5,172.3 818.6,177.7 819.9,178.7 821.2,179.8 822.4,181.0 823.5,182.3 824.5,183.8 825.4,185.3 826.2,186.9 827.0,188.7 827.6,190.5 828.1,192.4 828.6,194.4 828.9,196.5 829.2,198.6 829.3,200.8 829.3,203.1 829.3,205.4 829.1,207.8 828.8,210.2 828.4,212.6 827.9,215.1 827.4,217.5 826.7,220.0 825.9,222.5 825.1,225.0 824.1,227.5 823.1,230.0 821.9,232.4 820.7,234.9 819.4,237.3 818.1,239.6 816.6,241.9 815.1,244.1 813.6,246.3 811.9,248.4 810.3,250.5 808.5,252.5 806.7,254.3 804.9,256.1 803.1,257.9 801.2,259.5 799.3,261.0 797.3,262.4 795.4,263.6 793.4,264.8 791.5,265.9 789.5,266.8 787.6,267.6 785.6,268.3 783.7,268.9 781.8,269.3 779.9,269.6 778.1,269.8 776.3,269.8 774.5,269.7 772.8,269.5 771.1,269.2 769.5,268.7 768.0,268.1 766.5,267.4 765.1,266.5" fill="#fff" stroke="#000" stroke-width="1.3"/>
<path d="M758.4,261.1 L756.8,259.9 L755.3,258.6 L754.0,257.1 L752.8,255.4 L751.7,253.6 L750.7,251.7 L749.9,249.6 L749.2,247.4 L748.6,245.1 L748.2,242.6 L747.9,240.1 L747.8,237.5 L747.8,234.7 L748.0,232.0 L748.3,229.1 L748.8,226.3 L749.4,223.4 L750.1,220.4 L751.0,217.5 L752.0,214.5 L753.1,211.6 L754.4,208.7 L755.8,205.8 L757.3,202.9 L758.9,200.2 L760.6,197.5 L762.4,194.8 L764.3,192.3 L766.2,189.8 L768.3,187.5 L770.4,185.3 L772.5,183.2 L774.8,181.3 L777.0,179.4 L779.3,177.8 L781.6,176.3 L783.9,174.9 L786.2,173.7 L788.5,172.7 L790.8,171.9 L793.1,171.3 L795.3,170.8 L797.5,170.5 L799.7,170.4 L801.8,170.5 L803.8,170.8 L805.7,171.2 L807.6,171.9 L809.4,172.7 L811.0,173.7" fill="none" stroke="#000" stroke-width="0.8"/>
<path d="M760.6,262.9 L759.0,261.7 L757.6,260.4 L756.2,258.9 L755.0,257.2 L753.9,255.4 L752.9,253.4 L752.1,251.3 L751.4,249.1 L750.8,246.8 L750.4,244.3 L750.1,241.8 L750.0,239.1 L750.0,236.4 L750.2,233.6 L750.5,230.8 L751.0,227.9 L751.6,225.0 L752.3,222.0 L753.2,219.0 L754.2,216.1 L755.3,213.1 L756.6,210.2 L758.0,207.3 L759.5,204.4 L761.1,201.7 L762.8,198.9 L764.6,196.3 L766.5,193.7 L768.5,191.3 L770.6,188.9 L772.7,186.7 L774.9,184.6 L777.1,182.6 L779.3,180.8 L781.6,179.1 L784.0,177.6 L786.3,176.3 L788.6,175.1 L790.9,174.1 L793.2,173.3 L795.5,172.6 L797.8,172.1 L800.0,171.8 L802.1,171.7 L804.2,171.8 L806.3,172.1 L808.2,172.6 L810.1,173.2 L811.9,174.0 L813.6,175.0" fill="none" stroke="#000" stroke-width="0.8"/>
<path d="M762.8,264.7 L761.2,263.5 L759.8,262.2 L758.4,260.7 L757.2,259.0 L756.1,257.2 L755.1,255.2 L754.3,253.1 L753.6,250.9 L753.0,248.5 L752.6,246.0 L752.3,243.5 L752.2,240.8 L752.2,238.1 L752.4,235.3 L752.7,232.4 L753.2,229.5 L753.8,226.6 L754.5,223.6 L755.4,220.6 L756.4,217.6 L757.6,214.7 L758.8,211.7 L760.2,208.8 L761.7,205.9 L763.4,203.1 L765.1,200.4 L766.9,197.7 L768.8,195.2 L770.8,192.7 L772.9,190.3 L775.0,188.1 L777.2,186.0 L779.4,184.0 L781.7,182.2 L784.0,180.5 L786.3,179.0 L788.7,177.6 L791.0,176.4 L793.3,175.4 L795.7,174.6 L798.0,173.9 L800.2,173.5 L802.4,173.2 L804.6,173.1 L806.7,173.2 L808.8,173.4 L810.7,173.9 L812.6,174.5 L814.4,175.4 L816.1,176.4" fill="none" stroke="#000" stroke-width="0.8"/>
<ellipse cx="791.8" cy="222.1" rx="51.9" ry="31.5" transform="rotate(-60.43 791.8 222.1)" fill="#fff" stroke="#000" stroke-width="1.0"/>
<ellipse cx="791.8" cy="222.1" rx="48.2" ry="29.3" transform="rotate(-60.43 791.8 222.1)" fill="none" stroke="#000" stroke-width="0.8"/>
<polygon points="767.8,262.1 766.5,261.2 765.4,260.2 764.4,259.1 763.4,257.9 762.5,256.6 761.6,255.3 760.9,253.8 760.2,252.2 759.7,250.6 759.2,248.8 758.8,247.1 758.5,245.2 758.3,243.3 758.1,241.3 758.1,239.2 758.2,237.2 758.3,235.0 758.6,232.9 758.9,230.7 759.3,228.5 759.9,226.2 760.5,224.0 761.2,221.7 761.9,219.5 762.8,217.3 763.7,215.0 764.7,212.8 765.8,210.6 767.0,208.5 768.2,206.4 769.5,204.3 770.9,202.3 772.3,200.3 773.7,198.4 775.3,196.6 776.8,194.8 778.4,193.1 780.1,191.5 781.7,190.0 783.4,188.5 785.2,187.2 786.9,185.9 788.6,184.7 790.4,183.7 792.2,182.7 793.9,181.9 795.7,181.2 797.4,180.5 799.2,180.0 800.9,179.6 802.6,179.4 804.2,179.2 805.9,179.2 807.5,179.2 809.0,179.4 810.5,179.8 811.9,180.2 813.3,180.7 814.7,181.4 815.9,182.2 857.5,201.6 858.9,202.6 860.2,203.7 861.4,205.0 862.5,206.4 863.6,207.8 864.5,209.4 865.4,211.1 866.1,212.9 866.8,214.8 867.3,216.7 867.8,218.8 868.1,220.9 868.4,223.1 868.5,225.4 868.6,227.7 868.5,230.1 868.3,232.6 868.0,235.0 867.6,237.5 867.2,240.1 866.6,242.6 865.9,245.2 865.1,247.8 864.2,250.3 863.2,252.9 862.1,255.5 861.0,258.0 859.7,260.5 858.4,262.9 857.0,265.4 855.5,267.7 854.0,270.0 852.3,272.3 850.7,274.5 848.9,276.6 847.1,278.6 845.3,280.6 843.4,282.4 841.5,284.2 839.6,285.8 837.6,287.4 835.6,288.8 833.6,290.1 831.6,291.3 829.6,292.4 827.5,293.4 825.5,294.2 823.5,294.9 821.5,295.5 819.6,296.0 817.7,296.3 815.8,296.5 813.9,296.5 812.1,296.4 810.3,296.2 808.6,295.8 806.9,295.3 805.4,294.7 803.8,294.0 802.4,293.1" fill="#fff" stroke="#000" stroke-width="1.0"/>
<path d="M781.6,274.4 L780.1,273.3 L778.7,272.0 L777.4,270.6 L776.2,269.0 L775.2,267.2 L774.2,265.3 L773.4,263.3 L772.8,261.2 L772.2,258.9 L771.8,256.6 L771.6,254.1 L771.4,251.6 L771.5,249.0 L771.6,246.3 L771.9,243.6 L772.4,240.8 L773.0,238.0 L773.7,235.1 L774.5,232.3 L775.5,229.4 L776.6,226.6 L777.8,223.8 L779.1,221.0 L780.6,218.3 L782.1,215.6 L783.8,213.0 L785.5,210.4 L787.3,208.0 L789.2,205.6 L791.2,203.3 L793.3,201.2 L795.3,199.2 L797.5,197.3 L799.7,195.5 L801.9,193.9 L804.1,192.5 L806.3,191.2 L808.6,190.0 L810.8,189.1 L813.0,188.3 L815.2,187.6 L817.4,187.2 L819.5,186.9 L821.6,186.8 L823.6,186.9 L825.5,187.2 L827.4,187.6 L829.2,188.2 L830.9,189.0 L832.5,190.0" fill="none" stroke="#000" stroke-width="0.8"/>
<path d="M783.4,276.0 L781.8,274.8 L780.4,273.6 L779.1,272.1 L777.9,270.5 L776.9,268.7 L775.9,266.8 L775.1,264.8 L774.4,262.7 L773.9,260.4 L773.5,258.0 L773.2,255.6 L773.1,253.0 L773.1,250.4 L773.3,247.7 L773.6,244.9 L774.0,242.1 L774.6,239.3 L775.3,236.4 L776.2,233.6 L777.2,230.7 L778.3,227.8 L779.5,225.0 L780.8,222.2 L782.3,219.4 L783.9,216.7 L785.5,214.1 L787.3,211.5 L789.1,209.1 L791.0,206.7 L793.0,204.4 L795.1,202.3 L797.2,200.2 L799.3,198.3 L801.5,196.6 L803.7,194.9 L806.0,193.5 L808.2,192.2 L810.5,191.0 L812.7,190.0 L815.0,189.2 L817.2,188.6 L819.3,188.1 L821.5,187.9 L823.6,187.8 L825.6,187.9 L827.6,188.1 L829.5,188.6 L831.3,189.2 L833.0,190.0 L834.6,191.0" fill="none" stroke="#000" stroke-width="0.8"/>
<path d="M797.2,288.4 L795.6,287.2 L794.1,285.8 L792.7,284.3 L791.5,282.6 L790.3,280.8 L789.3,278.8 L788.5,276.6 L787.8,274.4 L787.2,272.0 L786.8,269.5 L786.5,266.9 L786.4,264.2 L786.4,261.4 L786.6,258.5 L786.9,255.6 L787.4,252.7 L788.0,249.7 L788.7,246.7 L789.6,243.7 L790.7,240.6 L791.8,237.6 L793.1,234.6 L794.5,231.7 L796.1,228.7 L797.7,225.9 L799.5,223.1 L801.3,220.4 L803.3,217.8 L805.3,215.3 L807.4,212.9 L809.5,210.6 L811.8,208.5 L814.0,206.5 L816.3,204.6 L818.7,202.9 L821.0,201.4 L823.4,200.0 L825.8,198.8 L828.2,197.7 L830.5,196.9 L832.9,196.2 L835.2,195.8 L837.4,195.5 L839.6,195.4 L841.8,195.5 L843.8,195.7 L845.8,196.2 L847.7,196.9 L849.6,197.7 L851.3,198.7" fill="none" stroke="#000" stroke-width="0.8"/>
<ellipse cx="830.0" cy="247.4" rx="56.3" ry="34.1" transform="rotate(-60.43 830.0 247.4)" fill="#fff" stroke="#000" stroke-width="3.2"/>
<ellipse cx="830.0" cy="247.4" rx="53.2" ry="32.3" transform="rotate(-60.43 830.0 247.4)" fill="none" stroke="#000" stroke-width="0.9"/>
<g fill="#fff" stroke="#000" stroke-width="1.4" stroke-linejoin="round">
<polygon points="857.6,226.1 859.7,225.4 861.7,224.3 863.4,222.8 864.5,220.9 865.0,218.9 864.8,216.9 863.9,215.2 862.5,214.0 860.5,213.4 858.3,213.4 856.0,214.0 853.8,215.1 849.2,219.7 837.0,230.0 851.6,225.8"/>
<polygon points="856.8,224.3 858.4,223.7 859.8,222.9 860.9,221.8 861.7,220.5 862.1,219.2 861.9,217.9 861.3,216.8 860.3,216.0 859.0,215.6 857.5,215.6 855.8,216.0 854.2,216.7 849.3,220.8 841.5,227.3 850.9,225.0" fill="none" stroke-width="0.9"/>
<polyline points="859.3,205.1 846.9,216.8 862.2,208.7" fill="none" stroke-width="0.8"/>
<polyline points="834.9,227.4 846.9,216.8" fill="none" stroke-width="0.7"/>
<polygon points="854.1,248.5 856.0,249.3 858.0,249.5 859.9,249.0 861.7,247.7 863.1,245.9 864.0,243.6 864.4,241.1 864.1,238.7 863.1,236.6 861.6,235.0 859.7,234.0 857.6,233.7 851.9,235.6 837.8,238.2 850.1,244.0"/>
<polygon points="854.5,246.0 855.9,246.5 857.4,246.6 858.7,246.2 860.0,245.4 860.9,244.1 861.5,242.6 861.7,241.0 861.5,239.4 860.8,238.0 859.8,236.9 858.4,236.1 856.9,235.8 851.3,236.8 842.4,238.5 850.1,242.6" fill="none" stroke-width="0.9"/>
<polyline points="867.1,226.3 852.1,230.5 866.9,232.5" fill="none" stroke-width="0.8"/>
<polyline points="838.0,233.7 852.1,230.5" fill="none" stroke-width="0.7"/>
<polygon points="840.9,269.7 841.9,271.8 843.2,273.4 844.8,274.2 846.5,274.2 848.4,273.2 850.1,271.5 851.5,269.2 852.4,266.4 852.8,263.6 852.5,260.9 851.6,258.6 850.3,256.7 845.4,254.7 834.1,247.8 840.1,262.3"/>
<polygon points="842.3,267.5 843.1,268.9 844.1,270.0 845.2,270.6 846.4,270.5 847.7,269.9 848.8,268.8 849.7,267.2 850.3,265.4 850.5,263.5 850.3,261.6 849.7,259.9 848.8,258.5 844.4,255.6 837.2,251.2 840.7,260.8" fill="none" stroke-width="0.9"/>
<polyline points="860.7,255.5 848.1,249.5 857.4,261.9" fill="none" stroke-width="0.8"/>
<polyline points="836.5,243.1 848.1,249.5" fill="none" stroke-width="0.7"/>
<polygon points="823.0,281.6 822.8,284.4 823.0,286.9 823.7,288.9 824.9,290.1 826.5,290.5 828.4,290.1 830.3,288.7 832.1,286.6 833.5,284.0 834.4,281.1 834.8,278.2 834.7,275.4 832.1,269.9 827.3,255.0 825.4,273.7"/>
<polygon points="824.8,280.4 824.7,282.4 824.9,284.2 825.5,285.6 826.3,286.4 827.4,286.7 828.6,286.4 829.9,285.5 831.0,284.1 831.9,282.3 832.6,280.2 832.9,278.1 832.9,276.1 831.0,270.1 828.0,260.6 826.4,272.7" fill="none" stroke-width="0.9"/>
<polyline points="842.4,281.4 836.2,266.5 837.4,285.7" fill="none" stroke-width="0.8"/>
<polyline points="831.0,251.9 836.2,266.5" fill="none" stroke-width="0.7"/>
<polygon points="807.1,279.7 805.9,282.2 805.1,284.8 804.8,287.3 805.0,289.5 805.8,291.1 807.1,292.1 808.8,292.3 810.7,291.6 812.6,290.1 814.3,288.0 815.7,285.4 816.7,282.6 817.2,275.3 819.9,257.1 811.6,273.9"/>
<polygon points="808.7,279.9 807.8,281.8 807.3,283.7 807.1,285.5 807.3,287.0 807.8,288.1 808.7,288.7 809.8,288.8 811.0,288.3 812.3,287.3 813.5,285.8 814.5,283.9 815.3,281.9 816.4,274.7 818.2,263.1 812.6,273.7" fill="none" stroke-width="0.9"/>
<polyline points="819.3,294.3 821.2,275.0 814.4,294.7" fill="none" stroke-width="0.8"/>
<polyline points="823.5,256.8 821.2,275.0" fill="none" stroke-width="0.7"/>
<polygon points="799.5,264.6 797.9,266.1 796.4,268.0 795.3,270.2 794.5,272.5 794.2,274.8 794.5,276.9 795.3,278.5 796.5,279.4 798.1,279.5 799.8,278.9 801.6,277.5 803.2,275.6 806.3,268.9 814.8,253.3 803.9,262.8"/>
<polygon points="800.1,266.2 798.9,267.4 797.9,268.8 797.1,270.3 796.6,272.0 796.4,273.5 796.6,274.9 797.1,275.9 798.0,276.5 799.1,276.5 800.3,276.0 801.5,275.1 802.7,273.8 806.1,267.6 811.6,257.7 804.5,263.4" fill="none" stroke-width="0.9"/>
<polyline points="800.2,289.1 808.6,271.8 797.3,285.5" fill="none" stroke-width="0.8"/>
<polyline points="816.9,255.9 808.6,271.8" fill="none" stroke-width="0.7"/>
<polygon points="802.9,242.2 801.6,242.2 800.2,242.8 798.7,243.9 797.3,245.7 796.1,247.8 795.2,250.3 794.8,252.6 794.9,254.7 795.5,256.3 796.5,257.2 797.9,257.4 799.4,257.0 803.6,253.0 813.9,245.1 805.4,244.6"/>
<polygon points="802.4,244.5 801.4,244.6 800.3,245.1 799.3,245.9 798.3,247.1 797.6,248.6 797.0,250.2 796.7,251.7 796.8,253.1 797.2,254.1 798.0,254.8 798.9,254.9 800.0,254.7 804.1,251.6 810.7,246.6 805.3,245.8" fill="none" stroke-width="0.9"/>
<polyline points="792.4,267.8 803.4,258.1 792.6,261.7" fill="none" stroke-width="0.8"/>
<polyline points="813.8,249.6 803.4,258.1" fill="none" stroke-width="0.7"/>
<polygon points="816.1,221.0 815.7,219.7 815.0,218.9 813.9,218.7 812.4,219.2 810.8,220.5 809.2,222.3 807.7,224.6 806.5,227.0 805.8,229.3 805.7,231.4 806.0,232.9 806.7,234.0 810.1,233.8 817.6,235.5 815.4,226.3"/>
<polygon points="814.6,223.0 814.2,222.1 813.7,221.6 812.9,221.6 811.9,221.9 810.8,222.8 809.7,224.0 808.8,225.5 808.0,227.1 807.6,228.7 807.4,230.1 807.6,231.2 808.1,232.0 811.0,232.8 815.8,233.9 814.7,227.6" fill="none" stroke-width="0.9"/>
<polyline points="798.8,238.7 807.5,239.1 802.1,232.2" fill="none" stroke-width="0.8"/>
<polyline points="815.3,240.2 807.5,239.1" fill="none" stroke-width="0.7"/>
<polygon points="834.0,209.1 834.8,207.1 835.2,205.4 834.9,204.0 834.1,203.3 832.7,203.2 830.9,203.8 828.9,205.0 826.9,206.8 825.1,208.9 823.7,211.1 822.8,213.3 822.4,215.3 823.4,218.6 824.5,228.3 830.1,214.8"/>
<polygon points="832.1,210.1 832.6,208.7 832.8,207.4 832.6,206.5 832.0,206.0 831.1,206.0 829.9,206.4 828.6,207.2 827.3,208.4 826.1,209.8 825.1,211.4 824.4,213.0 824.0,214.4 824.4,218.3 825.0,224.5 829.0,215.7" fill="none" stroke-width="0.9"/>
<polyline points="817.1,212.7 819.3,222.1 822.2,208.5" fill="none" stroke-width="0.8"/>
<polyline points="820.8,231.4 819.3,222.1" fill="none" stroke-width="0.7"/>
<polygon points="849.9,211.0 851.7,209.3 853.0,207.4 853.8,205.6 853.9,203.9 853.4,202.6 852.1,201.7 850.4,201.4 848.3,201.8 846.0,202.8 843.9,204.3 841.9,206.1 840.4,208.1 838.4,213.3 831.9,226.2 843.9,214.7"/>
<polygon points="848.2,210.6 849.5,209.3 850.4,207.9 850.9,206.6 851.0,205.5 850.7,204.6 849.9,204.0 848.7,203.9 847.3,204.2 845.7,204.8 844.2,205.9 842.8,207.1 841.6,208.6 839.0,213.7 834.8,222.0 842.8,214.7" fill="none" stroke-width="0.9"/>
<polyline points="840.2,199.9 834.3,213.6 845.1,199.5" fill="none" stroke-width="0.8"/>
<polyline points="828.3,226.5 834.3,213.6" fill="none" stroke-width="0.7"/>
</g>
<ellipse cx="825.0" cy="240.4" rx="14.6" ry="8.9" transform="rotate(-60.43 825.0 240.4)" fill="#fff" stroke="#000" stroke-width="1.0"/>
<ellipse cx="825.0" cy="240.4" rx="9.6" ry="5.8" transform="rotate(-60.43 825.0 240.4)" fill="#fff" stroke="#000" stroke-width="2.2"/>
<ellipse cx="825.0" cy="240.4" rx="6.8" ry="4.1" transform="rotate(-60.43 825.0 240.4)" fill="#fff" stroke="#000" stroke-width="0.8"/>
<polygon points="392.3,478.8 391.2,478.0 390.1,477.1 389.1,476.0 388.2,474.9 387.4,473.6 386.6,472.3 386.0,470.8 385.4,469.3 384.9,467.7 384.5,466.0 384.2,464.2 384.0,462.3 383.8,460.4 383.8,458.4 383.8,456.4 384.0,454.3 384.2,452.1 384.6,450.0 385.0,447.7 385.5,445.5 386.1,443.2 386.8,440.9 387.5,438.6 388.4,436.3 389.3,434.0 390.3,431.8 391.4,429.5 392.5,427.2 393.8,425.0 395.0,422.8 396.4,420.7 397.8,418.6 399.2,416.5 400.7,414.5 402.3,412.6 403.9,410.8 405.5,409.0 407.2,407.3 408.9,405.6 410.6,404.1 412.3,402.6 414.1,401.3 415.8,400.0 417.6,398.9 419.3,397.8 421.1,396.9 422.8,396.1 424.6,395.4 426.3,394.8 428.0,394.3 429.6,393.9 431.2,393.7 432.8,393.6 434.4,393.6 435.9,393.7 437.3,393.9 438.7,394.3 440.0,394.7 441.3,395.3 442.5,396.0 452.5,400.3 453.7,401.2 454.8,402.1 455.8,403.2 456.8,404.4 457.6,405.7 458.4,407.1 459.1,408.6 459.7,410.2 460.2,411.9 460.6,413.6 460.9,415.5 461.2,417.4 461.3,419.4 461.3,421.5 461.3,423.6 461.1,425.8 460.9,428.0 460.6,430.2 460.1,432.5 459.6,434.9 459.0,437.2 458.3,439.6 457.5,442.0 456.6,444.3 455.6,446.7 454.6,449.1 453.5,451.4 452.3,453.8 451.0,456.1 449.7,458.3 448.3,460.6 446.9,462.7 445.4,464.8 443.8,466.9 442.2,468.9 440.5,470.8 438.8,472.7 437.1,474.5 435.4,476.1 433.6,477.7 431.8,479.2 430.0,480.6 428.2,481.9 426.4,483.1 424.5,484.2 422.7,485.2 420.9,486.0 419.1,486.8 417.3,487.4 415.6,487.9 413.9,488.3 412.2,488.5 410.6,488.7 409.0,488.7 407.4,488.5 405.9,488.3 404.5,487.9 403.1,487.4 401.8,486.8 400.5,486.1" fill="#fff" stroke="#000" stroke-width="1.3"/>
<path d="M394.4,480.6 L393.0,479.6 L391.7,478.5 L390.6,477.1 L389.6,475.7 L388.6,474.0 L387.8,472.3 L387.2,470.4 L386.6,468.4 L386.2,466.2 L385.9,464.0 L385.8,461.7 L385.8,459.2 L385.9,456.7 L386.1,454.1 L386.5,451.5 L387.1,448.8 L387.7,446.1 L388.5,443.3 L389.4,440.6 L390.4,437.8 L391.5,435.0 L392.8,432.2 L394.1,429.5 L395.6,426.8 L397.1,424.1 L398.7,421.5 L400.5,419.0 L402.2,416.6 L404.1,414.2 L406.0,412.0 L408.0,409.8 L410.0,407.8 L412.1,405.8 L414.2,404.1 L416.3,402.4 L418.4,400.9 L420.6,399.5 L422.7,398.3 L424.8,397.3 L426.9,396.4 L429.0,395.7 L431.0,395.2 L433.0,394.8 L434.9,394.6 L436.8,394.6 L438.6,394.8 L440.3,395.1 L442.0,395.6 L443.6,396.3 L445.0,397.1" fill="none" stroke="#000" stroke-width="0.8"/>
<path d="M396.4,482.5 L395.0,481.4 L393.8,480.3 L392.6,478.9 L391.6,477.4 L390.6,475.8 L389.8,474.0 L389.1,472.1 L388.6,470.1 L388.2,467.9 L387.9,465.7 L387.8,463.3 L387.7,460.9 L387.9,458.3 L388.1,455.7 L388.5,453.1 L389.0,450.3 L389.7,447.6 L390.5,444.8 L391.4,442.0 L392.4,439.2 L393.5,436.4 L394.8,433.6 L396.2,430.8 L397.6,428.1 L399.2,425.5 L400.8,422.8 L402.6,420.3 L404.4,417.8 L406.2,415.4 L408.2,413.2 L410.2,411.0 L412.2,408.9 L414.3,407.0 L416.4,405.2 L418.5,403.5 L420.7,402.0 L422.8,400.6 L425.0,399.4 L427.1,398.4 L429.2,397.5 L431.3,396.8 L433.4,396.2 L435.4,395.9 L437.3,395.7 L439.2,395.6 L441.0,395.8 L442.8,396.1 L444.5,396.6 L446.0,397.3 L447.5,398.2" fill="none" stroke="#000" stroke-width="0.8"/>
<path d="M398.5,484.3 L397.1,483.2 L395.8,482.1 L394.6,480.7 L393.6,479.2 L392.6,477.6 L391.8,475.8 L391.1,473.8 L390.6,471.8 L390.2,469.6 L389.9,467.3 L389.7,465.0 L389.7,462.5 L389.8,459.9 L390.1,457.3 L390.5,454.6 L391.0,451.9 L391.7,449.1 L392.5,446.3 L393.4,443.5 L394.4,440.6 L395.6,437.8 L396.8,435.0 L398.2,432.2 L399.7,429.5 L401.2,426.8 L402.9,424.1 L404.7,421.6 L406.5,419.1 L408.4,416.7 L410.3,414.4 L412.3,412.2 L414.4,410.1 L416.5,408.1 L418.6,406.3 L420.8,404.6 L423.0,403.1 L425.1,401.7 L427.3,400.5 L429.4,399.4 L431.6,398.6 L433.7,397.8 L435.7,397.3 L437.8,396.9 L439.7,396.7 L441.6,396.7 L443.5,396.9 L445.2,397.2 L446.9,397.7 L448.5,398.4 L450.0,399.3" fill="none" stroke="#000" stroke-width="0.8"/>
<ellipse cx="426.5" cy="443.2" rx="50.2" ry="27.7" transform="rotate(-59.60 426.5 443.2)" fill="#fff" stroke="#000" stroke-width="1.0"/>
<ellipse cx="426.5" cy="443.2" rx="46.6" ry="25.7" transform="rotate(-59.60 426.5 443.2)" fill="none" stroke="#000" stroke-width="0.8"/>
<polygon points="403.1,481.8 402.1,481.0 401.1,480.2 400.1,479.2 399.3,478.1 398.5,477.0 397.8,475.7 397.2,474.3 396.6,472.9 396.2,471.4 395.8,469.8 395.5,468.1 395.3,466.4 395.2,464.6 395.2,462.8 395.2,460.9 395.3,458.9 395.6,456.9 395.9,454.9 396.3,452.8 396.7,450.7 397.3,448.6 397.9,446.5 398.6,444.3 399.4,442.2 400.3,440.0 401.2,437.9 402.2,435.8 403.3,433.7 404.4,431.6 405.6,429.6 406.9,427.6 408.2,425.6 409.6,423.7 411.0,421.9 412.4,420.1 413.9,418.3 415.4,416.7 417.0,415.1 418.5,413.5 420.1,412.1 421.7,410.8 423.4,409.5 425.0,408.3 426.7,407.3 428.3,406.3 429.9,405.4 431.6,404.6 433.2,404.0 434.8,403.4 436.3,403.0 437.9,402.6 439.4,402.4 440.9,402.3 442.3,402.3 443.7,402.4 445.1,402.6 446.4,403.0 447.6,403.4 448.8,403.9 449.9,404.6 491.0,419.9 492.2,420.8 493.4,421.9 494.5,423.0 495.6,424.3 496.5,425.7 497.3,427.2 498.1,428.8 498.7,430.5 499.3,432.4 499.7,434.3 500.1,436.3 500.3,438.4 500.5,440.5 500.5,442.7 500.5,445.0 500.3,447.4 500.0,449.8 499.7,452.2 499.2,454.7 498.6,457.2 498.0,459.8 497.2,462.3 496.3,464.9 495.4,467.5 494.3,470.1 493.2,472.6 492.0,475.2 490.7,477.7 489.4,480.2 487.9,482.6 486.4,485.0 484.9,487.4 483.2,489.7 481.5,491.9 479.8,494.0 478.0,496.1 476.2,498.1 474.3,500.1 472.4,501.9 470.5,503.6 468.6,505.2 466.6,506.7 464.6,508.1 462.7,509.4 460.7,510.6 458.7,511.6 456.8,512.6 454.9,513.4 452.9,514.0 451.0,514.6 449.2,515.0 447.4,515.3 445.6,515.4 443.9,515.4 442.2,515.3 440.6,515.0 439.0,514.6 437.5,514.1 436.1,513.4 434.7,512.6" fill="#fff" stroke="#000" stroke-width="1.0"/>
<path d="M415.8,494.0 L414.4,493.0 L413.2,491.9 L412.0,490.6 L411.0,489.1 L410.1,487.5 L409.3,485.7 L408.6,483.8 L408.1,481.8 L407.7,479.7 L407.4,477.5 L407.2,475.1 L407.2,472.7 L407.4,470.2 L407.6,467.6 L408.0,465.0 L408.5,462.3 L409.2,459.6 L409.9,456.9 L410.8,454.1 L411.8,451.3 L413.0,448.5 L414.2,445.8 L415.5,443.1 L417.0,440.4 L418.5,437.7 L420.2,435.1 L421.9,432.6 L423.7,430.2 L425.5,427.8 L427.4,425.6 L429.4,423.4 L431.4,421.4 L433.5,419.5 L435.6,417.7 L437.7,416.1 L439.8,414.6 L441.9,413.2 L444.0,412.0 L446.1,411.0 L448.2,410.1 L450.3,409.4 L452.3,408.9 L454.3,408.5 L456.2,408.3 L458.1,408.3 L459.9,408.4 L461.6,408.8 L463.3,409.3 L464.8,410.0 L466.3,410.8" fill="none" stroke="#000" stroke-width="0.8"/>
<path d="M417.4,495.6 L416.0,494.6 L414.7,493.4 L413.6,492.1 L412.5,490.6 L411.6,488.9 L410.8,487.2 L410.1,485.3 L409.6,483.2 L409.2,481.1 L408.9,478.8 L408.8,476.5 L408.7,474.1 L408.9,471.5 L409.1,468.9 L409.5,466.3 L410.0,463.6 L410.7,460.8 L411.5,458.0 L412.4,455.3 L413.4,452.5 L414.5,449.7 L415.8,446.9 L417.1,444.1 L418.6,441.4 L420.1,438.7 L421.8,436.1 L423.5,433.6 L425.3,431.1 L427.2,428.8 L429.1,426.5 L431.1,424.3 L433.1,422.3 L435.2,420.3 L437.3,418.5 L439.5,416.9 L441.6,415.4 L443.7,414.0 L445.9,412.8 L448.0,411.8 L450.1,410.9 L452.2,410.2 L454.2,409.6 L456.2,409.2 L458.2,409.1 L460.1,409.0 L461.9,409.2 L463.6,409.5 L465.3,410.0 L466.9,410.7 L468.3,411.6" fill="none" stroke="#000" stroke-width="0.8"/>
<path d="M430.0,508.0 L428.5,506.9 L427.2,505.6 L425.9,504.2 L424.8,502.6 L423.8,500.8 L423.0,498.9 L422.2,496.9 L421.6,494.7 L421.2,492.4 L420.9,490.0 L420.7,487.4 L420.7,484.8 L420.9,482.1 L421.1,479.3 L421.5,476.4 L422.1,473.5 L422.8,470.6 L423.6,467.6 L424.6,464.6 L425.7,461.6 L426.9,458.6 L428.3,455.6 L429.7,452.6 L431.3,449.7 L433.0,446.9 L434.7,444.1 L436.6,441.3 L438.5,438.7 L440.5,436.1 L442.6,433.7 L444.8,431.4 L447.0,429.1 L449.2,427.1 L451.4,425.1 L453.7,423.4 L456.0,421.7 L458.3,420.3 L460.6,419.0 L462.9,417.8 L465.2,416.9 L467.4,416.1 L469.6,415.5 L471.8,415.1 L473.9,414.9 L475.9,414.9 L477.8,415.1 L479.7,415.4 L481.5,416.0 L483.2,416.7 L484.8,417.6" fill="none" stroke="#000" stroke-width="0.8"/>
<ellipse cx="462.9" cy="466.2" rx="57.1" ry="31.5" transform="rotate(-59.60 462.9 466.2)" fill="#fff" stroke="#000" stroke-width="3.2"/>
<ellipse cx="462.9" cy="466.2" rx="53.9" ry="29.8" transform="rotate(-59.60 462.9 466.2)" fill="none" stroke="#000" stroke-width="0.9"/>
<g fill="#fff" stroke="#000" stroke-width="1.4" stroke-linejoin="round">
<polygon points="489.9,444.4 492.1,443.6 494.0,442.5 495.7,441.0 496.9,439.1 497.5,437.1 497.4,435.1 496.7,433.5 495.3,432.3 493.5,431.7 491.4,431.8 489.2,432.5 487.0,433.6 482.3,438.3 469.9,448.7 484.2,444.3"/>
<polygon points="489.3,442.6 490.8,442.0 492.2,441.2 493.4,440.1 494.2,438.8 494.6,437.4 494.6,436.2 494.1,435.1 493.2,434.4 491.9,434.0 490.4,434.0 488.8,434.5 487.2,435.2 482.2,439.3 474.4,446.0 483.5,443.4" fill="none" stroke-width="0.9"/>
<polyline points="492.9,423.6 480.2,435.4 495.4,427.0" fill="none" stroke-width="0.8"/>
<polyline points="468.0,446.2 480.2,435.4" fill="none" stroke-width="0.7"/>
<polygon points="485.5,466.7 487.2,467.4 489.1,467.6 491.0,467.0 492.7,465.8 494.2,463.9 495.2,461.6 495.7,459.1 495.5,456.7 494.7,454.7 493.3,453.2 491.6,452.2 489.6,451.9 484.0,453.9 470.3,456.9 481.8,462.3"/>
<polygon points="486.0,464.3 487.3,464.7 488.7,464.7 490.0,464.3 491.2,463.5 492.2,462.2 492.9,460.7 493.1,459.1 493.0,457.5 492.4,456.1 491.5,455.1 490.2,454.4 488.8,454.0 483.3,455.1 474.6,457.0 481.8,460.9" fill="none" stroke-width="0.9"/>
<polyline points="499.1,444.4 484.4,448.9 498.6,450.6" fill="none" stroke-width="0.8"/>
<polyline points="470.7,452.4 484.4,448.9" fill="none" stroke-width="0.7"/>
<polygon points="471.8,488.1 472.7,490.2 473.8,491.7 475.3,492.5 477.0,492.4 478.8,491.4 480.6,489.7 482.0,487.3 483.0,484.6 483.5,481.7 483.3,479.1 482.6,476.8 481.4,475.0 476.8,473.1 466.3,466.4 471.4,480.8"/>
<polygon points="473.2,485.8 473.9,487.3 474.8,488.3 475.9,488.8 477.1,488.8 478.3,488.2 479.4,487.0 480.4,485.4 481.0,483.6 481.3,481.6 481.1,479.8 480.7,478.1 479.9,476.7 475.7,474.0 469.1,469.7 472.0,479.2" fill="none" stroke-width="0.9"/>
<polyline points="491.4,473.5 479.6,467.8 488.0,480.0" fill="none" stroke-width="0.8"/>
<polyline points="468.8,461.7 479.6,467.8" fill="none" stroke-width="0.7"/>
<polygon points="454.2,500.4 453.9,503.1 454.0,505.6 454.6,507.5 455.7,508.8 457.2,509.1 459.0,508.6 460.9,507.2 462.7,505.1 464.1,502.5 465.1,499.6 465.6,496.7 465.6,493.9 463.4,488.5 459.4,473.8 456.8,492.4"/>
<polygon points="456.0,499.1 455.8,501.1 456.0,502.9 456.4,504.2 457.2,505.1 458.2,505.3 459.4,505.0 460.6,504.1 461.8,502.6 462.7,500.8 463.4,498.7 463.8,496.6 463.9,494.6 462.4,488.7 459.8,479.3 457.8,491.4" fill="none" stroke-width="0.9"/>
<polyline points="472.8,499.7 467.5,485.0 467.8,504.1" fill="none" stroke-width="0.8"/>
<polyline points="463.0,470.6 467.5,485.0" fill="none" stroke-width="0.7"/>
<polygon points="439.4,498.8 438.1,501.4 437.2,504.0 436.8,506.5 437.0,508.7 437.6,510.3 438.8,511.2 440.4,511.3 442.2,510.6 444.0,509.1 445.7,506.9 447.1,504.3 448.2,501.5 449.0,494.2 452.3,476.0 443.8,493.0"/>
<polygon points="440.8,499.1 439.9,501.0 439.3,502.9 439.1,504.6 439.2,506.1 439.6,507.2 440.4,507.8 441.4,507.9 442.6,507.3 443.9,506.2 445.1,504.7 446.1,502.9 446.9,500.9 448.3,493.6 450.4,482.0 444.7,492.7" fill="none" stroke-width="0.9"/>
<polyline points="450.2,513.0 452.8,493.8 445.6,513.6" fill="none" stroke-width="0.8"/>
<polyline points="455.7,475.6 452.8,493.8" fill="none" stroke-width="0.7"/>
<polygon points="432.9,484.1 431.4,485.6 429.9,487.5 428.7,489.7 427.9,492.1 427.5,494.4 427.7,496.5 428.3,498.0 429.4,498.9 430.9,499.0 432.5,498.3 434.2,496.8 435.9,494.9 439.0,488.1 447.7,472.4 437.1,482.1"/>
<polygon points="433.4,485.7 432.3,486.9 431.3,488.3 430.4,489.9 429.9,491.5 429.6,493.0 429.7,494.4 430.2,495.4 430.9,495.9 431.9,495.9 433.1,495.4 434.3,494.4 435.5,493.1 439.0,486.9 444.5,476.9 437.7,482.8" fill="none" stroke-width="0.9"/>
<polyline points="432.4,508.4 441.1,491.0 429.9,504.9" fill="none" stroke-width="0.8"/>
<polyline points="449.5,474.9 441.1,491.0" fill="none" stroke-width="0.7"/>
<polygon points="437.4,461.8 436.2,461.8 434.8,462.5 433.4,463.7 432.0,465.4 430.8,467.6 429.9,470.0 429.3,472.4 429.3,474.5 429.7,476.0 430.6,476.9 431.8,477.0 433.3,476.5 437.3,472.5 447.3,464.3 439.5,464.0"/>
<polygon points="436.7,464.0 435.8,464.2 434.8,464.7 433.8,465.6 432.9,466.8 432.1,468.3 431.5,469.9 431.1,471.4 431.1,472.8 431.4,473.8 432.1,474.4 432.9,474.5 433.9,474.3 437.9,471.1 444.2,465.9 439.4,465.3" fill="none" stroke-width="0.9"/>
<polyline points="426.2,487.5 436.9,477.5 426.7,481.4" fill="none" stroke-width="0.8"/>
<polyline points="446.9,468.7 436.9,477.5" fill="none" stroke-width="0.7"/>
<polygon points="451.0,440.4 450.7,439.1 450.1,438.4 449.1,438.2 447.7,438.8 446.2,440.1 444.5,441.9 443.0,444.2 441.8,446.6 441.0,449.0 440.6,451.0 440.8,452.5 441.4,453.5 444.6,453.3 451.3,454.7 450.0,445.6"/>
<polygon points="449.5,442.5 449.2,441.6 448.7,441.1 448.0,441.1 447.0,441.5 446.0,442.3 444.9,443.6 443.9,445.1 443.1,446.7 442.6,448.3 442.4,449.7 442.5,450.8 442.8,451.6 445.5,452.2 449.8,453.1 449.2,447.0" fill="none" stroke-width="0.9"/>
<polyline points="433.9,458.5 441.8,458.6 437.3,452.0" fill="none" stroke-width="0.8"/>
<polyline points="448.8,459.4 441.8,458.6" fill="none" stroke-width="0.7"/>
<polygon points="468.6,428.1 469.5,426.1 469.9,424.4 469.8,423.2 469.1,422.4 467.8,422.4 466.1,423.0 464.1,424.3 462.1,426.1 460.3,428.2 458.8,430.5 457.8,432.6 457.2,434.6 457.9,437.9 458.2,447.4 464.5,433.9"/>
<polygon points="466.7,429.2 467.3,427.8 467.5,426.6 467.4,425.7 466.9,425.2 466.1,425.2 464.9,425.6 463.7,426.4 462.3,427.7 461.1,429.1 460.1,430.7 459.3,432.2 458.8,433.7 458.8,437.5 459.0,443.6 463.4,434.8" fill="none" stroke-width="0.9"/>
<polyline points="452.6,432.3 453.8,441.4 457.6,427.9" fill="none" stroke-width="0.8"/>
<polyline points="454.5,450.5 453.8,441.4" fill="none" stroke-width="0.7"/>
<polygon points="483.5,429.6 485.3,427.9 486.7,426.0 487.6,424.2 487.8,422.6 487.4,421.2 486.3,420.4 484.6,420.2 482.6,420.6 480.4,421.6 478.2,423.1 476.3,425.0 474.6,427.0 472.4,432.1 465.3,445.1 477.6,433.4"/>
<polygon points="481.9,429.2 483.2,427.9 484.2,426.6 484.8,425.3 484.9,424.2 484.7,423.3 483.9,422.8 482.8,422.6 481.5,422.9 480.0,423.7 478.4,424.7 477.0,426.0 475.8,427.4 472.9,432.6 468.4,440.8 476.5,433.5" fill="none" stroke-width="0.9"/>
<polyline points="475.1,419.0 468.5,432.6 479.8,418.4" fill="none" stroke-width="0.8"/>
<polyline points="461.9,445.5 468.5,432.6" fill="none" stroke-width="0.7"/>
</g>
<ellipse cx="457.9" cy="459.2" rx="14.8" ry="8.2" transform="rotate(-59.60 457.9 459.2)" fill="#fff" stroke="#000" stroke-width="1.0"/>
<ellipse cx="457.9" cy="459.2" rx="9.7" ry="5.4" transform="rotate(-59.60 457.9 459.2)" fill="#fff" stroke="#000" stroke-width="2.2"/>
<ellipse cx="457.9" cy="459.2" rx="6.8" ry="3.8" transform="rotate(-59.60 457.9 459.2)" fill="#fff" stroke="#000" stroke-width="0.8"/>
<polygon points="558.1,388.4 556.8,387.5 555.6,386.5 554.5,385.3 553.4,384.0 552.5,382.7 551.6,381.2 550.8,379.6 550.1,377.9 549.5,376.2 548.9,374.3 548.5,372.4 548.2,370.4 548.0,368.3 547.8,366.1 547.8,363.9 547.8,361.6 548.0,359.3 548.2,357.0 548.6,354.6 549.0,352.2 549.6,349.7 550.2,347.3 550.9,344.8 551.7,342.3 552.6,339.9 553.6,337.4 554.7,335.0 555.8,332.6 557.1,330.2 558.3,327.9 559.7,325.6 561.1,323.4 562.6,321.2 564.2,319.1 565.7,317.0 567.4,315.1 569.1,313.2 570.8,311.4 572.6,309.7 574.4,308.0 576.2,306.5 578.0,305.1 579.9,303.8 581.7,302.6 583.6,301.5 585.4,300.5 587.3,299.7 589.1,299.0 591.0,298.4 592.8,297.9 594.6,297.5 596.3,297.3 598.0,297.2 599.7,297.3 601.4,297.4 602.9,297.7 604.5,298.1 605.9,298.7 607.3,299.4 608.7,300.2 629.2,311.0 630.6,312.0 631.8,313.1 633.0,314.2 634.1,315.6 635.1,317.0 636.0,318.5 636.8,320.2 637.5,321.9 638.2,323.7 638.7,325.7 639.2,327.7 639.5,329.8 639.7,331.9 639.9,334.2 639.9,336.5 639.9,338.8 639.7,341.2 639.4,343.7 639.1,346.1 638.6,348.6 638.1,351.2 637.4,353.7 636.7,356.3 635.8,358.8 634.9,361.4 633.9,363.9 632.8,366.4 631.6,368.9 630.3,371.4 629.0,373.8 627.6,376.2 626.1,378.5 624.5,380.8 622.9,383.0 621.3,385.1 619.6,387.1 617.8,389.1 616.0,391.0 614.2,392.7 612.3,394.4 610.5,396.0 608.6,397.5 606.6,398.8 604.7,400.1 602.8,401.2 600.8,402.2 598.9,403.1 597.0,403.9 595.1,404.5 593.2,405.0 591.4,405.3 589.6,405.6 587.8,405.7 586.0,405.6 584.3,405.4 582.7,405.1 581.1,404.7 579.6,404.1 578.1,403.4 576.7,402.6" fill="#fff" stroke="#000" stroke-width="1.3"/>
<path d="M560.7,390.4 L559.2,389.3 L557.8,388.0 L556.5,386.6 L555.3,384.9 L554.2,383.2 L553.3,381.3 L552.4,379.2 L551.8,377.0 L551.2,374.7 L550.8,372.3 L550.5,369.8 L550.4,367.1 L550.4,364.4 L550.6,361.7 L550.9,358.8 L551.3,355.9 L551.9,353.0 L552.6,350.1 L553.4,347.1 L554.4,344.1 L555.5,341.2 L556.7,338.2 L558.0,335.3 L559.5,332.4 L561.0,329.6 L562.7,326.9 L564.4,324.2 L566.2,321.6 L568.1,319.1 L570.1,316.7 L572.1,314.4 L574.2,312.3 L576.4,310.3 L578.6,308.4 L580.8,306.7 L583.0,305.1 L585.3,303.7 L587.5,302.5 L589.7,301.4 L592.0,300.5 L594.2,299.8 L596.4,299.3 L598.5,298.9 L600.6,298.8 L602.6,298.8 L604.6,299.0 L606.5,299.4 L608.3,300.0 L610.0,300.8 L611.6,301.7" fill="none" stroke="#000" stroke-width="0.8"/>
<path d="M563.4,392.5 L561.9,391.3 L560.4,390.0 L559.1,388.6 L557.9,386.9 L556.8,385.2 L555.9,383.2 L555.1,381.2 L554.4,379.0 L553.8,376.6 L553.4,374.2 L553.1,371.7 L553.0,369.0 L553.0,366.3 L553.2,363.5 L553.5,360.7 L553.9,357.8 L554.5,354.8 L555.2,351.9 L556.0,348.9 L557.0,345.9 L558.1,342.9 L559.3,340.0 L560.7,337.0 L562.1,334.1 L563.7,331.3 L565.3,328.5 L567.1,325.8 L568.9,323.2 L570.8,320.7 L572.8,318.3 L574.9,316.1 L577.0,313.9 L579.1,311.9 L581.3,310.0 L583.5,308.3 L585.8,306.7 L588.0,305.3 L590.3,304.0 L592.6,302.9 L594.8,302.1 L597.0,301.3 L599.2,300.8 L601.4,300.5 L603.5,300.3 L605.5,300.3 L607.5,300.6 L609.4,301.0 L611.2,301.5 L612.9,302.3 L614.6,303.3" fill="none" stroke="#000" stroke-width="0.8"/>
<path d="M566.1,394.5 L564.5,393.4 L563.1,392.1 L561.7,390.6 L560.5,388.9 L559.5,387.2 L558.5,385.2 L557.7,383.1 L557.0,380.9 L556.4,378.6 L556.0,376.1 L555.7,373.6 L555.6,370.9 L555.6,368.2 L555.8,365.4 L556.1,362.5 L556.5,359.6 L557.1,356.7 L557.8,353.7 L558.7,350.7 L559.6,347.7 L560.7,344.7 L562.0,341.7 L563.3,338.8 L564.8,335.9 L566.3,333.0 L568.0,330.2 L569.8,327.5 L571.6,324.9 L573.5,322.4 L575.5,320.0 L577.6,317.7 L579.7,315.5 L581.9,313.5 L584.1,311.6 L586.3,309.8 L588.6,308.3 L590.8,306.8 L593.1,305.6 L595.4,304.5 L597.6,303.6 L599.9,302.9 L602.1,302.3 L604.2,302.0 L606.3,301.8 L608.4,301.9 L610.4,302.1 L612.3,302.5 L614.1,303.1 L615.9,303.9 L617.5,304.8" fill="none" stroke="#000" stroke-width="0.8"/>
<path d="M568.7,396.5 L567.2,395.4 L565.7,394.1 L564.4,392.6 L563.2,390.9 L562.1,389.1 L561.1,387.2 L560.3,385.1 L559.6,382.9 L559.0,380.5 L558.6,378.1 L558.3,375.5 L558.2,372.8 L558.2,370.1 L558.4,367.3 L558.7,364.4 L559.1,361.5 L559.7,358.5 L560.4,355.5 L561.3,352.5 L562.3,349.5 L563.4,346.4 L564.6,343.5 L566.0,340.5 L567.4,337.6 L569.0,334.7 L570.7,331.9 L572.4,329.2 L574.3,326.6 L576.2,324.0 L578.2,321.6 L580.3,319.3 L582.4,317.1 L584.6,315.1 L586.8,313.2 L589.1,311.4 L591.4,309.8 L593.6,308.4 L595.9,307.1 L598.2,306.0 L600.5,305.1 L602.7,304.4 L604.9,303.9 L607.1,303.5 L609.2,303.4 L611.3,303.4 L613.3,303.6 L615.2,304.0 L617.0,304.6 L618.8,305.4 L620.4,306.4" fill="none" stroke="#000" stroke-width="0.8"/>
<path d="M571.4,398.5 L569.8,397.4 L568.4,396.1 L567.0,394.6 L565.8,392.9 L564.7,391.1 L563.7,389.2 L562.9,387.1 L562.2,384.8 L561.7,382.5 L561.2,380.0 L561.0,377.4 L560.8,374.8 L560.8,372.0 L561.0,369.2 L561.3,366.3 L561.7,363.3 L562.3,360.3 L563.0,357.3 L563.9,354.3 L564.9,351.2 L566.0,348.2 L567.2,345.2 L568.6,342.2 L570.1,339.3 L571.7,336.4 L573.3,333.6 L575.1,330.9 L577.0,328.2 L578.9,325.7 L581.0,323.2 L583.0,320.9 L585.2,318.7 L587.4,316.7 L589.6,314.8 L591.9,313.0 L594.1,311.4 L596.4,310.0 L598.7,308.7 L601.0,307.6 L603.3,306.7 L605.5,306.0 L607.8,305.4 L610.0,305.1 L612.1,304.9 L614.2,304.9 L616.2,305.2 L618.1,305.6 L619.9,306.2 L621.7,307.0 L623.4,307.9" fill="none" stroke="#000" stroke-width="0.8"/>
<path d="M574.0,400.6 L572.5,399.4 L571.0,398.1 L569.7,396.6 L568.4,394.9 L567.3,393.1 L566.4,391.2 L565.5,389.0 L564.8,386.8 L564.3,384.4 L563.8,381.9 L563.6,379.3 L563.4,376.7 L563.4,373.9 L563.6,371.0 L563.9,368.1 L564.3,365.2 L564.9,362.1 L565.7,359.1 L566.5,356.1 L567.5,353.0 L568.6,350.0 L569.9,346.9 L571.3,344.0 L572.7,341.0 L574.3,338.1 L576.0,335.3 L577.8,332.5 L579.7,329.9 L581.6,327.3 L583.7,324.9 L585.8,322.5 L587.9,320.3 L590.1,318.3 L592.4,316.3 L594.6,314.6 L596.9,313.0 L599.2,311.5 L601.5,310.2 L603.8,309.1 L606.1,308.2 L608.4,307.5 L610.6,307.0 L612.8,306.6 L615.0,306.4 L617.0,306.5 L619.1,306.7 L621.0,307.1 L622.9,307.7 L624.6,308.5 L626.3,309.5" fill="none" stroke="#000" stroke-width="0.8"/>
<ellipse cx="603.0" cy="356.8" rx="52.8" ry="31.0" transform="rotate(-61.92 603.0 356.8)" fill="#fff" stroke="#000" stroke-width="1.0"/>
<ellipse cx="603.0" cy="356.8" rx="49.1" ry="28.8" transform="rotate(-61.92 603.0 356.8)" fill="none" stroke="#000" stroke-width="0.8"/>
<ellipse cx="603.0" cy="356.8" rx="46.5" ry="27.3" transform="rotate(-61.92 603.0 356.8)" fill="none" stroke="#000" stroke-width="0.8"/>
<polygon points="582.0,393.4 580.9,392.7 579.9,391.8 579.0,390.9 578.1,389.8 577.3,388.7 576.6,387.4 575.9,386.1 575.3,384.7 574.8,383.3 574.4,381.7 574.0,380.1 573.8,378.5 573.6,376.7 573.4,374.9 573.4,373.1 573.5,371.2 573.6,369.3 573.8,367.3 574.1,365.4 574.5,363.4 574.9,361.3 575.4,359.3 576.0,357.2 576.7,355.2 577.5,353.2 578.3,351.1 579.2,349.1 580.1,347.1 581.1,345.1 582.2,343.2 583.3,341.3 584.5,339.5 585.7,337.6 587.0,335.9 588.3,334.2 589.7,332.6 591.1,331.0 592.5,329.5 594.0,328.1 595.5,326.7 597.0,325.5 598.5,324.3 600.0,323.2 601.6,322.2 603.1,321.3 604.7,320.5 606.2,319.8 607.8,319.2 609.3,318.7 610.8,318.3 612.3,318.0 613.7,317.8 615.1,317.7 616.5,317.8 617.9,317.9 619.2,318.2 620.5,318.5 621.7,319.0 622.9,319.5 624.0,320.2 661.7,330.7 663.0,331.6 664.3,332.7 665.5,334.0 666.6,335.3 667.6,336.7 668.5,338.3 669.4,340.0 670.1,341.7 670.8,343.6 671.3,345.6 671.8,347.6 672.1,349.7 672.3,351.9 672.5,354.2 672.5,356.5 672.5,358.9 672.3,361.4 672.0,363.9 671.7,366.4 671.2,368.9 670.6,371.5 670.0,374.1 669.2,376.7 668.3,379.3 667.4,381.9 666.4,384.5 665.2,387.0 664.0,389.6 662.7,392.1 661.4,394.5 659.9,397.0 658.4,399.3 656.9,401.6 655.2,403.8 653.6,406.0 651.8,408.1 650.1,410.1 648.2,412.0 646.4,413.8 644.5,415.5 642.6,417.1 640.6,418.6 638.7,420.0 636.7,421.3 634.7,422.4 632.8,423.4 630.8,424.3 628.9,425.1 626.9,425.7 625.0,426.2 623.1,426.6 621.3,426.8 619.5,426.9 617.7,426.9 616.0,426.7 614.3,426.4 612.7,426.0 611.1,425.4 609.7,424.7 608.2,423.8" fill="#fff" stroke="#000" stroke-width="1.0"/>
<path d="M604.3,419.2 L602.8,418.1 L601.3,416.8 L600.0,415.3 L598.8,413.6 L597.7,411.8 L596.7,409.9 L595.9,407.8 L595.2,405.6 L594.7,403.2 L594.2,400.8 L594.0,398.2 L593.8,395.6 L593.8,392.8 L594.0,390.0 L594.3,387.1 L594.7,384.2 L595.3,381.2 L596.0,378.2 L596.9,375.2 L597.9,372.2 L599.0,369.2 L600.2,366.2 L601.6,363.2 L603.0,360.3 L604.6,357.5 L606.3,354.7 L608.0,352.0 L609.9,349.3 L611.8,346.8 L613.8,344.4 L615.9,342.1 L618.0,339.9 L620.2,337.8 L622.4,335.9 L624.7,334.2 L626.9,332.6 L629.2,331.2 L631.5,329.9 L633.8,328.8 L636.0,327.9 L638.3,327.2 L640.5,326.7 L642.6,326.3 L644.8,326.2 L646.8,326.2 L648.8,326.4 L650.7,326.8 L652.6,327.4 L654.3,328.2 L656.0,329.2" fill="none" stroke="#000" stroke-width="0.8"/>
<clipPath id="of1"><ellipse cx="635.0" cy="377.2" rx="53.2" ry="31.2" transform="rotate(-61.92 635.0 377.2)" /></clipPath>
<ellipse cx="635.0" cy="377.2" rx="56.0" ry="32.8" transform="rotate(-61.92 635.0 377.2)" fill="#fff" stroke="none"/>
<g clip-path="url(#of1)"><ellipse cx="609.2" cy="360.8" rx="49.7" ry="29.1" transform="rotate(-61.92 609.2 360.8)" fill="none" stroke="#000" stroke-width="0.9"/><ellipse cx="607.6" cy="359.8" rx="48.5" ry="28.4" transform="rotate(-61.92 607.6 359.8)" fill="none" stroke="#000" stroke-width="0.8"/><ellipse cx="598.9" cy="354.2" rx="45.1" ry="26.4" transform="rotate(-61.92 598.9 354.2)" fill="none" stroke="#000" stroke-width="0.9"/><path d="M612.6,357.9 q6,-3 7.5,2.5 q-1,5.5 -7.5,4.5 z" fill="#bbb" stroke="#000" stroke-width="1"/><path d="M605.0,369.5 q6,-3 7.5,2.5 q-1,5.5 -7.5,4.5 z" fill="#bbb" stroke="#000" stroke-width="1"/><path d="M595.4,377.5 q6,-3 7.5,2.5 q-1,5.5 -7.5,4.5 z" fill="#bbb" stroke="#000" stroke-width="1"/><path d="M585.8,380.3 q6,-3 7.5,2.5 q-1,5.5 -7.5,4.5 z" fill="#bbb" stroke="#000" stroke-width="1"/><path d="M578.2,377.2 q6,-3 7.5,2.5 q-1,5.5 -7.5,4.5 z" fill="#bbb" stroke="#000" stroke-width="1"/><line x1="470.0" y1="279.8" x2="900.0" y2="534.0" stroke="#000" stroke-width="0.9" stroke-dasharray="10,4"/></g>
<ellipse cx="635.0" cy="377.2" rx="56.0" ry="32.8" transform="rotate(-61.92 635.0 377.2)" fill="none" stroke="#000" stroke-width="2.0"/>
<ellipse cx="635.0" cy="377.2" rx="54.4" ry="31.9" transform="rotate(-61.92 635.0 377.2)" fill="none" stroke="#000" stroke-width="1.5"/>
<ellipse cx="635.0" cy="377.2" rx="53.2" ry="31.2" transform="rotate(-61.92 635.0 377.2)" fill="none" stroke="#000" stroke-width="0.8"/>
<polygon points="187.3,610.8 186.0,610.0 184.8,609.1 183.7,608.1 182.7,607.0 181.7,605.7 180.9,604.3 180.1,602.9 179.4,601.3 178.8,599.6 178.3,597.9 177.8,596.1 177.5,594.1 177.3,592.2 177.1,590.1 177.1,588.0 177.1,585.8 177.3,583.5 177.5,581.3 177.9,578.9 178.3,576.6 178.8,574.2 179.4,571.8 180.1,569.4 180.9,567.0 181.8,564.5 182.7,562.1 183.8,559.7 184.9,557.3 186.1,554.9 187.3,552.6 188.6,550.3 190.0,548.1 191.5,545.9 193.0,543.7 194.5,541.7 196.1,539.7 197.8,537.7 199.5,535.9 201.2,534.1 202.9,532.4 204.7,530.8 206.5,529.3 208.3,528.0 210.1,526.7 211.9,525.5 213.8,524.5 215.6,523.5 217.4,522.7 219.2,522.0 221.0,521.4 222.7,520.9 224.4,520.6 226.1,520.4 227.7,520.3 229.3,520.4 230.9,520.6 232.4,520.9 233.8,521.3 235.2,521.8 236.5,522.5 251.1,528.4 252.4,529.2 253.6,530.2 254.7,531.3 255.8,532.4 256.8,533.8 257.7,535.2 258.5,536.7 259.2,538.3 259.9,540.0 260.4,541.8 260.8,543.8 261.2,545.7 261.4,547.8 261.6,550.0 261.6,552.2 261.6,554.4 261.4,556.7 261.2,559.1 260.8,561.5 260.4,564.0 259.8,566.4 259.2,568.9 258.5,571.4 257.6,574.0 256.7,576.5 255.8,579.0 254.7,581.5 253.5,584.0 252.3,586.4 251.0,588.8 249.6,591.2 248.2,593.6 246.7,595.8 245.1,598.1 243.5,600.2 241.8,602.3 240.1,604.3 238.4,606.2 236.6,608.1 234.8,609.8 232.9,611.5 231.1,613.0 229.2,614.4 227.3,615.8 225.4,617.0 223.5,618.1 221.7,619.1 219.8,619.9 217.9,620.6 216.1,621.2 214.3,621.7 212.5,622.1 210.7,622.3 209.0,622.3 207.4,622.3 205.8,622.1 204.2,621.8 202.7,621.4 201.3,620.8 199.9,620.1" fill="#fff" stroke="#000" stroke-width="1.3"/>
<path d="M189.8,612.7 L188.3,611.7 L186.9,610.6 L185.6,609.2 L184.4,607.8 L183.3,606.1 L182.4,604.4 L181.6,602.4 L180.9,600.4 L180.4,598.2 L180.0,595.9 L179.7,593.4 L179.6,590.9 L179.6,588.3 L179.7,585.6 L180.0,582.9 L180.4,580.1 L181.0,577.2 L181.6,574.3 L182.4,571.4 L183.4,568.5 L184.5,565.5 L185.6,562.6 L186.9,559.7 L188.3,556.8 L189.9,554.0 L191.5,551.3 L193.2,548.6 L194.9,545.9 L196.8,543.4 L198.7,541.0 L200.7,538.6 L202.8,536.4 L204.9,534.3 L207.0,532.4 L209.2,530.6 L211.4,528.9 L213.6,527.4 L215.8,526.1 L218.0,524.9 L220.1,523.9 L222.3,523.0 L224.4,522.4 L226.5,521.9 L228.6,521.6 L230.6,521.5 L232.5,521.6 L234.4,521.8 L236.1,522.3 L237.8,522.9 L239.4,523.7" fill="none" stroke="#000" stroke-width="0.8"/>
<path d="M192.3,614.5 L190.8,613.6 L189.4,612.4 L188.1,611.1 L186.9,609.6 L185.8,607.9 L184.9,606.1 L184.1,604.2 L183.4,602.1 L182.8,599.9 L182.4,597.6 L182.2,595.2 L182.0,592.6 L182.0,590.0 L182.2,587.3 L182.4,584.5 L182.9,581.7 L183.4,578.8 L184.1,575.9 L184.9,572.9 L185.9,570.0 L186.9,567.0 L188.1,564.1 L189.4,561.2 L190.9,558.3 L192.4,555.4 L194.0,552.6 L195.7,549.9 L197.5,547.3 L199.4,544.7 L201.3,542.3 L203.3,539.9 L205.4,537.7 L207.5,535.6 L209.7,533.6 L211.9,531.8 L214.1,530.1 L216.3,528.6 L218.5,527.3 L220.7,526.1 L222.9,525.0 L225.1,524.2 L227.2,523.5 L229.3,523.1 L231.4,522.8 L233.4,522.7 L235.4,522.7 L237.2,523.0 L239.0,523.4 L240.7,524.1 L242.4,524.9" fill="none" stroke="#000" stroke-width="0.8"/>
<path d="M194.8,616.4 L193.3,615.4 L191.9,614.2 L190.6,612.9 L189.4,611.4 L188.3,609.7 L187.4,607.9 L186.5,606.0 L185.9,603.9 L185.3,601.6 L184.9,599.3 L184.6,596.9 L184.5,594.3 L184.5,591.7 L184.6,588.9 L184.9,586.1 L185.3,583.3 L185.9,580.4 L186.6,577.4 L187.4,574.5 L188.4,571.5 L189.4,568.5 L190.6,565.6 L192.0,562.6 L193.4,559.7 L194.9,556.8 L196.5,554.0 L198.3,551.3 L200.1,548.6 L202.0,546.1 L203.9,543.6 L206.0,541.2 L208.0,539.0 L210.2,536.9 L212.3,534.9 L214.5,533.0 L216.7,531.3 L219.0,529.8 L221.2,528.5 L223.4,527.3 L225.7,526.2 L227.9,525.4 L230.0,524.7 L232.2,524.2 L234.2,523.9 L236.3,523.8 L238.2,523.9 L240.1,524.2 L241.9,524.6 L243.6,525.2 L245.3,526.1" fill="none" stroke="#000" stroke-width="0.8"/>
<path d="M197.4,618.2 L195.8,617.2 L194.4,616.1 L193.1,614.7 L191.9,613.2 L190.8,611.5 L189.8,609.7 L189.0,607.7 L188.3,605.6 L187.8,603.4 L187.3,601.0 L187.1,598.6 L186.9,596.0 L186.9,593.3 L187.1,590.6 L187.4,587.8 L187.8,584.9 L188.3,582.0 L189.0,579.0 L189.9,576.0 L190.8,573.0 L191.9,570.0 L193.1,567.0 L194.5,564.1 L195.9,561.1 L197.4,558.2 L199.1,555.4 L200.8,552.7 L202.7,550.0 L204.6,547.4 L206.5,544.9 L208.6,542.5 L210.7,540.3 L212.8,538.1 L215.0,536.1 L217.2,534.3 L219.4,532.6 L221.7,531.0 L223.9,529.6 L226.2,528.4 L228.4,527.4 L230.6,526.6 L232.8,525.9 L235.0,525.4 L237.1,525.1 L239.1,525.0 L241.1,525.1 L243.0,525.3 L244.8,525.8 L246.5,526.4 L248.2,527.2" fill="none" stroke="#000" stroke-width="0.8"/>
<ellipse cx="225.5" cy="574.2" rx="52.5" ry="29.4" transform="rotate(-61.12 225.5 574.2)" fill="#fff" stroke="#000" stroke-width="1.0"/>
<ellipse cx="225.5" cy="574.2" rx="48.8" ry="27.3" transform="rotate(-61.12 225.5 574.2)" fill="none" stroke="#000" stroke-width="0.8"/>
<ellipse cx="225.5" cy="574.2" rx="46.2" ry="25.9" transform="rotate(-61.12 225.5 574.2)" fill="none" stroke="#000" stroke-width="0.8"/>
<polygon points="205.0,610.9 204.0,610.3 203.0,609.5 202.1,608.6 201.2,607.7 200.4,606.6 199.7,605.5 199.1,604.3 198.5,603.0 198.0,601.6 197.6,600.2 197.2,598.6 196.9,597.0 196.7,595.4 196.6,593.7 196.6,591.9 196.6,590.1 196.8,588.2 197.0,586.4 197.2,584.4 197.6,582.5 198.0,580.5 198.5,578.5 199.1,576.5 199.8,574.5 200.5,572.5 201.3,570.5 202.1,568.5 203.1,566.5 204.0,564.5 205.1,562.6 206.2,560.7 207.3,558.8 208.5,557.0 209.8,555.2 211.1,553.5 212.4,551.8 213.8,550.2 215.2,548.7 216.6,547.2 218.0,545.8 219.5,544.5 221.0,543.2 222.5,542.1 224.0,541.0 225.5,540.1 227.0,539.2 228.5,538.4 230.0,537.7 231.5,537.1 233.0,536.7 234.5,536.3 235.9,536.0 237.3,535.8 238.6,535.8 240.0,535.8 241.3,536.0 242.5,536.2 243.7,536.6 244.9,537.0 245.9,537.6 283.8,544.2 285.2,545.0 286.5,546.0 287.7,547.1 288.8,548.4 289.8,549.7 290.8,551.2 291.6,552.8 292.4,554.5 293.0,556.3 293.6,558.1 294.0,560.1 294.4,562.2 294.6,564.4 294.8,566.6 294.8,568.9 294.8,571.2 294.6,573.7 294.4,576.1 294.0,578.6 293.5,581.2 293.0,583.8 292.3,586.4 291.6,589.0 290.7,591.6 289.8,594.2 288.7,596.8 287.6,599.4 286.4,602.0 285.1,604.6 283.8,607.1 282.3,609.6 280.8,612.0 279.3,614.4 277.7,616.7 276.0,618.9 274.2,621.1 272.5,623.2 270.6,625.2 268.8,627.1 266.9,628.9 265.0,630.7 263.0,632.3 261.1,633.8 259.1,635.1 257.1,636.4 255.2,637.6 253.2,638.6 251.3,639.5 249.3,640.2 247.4,640.9 245.5,641.3 243.7,641.7 241.8,641.9 240.1,642.0 238.3,642.0 236.7,641.8 235.0,641.4 233.5,641.0 232.0,640.4 230.6,639.6" fill="#fff" stroke="#000" stroke-width="1.0"/>
<path d="M226.8,635.3 L225.2,634.2 L223.8,633.1 L222.4,631.7 L221.2,630.2 L220.1,628.5 L219.1,626.6 L218.3,624.6 L217.6,622.5 L217.0,620.2 L216.6,617.9 L216.3,615.4 L216.2,612.8 L216.2,610.1 L216.3,607.3 L216.6,604.4 L217.1,601.5 L217.6,598.6 L218.3,595.6 L219.2,592.6 L220.2,589.5 L221.3,586.5 L222.5,583.5 L223.8,580.5 L225.3,577.5 L226.8,574.6 L228.5,571.7 L230.3,569.0 L232.1,566.2 L234.0,563.6 L236.0,561.1 L238.1,558.7 L240.2,556.4 L242.4,554.3 L244.6,552.2 L246.8,550.4 L249.1,548.6 L251.4,547.1 L253.6,545.7 L255.9,544.5 L258.2,543.4 L260.4,542.6 L262.6,541.9 L264.8,541.4 L266.9,541.1 L268.9,541.0 L270.9,541.0 L272.9,541.3 L274.7,541.8 L276.5,542.4 L278.1,543.2" fill="none" stroke="#000" stroke-width="0.8"/>
<clipPath id="of2"><ellipse cx="257.2" cy="591.9" rx="54.1" ry="30.3" transform="rotate(-61.12 257.2 591.9)" /></clipPath>
<ellipse cx="257.2" cy="591.9" rx="57.0" ry="31.9" transform="rotate(-61.12 257.2 591.9)" fill="#fff" stroke="none"/>
<g clip-path="url(#of2)"><ellipse cx="234.5" cy="579.3" rx="50.0" ry="28.0" transform="rotate(-61.12 234.5 579.3)" fill="none" stroke="#000" stroke-width="0.9"/><ellipse cx="233.2" cy="578.5" rx="48.8" ry="27.3" transform="rotate(-61.12 233.2 578.5)" fill="none" stroke="#000" stroke-width="0.8"/><ellipse cx="225.5" cy="574.2" rx="45.1" ry="25.3" transform="rotate(-61.12 225.5 574.2)" fill="none" stroke="#000" stroke-width="0.9"/><path d="M238.5,577.8 q6,-3 7.5,2.5 q-1,5.5 -7.5,4.5 z" fill="#bbb" stroke="#000" stroke-width="1"/><path d="M230.7,589.4 q6,-3 7.5,2.5 q-1,5.5 -7.5,4.5 z" fill="#bbb" stroke="#000" stroke-width="1"/><path d="M221.2,597.3 q6,-3 7.5,2.5 q-1,5.5 -7.5,4.5 z" fill="#bbb" stroke="#000" stroke-width="1"/><path d="M211.9,600.1 q6,-3 7.5,2.5 q-1,5.5 -7.5,4.5 z" fill="#bbb" stroke="#000" stroke-width="1"/><path d="M204.5,597.1 q6,-3 7.5,2.5 q-1,5.5 -7.5,4.5 z" fill="#bbb" stroke="#000" stroke-width="1"/><line x1="112.0" y1="506.0" x2="531.0" y2="754.5" stroke="#000" stroke-width="0.9" stroke-dasharray="10,4"/></g>
<ellipse cx="257.2" cy="591.9" rx="57.0" ry="31.9" transform="rotate(-61.12 257.2 591.9)" fill="none" stroke="#000" stroke-width="2.0"/>
<ellipse cx="257.2" cy="591.9" rx="55.4" ry="31.0" transform="rotate(-61.12 257.2 591.9)" fill="none" stroke="#000" stroke-width="1.5"/>
<ellipse cx="257.2" cy="591.9" rx="54.1" ry="30.3" transform="rotate(-61.12 257.2 591.9)" fill="none" stroke="#000" stroke-width="0.8"/>
<polygon points="558.8,94.0 558.1,93.5 557.6,92.9 557.3,92.2 557.0,91.3 556.9,90.4 556.9,89.4 557.1,88.3 557.4,87.2 557.8,86.1 558.3,85.1 559.0,84.1 559.7,83.2 560.5,82.4 561.3,81.7 562.2,81.2 563.1,80.8 564.0,80.6 564.8,80.6 565.6,80.7 566.2,81.0 578.5,87.9 579.1,88.4 579.6,89.0 579.9,89.7 580.2,90.6 580.3,91.5 580.3,92.5 580.1,93.6 579.8,94.7 579.4,95.8 578.9,96.8 578.2,97.8 577.5,98.7 576.7,99.5 575.9,100.2 575.0,100.7 574.1,101.1 573.2,101.3 572.4,101.3 571.6,101.2 571.0,100.9" fill="#fff" stroke="#000" stroke-width="1.1"/><ellipse cx="562.5" cy="87.5" rx="7.5" ry="4.8" transform="rotate(-60.00 562.5 87.5)" fill="#fff" stroke="#000" stroke-width="1.0"/><polygon points="578.5,97.0 590.1,79.9 590.8,78.2 590.8,76.4 590.1,74.8 588.9,73.5 587.2,72.8 585.4,72.8 583.8,73.5 582.5,74.7 570.9,91.8" fill="#fff" stroke="#000" stroke-width="1.2"/><circle cx="585.7" cy="78.1" r="1.3" fill="#fff" stroke="#000" stroke-width="0.9"/><polygon points="570.4,92.8 564.3,108.9 564.0,110.6 564.4,112.4 565.4,113.9 567.0,114.8 568.7,115.1 570.5,114.7 572.0,113.7 572.9,112.1 579.0,96.0" fill="#fff" stroke="#000" stroke-width="1.2"/><circle cx="569.0" cy="109.6" r="1.3" fill="#fff" stroke="#000" stroke-width="0.9"/><polygon points="576.5,90.2 562.3,84.3 560.5,83.9 558.7,84.2 557.3,85.2 556.3,86.7 555.9,88.5 556.2,90.3 557.2,91.7 558.7,92.7 572.9,98.6" fill="#fff" stroke="#000" stroke-width="1.2"/><circle cx="561.4" cy="88.9" r="1.3" fill="#fff" stroke="#000" stroke-width="0.9"/><polygon points="574.1,99.0 588.9,101.1 590.6,101.0 592.3,100.2 593.5,98.8 594.1,97.1 594.0,95.4 593.2,93.7 591.8,92.5 590.1,91.9 575.3,89.8" fill="#fff" stroke="#000" stroke-width="1.2"/><circle cx="588.5" cy="96.4" r="1.3" fill="#fff" stroke="#000" stroke-width="0.9"/><ellipse cx="574.7" cy="94.4" rx="7" ry="8.6" transform="rotate(-30 574.7 94.4)" fill="#fff" stroke="#000" stroke-width="1.1"/><ellipse cx="574.7" cy="94.4" rx="4.6" ry="5.8" transform="rotate(-30 574.7 94.4)" fill="#222" stroke="#000" stroke-width="1"/><ellipse cx="575.2" cy="94.4" rx="2.2" ry="3" transform="rotate(-30 574.7 94.4)" fill="#888" stroke="#000" stroke-width="0.6"/>
<polygon points="837.5,498.1 847.6,479.2 848.1,477.7 847.9,476.1 847.2,474.8 846.0,473.8 844.5,473.3 842.9,473.5 841.6,474.2 840.6,475.4 830.5,494.3" fill="#fff" stroke="#000" stroke-width="1.1"/><circle cx="843.6" cy="478.2" r="1.3" fill="#fff" stroke="#000" stroke-width="0.9"/><polygon points="830.8,493.9 820.1,508.7 819.4,510.1 819.4,511.6 819.9,513.1 821.0,514.2 822.4,514.9 823.9,514.9 825.4,514.4 826.5,513.3 837.2,498.5" fill="#fff" stroke="#000" stroke-width="1.1"/><circle cx="823.9" cy="510.2" r="1.3" fill="#fff" stroke="#000" stroke-width="0.9"/><polygon points="836.5,493.1 826.5,484.9 825.2,484.2 823.6,484.0 822.1,484.5 820.9,485.5 820.2,486.8 820.0,488.4 820.5,489.9 821.5,491.1 831.5,499.3" fill="#fff" stroke="#000" stroke-width="1.1"/><circle cx="824.8" cy="488.6" r="1.3" fill="#fff" stroke="#000" stroke-width="0.9"/><polygon points="832.0,499.7 844.0,506.5 845.5,507.0 847.1,506.9 848.5,506.2 849.5,505.0 850.0,503.5 849.9,501.9 849.2,500.5 848.0,499.5 836.0,492.7" fill="#fff" stroke="#000" stroke-width="1.1"/><circle cx="845.1" cy="502.5" r="1.3" fill="#fff" stroke="#000" stroke-width="0.9"/><circle cx="843.6" cy="478.2" r="2" fill="#222"/><circle cx="823.9" cy="510.2" r="2" fill="#222"/><circle cx="824.8" cy="488.6" r="2" fill="#222"/><ellipse cx="834.7" cy="496.9" rx="4.6" ry="7.4" transform="rotate(-30 834.7 496.9)" fill="#fff" stroke="#000" stroke-width="1.6"/><polygon points="834.0,502.6 833.6,502.3 833.2,501.9 832.9,501.4 832.7,500.8 832.6,500.2 832.6,499.5 832.7,498.7 832.9,498.0 833.2,497.2 833.6,496.5 834.0,495.8 834.5,495.2 835.0,494.6 835.6,494.1 836.2,493.7 836.8,493.4 837.4,493.3 838.0,493.2 838.5,493.3 839.0,493.4 850.6,499.2 851.0,499.5 851.4,499.9 851.7,500.4 851.9,501.0 852.0,501.6 852.0,502.3 851.9,503.1 851.7,503.8 851.4,504.6 851.0,505.3 850.6,506.0 850.1,506.6 849.6,507.2 849.0,507.7 848.4,508.1 847.8,508.4 847.2,508.5 846.6,508.6 846.1,508.5 845.6,508.4" fill="#fff" stroke="#000" stroke-width="1.2"/><ellipse cx="848.1" cy="503.8" rx="5.2" ry="3.3" transform="rotate(-60.00 848.1 503.8)" fill="#fff" stroke="#000" stroke-width="1.3"/>
<polygon points="222.0,303.7 207.5,295.7 206.4,295.3 205.1,295.4 204.0,296.0 203.2,297.0 202.8,298.1 202.9,299.4 203.5,300.5 204.5,301.3 219.0,309.3" fill="#fff" stroke="#000" stroke-width="1.1"/><ellipse cx="206.0" cy="298.5" rx="2.2" ry="3.2" transform="rotate(-60 206.0 298.5)" fill="#fff" stroke="#000" stroke-width="1"/><polygon points="208.8,326.9 195.8,317.9 194.7,317.4 193.4,317.4 192.3,317.8 191.4,318.7 190.9,319.8 190.9,321.1 191.3,322.2 192.2,323.1 205.2,332.1" fill="#fff" stroke="#000" stroke-width="1.1"/><ellipse cx="194.0" cy="320.5" rx="2.2" ry="3.2" transform="rotate(-60 194.0 320.5)" fill="#fff" stroke="#000" stroke-width="1"/><polygon points="226.8,304.6 227.7,304.4 229.0,303.9 230.4,303.3 231.7,303.2 232.4,303.8 232.6,305.1 232.2,306.8 231.7,308.5 231.3,309.9 231.4,311.0 231.6,311.8 231.7,312.8 231.8,313.7 231.9,314.7 231.8,315.7 231.8,316.7 231.7,317.8 231.5,318.8 231.3,319.9 231.0,320.9 231.1,322.1 231.5,323.3 232.0,324.7 232.0,326.2 231.5,327.5 230.5,328.5 229.1,329.2 227.7,329.6 226.6,330.0 225.8,330.8 225.0,331.6 224.3,332.4 223.5,333.1 222.7,333.8 221.9,334.4 221.1,335.0 220.2,335.5 219.4,335.9 218.5,336.3 217.7,336.7 216.8,337.5 215.8,338.9 214.6,340.3 213.4,341.3 212.4,341.5 211.6,340.9 211.1,339.6 210.8,338.1 210.4,337.0 209.8,336.4 209.2,336.0 208.6,335.6 208.0,335.1 207.5,334.5 207.0,333.9 206.5,333.2 206.1,332.5 205.8,331.7 205.5,330.9 205.2,330.1 204.6,329.5 203.5,329.0 202.4,328.5 201.6,327.7 201.4,326.5 201.9,325.1 203.0,323.6 204.2,322.3 205.1,321.1 205.6,320.1 205.9,319.0 206.3,317.9 206.7,316.9 207.2,315.9 207.7,314.9 208.3,313.9 208.8,312.9 209.5,312.0 210.1,311.1 210.8,310.2 211.3,309.0 211.7,307.4 212.1,305.6 212.8,304.1 213.8,303.1 214.9,302.9 216.1,303.3 217.1,304.0 218.1,304.4 218.9,304.3 219.8,304.1 220.6,303.9 221.4,303.7 222.3,303.6 223.1,303.6 223.9,303.7 224.6,303.8 225.4,304.0 226.1,304.3" fill="#fff" stroke="#000" stroke-width="1.2"/><circle cx="230.3" cy="306.0" r="1.4" fill="#fff" stroke="#000" stroke-width="0.9"/><circle cx="229.8" cy="326.3" r="1.4" fill="#fff" stroke="#000" stroke-width="0.9"/><circle cx="213.4" cy="338.6" r="1.4" fill="#fff" stroke="#000" stroke-width="0.9"/><circle cx="203.7" cy="325.9" r="1.4" fill="#fff" stroke="#000" stroke-width="0.9"/><circle cx="214.2" cy="305.7" r="1.4" fill="#fff" stroke="#000" stroke-width="0.9"/><ellipse cx="218.3" cy="320.5" rx="12.5" ry="8.8" transform="rotate(-62.00 218.3 320.5)" fill="#222" stroke="#000" stroke-width="1"/><ellipse cx="218.3" cy="320.5" rx="9.5" ry="6.6" transform="rotate(-62.00 218.3 320.5)" fill="#555" stroke="#000" stroke-width="0.8"/><ellipse cx="218.3" cy="320.5" rx="6.0" ry="4.2" transform="rotate(-62.00 218.3 320.5)" fill="#eee" stroke="#000" stroke-width="0.9"/><ellipse cx="218.3" cy="320.5" rx="3.8" ry="2.7" transform="rotate(-62.00 218.3 320.5)" fill="#111" stroke="#000" stroke-width="0.8"/>
<polygon points="453.6,689.3 454.2,689.7 454.7,690.1 455.3,690.5 456.0,690.8 457.1,690.6 458.2,690.5 459.3,690.6 459.9,691.3 459.9,692.5 459.5,694.0 458.9,695.5 458.3,696.8 458.2,697.9 458.2,698.8 458.2,699.8 458.1,700.7 458.0,701.7 457.8,702.7 457.6,703.7 457.3,704.7 457.0,705.8 456.6,706.8 456.2,707.8 456.0,708.8 456.0,710.1 456.1,711.5 455.9,713.0 455.4,714.2 454.4,715.0 453.3,715.5 452.1,715.7 451.0,715.9 450.2,716.4 449.4,717.0 448.7,717.6 447.9,718.2 447.1,718.7 446.3,719.1 445.5,719.5 444.7,719.9 443.9,720.1 443.1,720.3 442.3,720.5 441.5,720.9 440.5,721.8 439.3,722.9 438.2,723.6 437.2,723.7 436.6,723.1 436.3,721.8 436.2,720.4 436.1,719.2 435.7,718.5 435.2,717.9 434.8,717.4 434.4,716.7 434.0,716.0 433.7,715.3 433.4,714.6 433.2,713.7 433.0,712.9 432.9,712.0 432.8,711.1 432.5,710.3 431.8,709.6 431.1,708.8 430.5,707.8 430.5,706.7 431.1,705.4 432.0,704.2 433.2,703.2 434.2,702.2 434.8,701.2 435.2,700.3 435.7,699.3 436.3,698.4 436.8,697.4 437.4,696.5 438.0,695.7 438.7,694.9 439.4,694.1 440.1,693.3 440.8,692.6 441.5,691.7 442.1,690.3 442.8,688.8 443.6,687.5 444.5,686.6 445.5,686.5 446.4,687.0 447.2,687.7 447.9,688.4 448.7,688.5 449.4,688.5 450.2,688.4 450.9,688.5 451.6,688.6 452.3,688.8 453.0,689.0" fill="#555" stroke="#000" stroke-width="1.5"/><ellipse cx="445.5" cy="704.5" rx="15.0" ry="9.5" transform="rotate(-62.00 445.5 704.5)" fill="#222" stroke="#000" stroke-width="1.2"/><ellipse cx="446.0" cy="705.0" rx="11.0" ry="7.0" transform="rotate(-62.00 446.0 705.0)" fill="#666" stroke="#000" stroke-width="0.9"/><polygon points="441.8,683.4 449.5,688.0 450.6,688.4 451.7,688.3 452.7,687.8 453.5,687.0 453.9,685.9 453.8,684.8 453.3,683.8 452.5,683.0 444.7,678.4" fill="#fff" stroke="#000" stroke-width="1.2"/><polygon points="459.8,699.7 467.5,704.3 468.6,704.7 469.7,704.6 470.7,704.1 471.5,703.3 471.9,702.2 471.8,701.1 471.3,700.1 470.5,699.3 462.7,694.7" fill="#fff" stroke="#000" stroke-width="1.2"/><polygon points="444.8,722.5 452.5,727.1 453.6,727.5 454.7,727.4 455.7,726.9 456.5,726.1 456.9,725.0 456.8,723.9 456.3,722.9 455.5,722.1 447.7,717.5" fill="#fff" stroke="#000" stroke-width="1.2"/><polygon points="426.8,717.5 434.5,722.1 435.6,722.5 436.7,722.4 437.7,721.9 438.5,721.1 438.9,720.0 438.8,718.9 438.3,717.9 437.5,717.1 429.7,712.5" fill="#fff" stroke="#000" stroke-width="1.2"/><polygon points="446.7,713.4 446.1,713.0 445.6,712.4 445.2,711.7 445.0,710.9 444.9,710.0 444.8,709.1 445.0,708.1 445.2,707.1 445.6,706.1 446.1,705.1 446.6,704.2 447.3,703.4 448.0,702.7 448.8,702.1 449.6,701.6 450.4,701.3 451.2,701.1 451.9,701.1 452.7,701.3 453.3,701.6 461.8,706.6 462.4,707.0 462.9,707.6 463.3,708.3 463.5,709.1 463.6,710.0 463.7,710.9 463.5,711.9 463.3,712.9 462.9,713.9 462.4,714.9 461.9,715.8 461.2,716.6 460.5,717.3 459.7,717.9 458.9,718.4 458.1,718.7 457.3,718.9 456.6,718.9 455.8,718.7 455.2,718.4" fill="#fff" stroke="#000" stroke-width="1.3"/><ellipse cx="458.5" cy="712.5" rx="6.8" ry="4.6" transform="rotate(-62.00 458.5 712.5)" fill="#fff" stroke="#000" stroke-width="1.3"/><ellipse cx="458.5" cy="712.5" rx="3.7" ry="2.5" transform="rotate(-62.00 458.5 712.5)" fill="#fff" stroke="#000" stroke-width="1"/>
<ellipse cx="142.2" cy="275.2" rx="33.8" ry="18.0" transform="rotate(-61.30 142.2 275.2)" fill="#fff" stroke="#000" stroke-width="1.3"/><circle cx="156.4" cy="249.2" r="1.15" fill="#000"/><circle cx="159.8" cy="252.4" r="1.15" fill="#000"/><circle cx="161.7" cy="257.5" r="1.15" fill="#000"/><circle cx="162.0" cy="263.9" r="1.15" fill="#000"/><circle cx="160.7" cy="271.4" r="1.15" fill="#000"/><circle cx="158.0" cy="279.1" r="1.15" fill="#000"/><circle cx="153.9" cy="286.5" r="1.15" fill="#000"/><circle cx="148.9" cy="293.0" r="1.15" fill="#000"/><circle cx="143.3" cy="298.1" r="1.15" fill="#000"/><circle cx="137.7" cy="301.3" r="1.15" fill="#000"/><circle cx="132.4" cy="302.4" r="1.15" fill="#000"/><circle cx="127.9" cy="301.3" r="1.15" fill="#000"/><circle cx="124.5" cy="298.1" r="1.15" fill="#000"/><circle cx="122.6" cy="293.0" r="1.15" fill="#000"/><circle cx="122.3" cy="286.6" r="1.15" fill="#000"/><circle cx="123.6" cy="279.1" r="1.15" fill="#000"/><circle cx="126.3" cy="271.4" r="1.15" fill="#000"/><circle cx="130.4" cy="264.0" r="1.15" fill="#000"/><circle cx="135.4" cy="257.5" r="1.15" fill="#000"/><circle cx="141.0" cy="252.4" r="1.15" fill="#000"/><circle cx="146.6" cy="249.2" r="1.15" fill="#000"/><circle cx="151.9" cy="248.1" r="1.15" fill="#000"/><circle cx="158.3" cy="259.0" r="1.15" fill="#000"/><circle cx="158.8" cy="266.3" r="1.15" fill="#000"/><circle cx="156.8" cy="275.1" r="1.15" fill="#000"/><circle cx="146.8" cy="291.3" r="1.15" fill="#000"/><circle cx="140.3" cy="296.3" r="1.15" fill="#000"/><circle cx="134.0" cy="298.1" r="1.15" fill="#000"/><circle cx="126.0" cy="291.5" r="1.15" fill="#000"/><circle cx="125.5" cy="284.2" r="1.15" fill="#000"/><circle cx="127.5" cy="275.4" r="1.15" fill="#000"/><circle cx="137.5" cy="259.2" r="1.15" fill="#000"/><circle cx="144.0" cy="254.2" r="1.15" fill="#000"/><circle cx="150.3" cy="252.4" r="1.15" fill="#000"/><circle cx="155.3" cy="266.7" r="1.5" fill="#000"/><circle cx="142.0" cy="290.9" r="1.5" fill="#000"/><circle cx="129.0" cy="283.8" r="1.5" fill="#000"/><circle cx="142.3" cy="259.6" r="1.5" fill="#000"/><ellipse cx="152.9" cy="255.7" rx="4.6" ry="2.5" transform="rotate(28.7 152.9 255.7)" fill="#fff" stroke="#000" stroke-width="0.9"/><ellipse cx="131.4" cy="294.8" rx="4.6" ry="2.5" transform="rotate(28.7 131.4 294.8)" fill="#fff" stroke="#000" stroke-width="0.9"/><ellipse cx="152.3" cy="280.8" rx="7" ry="1.7" transform="rotate(-61.3 152.3 280.8)" fill="#fff" stroke="#000" stroke-width="0.9"/><ellipse cx="152.3" cy="280.8" rx="5" ry="0.6" transform="rotate(-61.3 152.3 280.8)" fill="none" stroke="#000" stroke-width="0.6"/><ellipse cx="132.0" cy="269.7" rx="7" ry="1.7" transform="rotate(-61.3 132.0 269.7)" fill="#fff" stroke="#000" stroke-width="0.9"/><ellipse cx="132.0" cy="269.7" rx="5" ry="0.6" transform="rotate(-61.3 132.0 269.7)" fill="none" stroke="#000" stroke-width="0.6"/><ellipse cx="142.7" cy="275.8" rx="15.9" ry="8.1" transform="rotate(-61.30 142.7 275.8)" fill="#fff" stroke="#000" stroke-width="1.2"/>
<ellipse cx="528.2" cy="752.5" rx="33.6" ry="18.1" transform="rotate(-61.00 528.2 752.5)" fill="#fff" stroke="#000" stroke-width="1.3"/><circle cx="542.5" cy="726.6" r="1.15" fill="#000"/><circle cx="545.9" cy="729.8" r="1.15" fill="#000"/><circle cx="547.8" cy="734.9" r="1.15" fill="#000"/><circle cx="548.1" cy="741.4" r="1.15" fill="#000"/><circle cx="546.8" cy="748.7" r="1.15" fill="#000"/><circle cx="544.0" cy="756.4" r="1.15" fill="#000"/><circle cx="539.9" cy="763.8" r="1.15" fill="#000"/><circle cx="534.9" cy="770.2" r="1.15" fill="#000"/><circle cx="529.3" cy="775.2" r="1.15" fill="#000"/><circle cx="523.7" cy="778.4" r="1.15" fill="#000"/><circle cx="518.4" cy="779.4" r="1.15" fill="#000"/><circle cx="513.9" cy="778.3" r="1.15" fill="#000"/><circle cx="510.5" cy="775.1" r="1.15" fill="#000"/><circle cx="508.6" cy="770.0" r="1.15" fill="#000"/><circle cx="508.3" cy="763.5" r="1.15" fill="#000"/><circle cx="509.6" cy="756.2" r="1.15" fill="#000"/><circle cx="512.4" cy="748.5" r="1.15" fill="#000"/><circle cx="516.5" cy="741.1" r="1.15" fill="#000"/><circle cx="521.5" cy="734.7" r="1.15" fill="#000"/><circle cx="527.1" cy="729.7" r="1.15" fill="#000"/><circle cx="532.7" cy="726.5" r="1.15" fill="#000"/><circle cx="538.0" cy="725.5" r="1.15" fill="#000"/><circle cx="544.4" cy="736.4" r="1.15" fill="#000"/><circle cx="544.9" cy="743.7" r="1.15" fill="#000"/><circle cx="542.9" cy="752.4" r="1.15" fill="#000"/><circle cx="532.8" cy="768.4" r="1.15" fill="#000"/><circle cx="526.3" cy="773.4" r="1.15" fill="#000"/><circle cx="520.0" cy="775.1" r="1.15" fill="#000"/><circle cx="512.0" cy="768.5" r="1.15" fill="#000"/><circle cx="511.5" cy="761.2" r="1.15" fill="#000"/><circle cx="513.5" cy="752.5" r="1.15" fill="#000"/><circle cx="523.6" cy="736.5" r="1.15" fill="#000"/><circle cx="530.1" cy="731.5" r="1.15" fill="#000"/><circle cx="536.4" cy="729.8" r="1.15" fill="#000"/><circle cx="541.4" cy="744.0" r="1.5" fill="#000"/><circle cx="528.0" cy="768.1" r="1.5" fill="#000"/><circle cx="515.0" cy="760.9" r="1.5" fill="#000"/><circle cx="528.4" cy="736.8" r="1.5" fill="#000"/><ellipse cx="538.9" cy="733.1" rx="4.6" ry="2.5" transform="rotate(29.0 538.9 733.1)" fill="#fff" stroke="#000" stroke-width="0.9"/><ellipse cx="517.5" cy="771.8" rx="4.6" ry="2.5" transform="rotate(29.0 517.5 771.8)" fill="#fff" stroke="#000" stroke-width="0.9"/><ellipse cx="538.3" cy="758.1" rx="7" ry="1.7" transform="rotate(-61.0 538.3 758.1)" fill="#fff" stroke="#000" stroke-width="0.9"/><ellipse cx="538.3" cy="758.1" rx="5" ry="0.6" transform="rotate(-61.0 538.3 758.1)" fill="none" stroke="#000" stroke-width="0.6"/><ellipse cx="518.1" cy="746.8" rx="7" ry="1.7" transform="rotate(-61.0 518.1 746.8)" fill="#fff" stroke="#000" stroke-width="0.9"/><ellipse cx="518.1" cy="746.8" rx="5" ry="0.6" transform="rotate(-61.0 518.1 746.8)" fill="none" stroke="#000" stroke-width="0.6"/><ellipse cx="528.7" cy="753.0" rx="15.8" ry="8.1" transform="rotate(-61.00 528.7 753.0)" fill="#fff" stroke="#000" stroke-width="1.2"/>
<line x1="554.3" y1="59.5" x2="580.6" y2="74.5" stroke="#000" stroke-width="0.9"/>
<line x1="538.0" y1="92.8" x2="565.0" y2="105.4" stroke="#000" stroke-width="0.9"/>
<line x1="112.5" y1="242.3" x2="120.2" y2="246.6" stroke="#000" stroke-width="0.9"/>
<line x1="125.5" y1="249.6" x2="132.5" y2="253.8" stroke="#000" stroke-width="0.9"/>
<line x1="100.0" y1="264.6" x2="107.9" y2="269.1" stroke="#000" stroke-width="0.9"/>
<line x1="113.0" y1="272.0" x2="121.0" y2="277.0" stroke="#000" stroke-width="0.9"/>
<line x1="186.3" y1="280.1" x2="217.7" y2="300.0" stroke="#000" stroke-width="0.9" stroke-dasharray="5,3"/>
<line x1="180.8" y1="318.5" x2="202.5" y2="330.0" stroke="#000" stroke-width="0.9"/>
<line x1="845.8" y1="482.2" x2="880.6" y2="501.6" stroke="#000" stroke-width="0.9" stroke-dasharray="6,4"/>
<line x1="827.4" y1="513.2" x2="861.3" y2="532.5" stroke="#000" stroke-width="0.9" stroke-dasharray="6,4"/>
<line x1="470.0" y1="702.0" x2="494.0" y2="711.0" stroke="#000" stroke-width="0.9"/>
<line x1="454.0" y1="724.6" x2="476.0" y2="744.0" stroke="#000" stroke-width="0.9"/>
<line x1="544.6" y1="749.3" x2="558.9" y2="754.6" stroke="#000" stroke-width="0.9"/>
<line x1="563.3" y1="758.2" x2="571.5" y2="762.5" stroke="#000" stroke-width="0.9"/>
<line x1="528.6" y1="768.9" x2="546.4" y2="778.6" stroke="#000" stroke-width="0.9"/>
<line x1="550.9" y1="781.3" x2="558.5" y2="785.7" stroke="#000" stroke-width="0.9"/>
<line x1="865.7" y1="246.3" x2="886.9" y2="258.6" stroke="#000" stroke-width="0.9"/>
<line x1="851.6" y1="279.3" x2="870.1" y2="291.6" stroke="#000" stroke-width="0.9"/>
<line x1="550.0" y1="304.7" x2="568.2" y2="315.6" stroke="#000" stroke-width="0.9"/>
<line x1="531.2" y1="335.9" x2="552.2" y2="346.0" stroke="#000" stroke-width="0.9"/>
<line x1="502.6" y1="468.0" x2="512.1" y2="473.8" stroke="#000" stroke-width="0.9"/>
<line x1="485.2" y1="501.4" x2="495.4" y2="506.9" stroke="#000" stroke-width="0.9"/>
<line x1="176.3" y1="521.8" x2="200.3" y2="535.5" stroke="#000" stroke-width="0.9"/>
<line x1="158.2" y1="554.4" x2="182.9" y2="568.2" stroke="#000" stroke-width="0.9"/>
<line x1="791.5" y1="297.0" x2="799.5" y2="292.6" stroke="#000" stroke-width="0.9"/>
<line x1="562.4" y1="410.3" x2="579.9" y2="400.0" stroke="#000" stroke-width="0.9"/>
<line x1="419.2" y1="515.5" x2="429.3" y2="509.7" stroke="#000" stroke-width="0.9"/>
<line x1="320.3" y1="553.0" x2="297.4" y2="565.5" stroke="#000" stroke-width="0.9"/>
<line x1="868.9" y1="270.7" x2="887.7" y2="279.3" stroke="#000" stroke-width="2.4"/>
<line x1="868.9" y1="270.7" x2="887.7" y2="279.3" stroke="#fff" stroke-width="0.8"/>
<line x1="532.6" y1="314.2" x2="559.5" y2="330.5" stroke="#000" stroke-width="2.4"/>
<line x1="532.6" y1="314.2" x2="559.5" y2="330.5" stroke="#fff" stroke-width="0.8"/>
<line x1="496.8" y1="486.2" x2="512.1" y2="494.6" stroke="#000" stroke-width="2.4"/>
<line x1="496.8" y1="486.2" x2="512.1" y2="494.6" stroke="#fff" stroke-width="0.8"/>
<line x1="158.2" y1="532.6" x2="190.1" y2="550.8" stroke="#000" stroke-width="2.4"/>
<line x1="158.2" y1="532.6" x2="190.1" y2="550.8" stroke="#fff" stroke-width="0.8"/>
<line x1="862.0" y1="266.5" x2="868.9" y2="270.7" stroke="#000" stroke-width="2.4"/>
<line x1="862.0" y1="266.5" x2="868.9" y2="270.7" stroke="#fff" stroke-width="0.8"/>
<line x1="489.0" y1="481.5" x2="496.8" y2="486.2" stroke="#000" stroke-width="2.4"/>
<line x1="489.0" y1="481.5" x2="496.8" y2="486.2" stroke="#fff" stroke-width="0.8"/>
<line x1="546.0" y1="55.5" x2="554.3" y2="59.5" stroke="#111" stroke-width="3.2" stroke-linecap="butt"/><line x1="546.0" y1="55.5" x2="548.7" y2="56.8" stroke="#fff" stroke-width="1.2"/><ellipse cx="544.2" cy="54.6" rx="2.6" ry="3.0" transform="rotate(25.9 544.2 54.6)" fill="#fff" stroke="#000" stroke-width="1.5"/>
<line x1="528.2" y1="67.7" x2="537.0" y2="72.5" stroke="#111" stroke-width="3.2" stroke-linecap="butt"/><line x1="528.2" y1="67.7" x2="530.8" y2="69.1" stroke="#fff" stroke-width="1.2"/><ellipse cx="526.4" cy="66.7" rx="2.6" ry="3.0" transform="rotate(28.7 526.4 66.7)" fill="#fff" stroke="#000" stroke-width="1.5"/>
<line x1="547.5" y1="75.0" x2="554.5" y2="79.3" stroke="#111" stroke-width="3.2" stroke-linecap="butt"/><line x1="547.5" y1="75.0" x2="550.1" y2="76.6" stroke="#fff" stroke-width="1.2"/><ellipse cx="545.8" cy="74.0" rx="2.6" ry="3.0" transform="rotate(31.3 545.8 74.0)" fill="#fff" stroke="#000" stroke-width="1.5"/>
<line x1="529.2" y1="88.0" x2="538.0" y2="92.8" stroke="#111" stroke-width="3.2" stroke-linecap="butt"/><line x1="529.2" y1="88.0" x2="531.8" y2="89.4" stroke="#fff" stroke-width="1.2"/><ellipse cx="527.4" cy="87.0" rx="2.6" ry="3.0" transform="rotate(28.7 527.4 87.0)" fill="#fff" stroke="#000" stroke-width="1.5"/>
<line x1="177.7" y1="275.1" x2="186.3" y2="280.1" stroke="#111" stroke-width="3.2" stroke-linecap="butt"/><line x1="177.7" y1="275.1" x2="180.3" y2="276.6" stroke="#fff" stroke-width="1.2"/><ellipse cx="176.0" cy="274.1" rx="2.6" ry="3.0" transform="rotate(30.2 176.0 274.1)" fill="#fff" stroke="#000" stroke-width="1.5"/>
<line x1="165.9" y1="287.5" x2="173.5" y2="291.6" stroke="#111" stroke-width="3.2" stroke-linecap="butt"/><line x1="165.9" y1="287.5" x2="168.5" y2="288.9" stroke="#fff" stroke-width="1.2"/><ellipse cx="164.1" cy="286.5" rx="2.6" ry="3.0" transform="rotate(28.5 164.1 286.5)" fill="#fff" stroke="#000" stroke-width="1.5"/>
<line x1="185.4" y1="300.6" x2="193.8" y2="305.4" stroke="#111" stroke-width="3.2" stroke-linecap="butt"/><line x1="185.4" y1="300.6" x2="188.0" y2="302.1" stroke="#fff" stroke-width="1.2"/><ellipse cx="183.7" cy="299.6" rx="2.6" ry="3.0" transform="rotate(29.9 183.7 299.6)" fill="#fff" stroke="#000" stroke-width="1.5"/>
<line x1="173.2" y1="314.9" x2="180.8" y2="318.5" stroke="#111" stroke-width="3.2" stroke-linecap="butt"/><line x1="173.2" y1="314.9" x2="175.9" y2="316.2" stroke="#fff" stroke-width="1.2"/><ellipse cx="171.4" cy="314.1" rx="2.6" ry="3.0" transform="rotate(25.1 171.4 314.1)" fill="#fff" stroke="#000" stroke-width="1.5"/>
<line x1="891.5" y1="508.2" x2="882.5" y2="502.5" stroke="#111" stroke-width="3.2" stroke-linecap="butt"/><line x1="891.5" y1="508.2" x2="889.0" y2="506.6" stroke="#fff" stroke-width="1.2"/><ellipse cx="893.2" cy="509.3" rx="2.6" ry="3.0" transform="rotate(-147.6 893.2 509.3)" fill="#fff" stroke="#000" stroke-width="1.5"/>
<line x1="874.0" y1="517.2" x2="865.1" y2="513.2" stroke="#111" stroke-width="3.2" stroke-linecap="butt"/><line x1="874.0" y1="517.2" x2="871.2" y2="516.0" stroke="#fff" stroke-width="1.2"/><ellipse cx="875.8" cy="518.0" rx="2.6" ry="3.0" transform="rotate(-155.8 875.8 518.0)" fill="#fff" stroke="#000" stroke-width="1.5"/>
<line x1="890.5" y1="529.6" x2="882.5" y2="524.8" stroke="#111" stroke-width="3.2" stroke-linecap="butt"/><line x1="890.5" y1="529.6" x2="887.9" y2="528.0" stroke="#fff" stroke-width="1.2"/><ellipse cx="892.2" cy="530.6" rx="2.6" ry="3.0" transform="rotate(-149.1 892.2 530.6)" fill="#fff" stroke="#000" stroke-width="1.5"/>
<line x1="873.0" y1="539.4" x2="865.1" y2="535.4" stroke="#111" stroke-width="3.2" stroke-linecap="butt"/><line x1="873.0" y1="539.4" x2="870.3" y2="538.0" stroke="#fff" stroke-width="1.2"/><ellipse cx="874.8" cy="540.3" rx="2.6" ry="3.0" transform="rotate(-153.2 874.8 540.3)" fill="#fff" stroke="#000" stroke-width="1.5"/>
<line x1="502.9" y1="716.0" x2="495.0" y2="711.5" stroke="#111" stroke-width="3.2" stroke-linecap="butt"/><line x1="502.9" y1="716.0" x2="500.3" y2="714.5" stroke="#fff" stroke-width="1.2"/><ellipse cx="504.6" cy="717.0" rx="2.6" ry="3.0" transform="rotate(-150.2 504.6 717.0)" fill="#fff" stroke="#000" stroke-width="1.5"/>
<line x1="485.4" y1="726.8" x2="478.0" y2="722.4" stroke="#111" stroke-width="3.2" stroke-linecap="butt"/><line x1="485.4" y1="726.8" x2="482.8" y2="725.2" stroke="#fff" stroke-width="1.2"/><ellipse cx="487.1" cy="727.8" rx="2.6" ry="3.0" transform="rotate(-149.3 487.1 727.8)" fill="#fff" stroke="#000" stroke-width="1.5"/>
<line x1="502.9" y1="737.1" x2="495.0" y2="732.6" stroke="#111" stroke-width="3.2" stroke-linecap="butt"/><line x1="502.9" y1="737.1" x2="500.3" y2="735.6" stroke="#fff" stroke-width="1.2"/><ellipse cx="504.6" cy="738.1" rx="2.6" ry="3.0" transform="rotate(-150.2 504.6 738.1)" fill="#fff" stroke="#000" stroke-width="1.5"/>
<line x1="484.8" y1="748.6" x2="476.8" y2="744.1" stroke="#111" stroke-width="3.2" stroke-linecap="butt"/><line x1="484.8" y1="748.6" x2="482.2" y2="747.1" stroke="#fff" stroke-width="1.2"/><ellipse cx="486.5" cy="749.6" rx="2.6" ry="3.0" transform="rotate(-150.4 486.5 749.6)" fill="#fff" stroke="#000" stroke-width="1.5"/>
<line x1="107.2" y1="239.3" x2="112.5" y2="242.3" stroke="#111" stroke-width="2.6"/><ellipse cx="107.2" cy="239.3" rx="2" ry="2.6" transform="rotate(29.5 107.2 239.3)" fill="#222" stroke="#000" stroke-width="1"/>
<line x1="120.2" y1="246.6" x2="125.5" y2="249.6" stroke="#111" stroke-width="2.6"/><ellipse cx="120.2" cy="246.6" rx="2" ry="2.6" transform="rotate(29.5 120.2 246.6)" fill="#222" stroke="#000" stroke-width="1"/>
<line x1="94.8" y1="261.8" x2="100.0" y2="264.6" stroke="#111" stroke-width="2.6"/><ellipse cx="94.8" cy="261.8" rx="2" ry="2.6" transform="rotate(28.3 94.8 261.8)" fill="#222" stroke="#000" stroke-width="1"/>
<line x1="107.9" y1="269.1" x2="113.0" y2="272.0" stroke="#111" stroke-width="2.6"/><ellipse cx="107.9" cy="269.1" rx="2" ry="2.6" transform="rotate(29.6 107.9 269.1)" fill="#222" stroke="#000" stroke-width="1"/>
<line x1="563.3" y1="758.2" x2="558.9" y2="754.6" stroke="#111" stroke-width="2.6"/><ellipse cx="563.3" cy="758.2" rx="2" ry="2.6" transform="rotate(-140.7 563.3 758.2)" fill="#222" stroke="#000" stroke-width="1"/>
<line x1="575.2" y1="766.2" x2="571.5" y2="762.5" stroke="#111" stroke-width="2.6"/><ellipse cx="575.2" cy="766.2" rx="2" ry="2.6" transform="rotate(-135.0 575.2 766.2)" fill="#222" stroke="#000" stroke-width="1"/>
<line x1="550.9" y1="781.3" x2="546.4" y2="778.6" stroke="#111" stroke-width="2.6"/><ellipse cx="550.9" cy="781.3" rx="2" ry="2.6" transform="rotate(-149.0 550.9 781.3)" fill="#222" stroke="#000" stroke-width="1"/>
<line x1="562.4" y1="788.4" x2="558.5" y2="785.7" stroke="#111" stroke-width="2.6"/><ellipse cx="562.4" cy="788.4" rx="2" ry="2.6" transform="rotate(-145.3 562.4 788.4)" fill="#222" stroke="#000" stroke-width="1"/>
<line x1="782.8" y1="298.0" x2="791.5" y2="298.5" stroke="#111" stroke-width="3"/><ellipse cx="782.8" cy="298.0" rx="2.6" ry="3.2" transform="rotate(3.3 782.8 298.0)" fill="#fff" stroke="#000" stroke-width="1.5"/>
<line x1="560.6" y1="413.3" x2="552.1" y2="407.9" stroke="#111" stroke-width="3"/><ellipse cx="560.6" cy="413.3" rx="2.6" ry="3.2" transform="rotate(-147.6 560.6 413.3)" fill="#fff" stroke="#000" stroke-width="1.5"/>
<line x1="414.6" y1="518.0" x2="423.1" y2="518.6" stroke="#111" stroke-width="3"/><ellipse cx="414.6" cy="518.0" rx="2.6" ry="3.2" transform="rotate(4.0 414.6 518.0)" fill="#fff" stroke="#000" stroke-width="1.5"/>
<line x1="323.5" y1="551.3" x2="315.4" y2="545.9" stroke="#111" stroke-width="3"/><ellipse cx="323.5" cy="551.3" rx="2.6" ry="3.2" transform="rotate(-146.3 323.5 551.3)" fill="#fff" stroke="#000" stroke-width="1.5"/>
<polygon points="890.0,260.6 886.9,262.6 883.8,260.6 883.8,256.6 886.9,254.6 890.0,256.6" fill="#444" stroke="#000" stroke-width="1.1"/><line x1="885.7" y1="260.2" x2="887.9" y2="257.0" stroke="#ddd" stroke-width="1.1"/>
<polygon points="872.0,272.7 868.9,274.7 865.8,272.7 865.8,268.7 868.9,266.7 872.0,268.7" fill="#444" stroke="#000" stroke-width="1.1"/><line x1="867.7" y1="272.3" x2="869.9" y2="269.1" stroke="#ddd" stroke-width="1.1"/>
<polygon points="890.8,281.3 887.7,283.3 884.6,281.3 884.6,277.3 887.7,275.3 890.8,277.3" fill="#444" stroke="#000" stroke-width="1.1"/><line x1="886.5" y1="280.9" x2="888.7" y2="277.7" stroke="#ddd" stroke-width="1.1"/>
<polygon points="873.2,293.6 870.1,295.6 867.0,293.6 867.0,289.6 870.1,287.6 873.2,289.6" fill="#444" stroke="#000" stroke-width="1.1"/><line x1="868.9" y1="293.2" x2="871.1" y2="290.0" stroke="#ddd" stroke-width="1.1"/>
<polygon points="553.1,306.7 550.0,308.7 546.9,306.7 546.9,302.7 550.0,300.7 553.1,302.7" fill="#444" stroke="#000" stroke-width="1.1"/><line x1="548.8" y1="306.3" x2="551.0" y2="303.1" stroke="#ddd" stroke-width="1.1"/>
<polygon points="535.7,316.2 532.6,318.2 529.5,316.2 529.5,312.2 532.6,310.2 535.7,312.2" fill="#444" stroke="#000" stroke-width="1.1"/><line x1="531.4" y1="315.8" x2="533.6" y2="312.6" stroke="#ddd" stroke-width="1.1"/>
<polygon points="551.7,329.2 548.6,331.2 545.5,329.2 545.5,325.2 548.6,323.2 551.7,325.2" fill="#444" stroke="#000" stroke-width="1.1"/><line x1="547.4" y1="328.8" x2="549.6" y2="325.6" stroke="#ddd" stroke-width="1.1"/>
<polygon points="534.6,338.2 531.5,340.2 528.4,338.2 528.4,334.2 531.5,332.2 534.6,334.2" fill="#444" stroke="#000" stroke-width="1.1"/><line x1="530.3" y1="337.8" x2="532.5" y2="334.6" stroke="#ddd" stroke-width="1.1"/>
<polygon points="515.2,475.8 512.1,477.8 509.0,475.8 509.0,471.8 512.1,469.8 515.2,471.8" fill="#444" stroke="#000" stroke-width="1.1"/><line x1="510.9" y1="475.4" x2="513.1" y2="472.2" stroke="#ddd" stroke-width="1.1"/>
<polygon points="499.9,488.2 496.8,490.2 493.7,488.2 493.7,484.2 496.8,482.2 499.9,484.2" fill="#444" stroke="#000" stroke-width="1.1"/><line x1="495.6" y1="487.8" x2="497.8" y2="484.6" stroke="#ddd" stroke-width="1.1"/>
<polygon points="515.2,496.6 512.1,498.6 509.0,496.6 509.0,492.6 512.1,490.6 515.2,492.6" fill="#444" stroke="#000" stroke-width="1.1"/><line x1="510.9" y1="496.2" x2="513.1" y2="493.0" stroke="#ddd" stroke-width="1.1"/>
<polygon points="498.5,508.9 495.4,510.9 492.3,508.9 492.3,504.9 495.4,502.9 498.5,504.9" fill="#444" stroke="#000" stroke-width="1.1"/><line x1="494.2" y1="508.5" x2="496.4" y2="505.3" stroke="#ddd" stroke-width="1.1"/>
<polygon points="179.4,523.8 176.3,525.8 173.2,523.8 173.2,519.8 176.3,517.8 179.4,519.8" fill="#444" stroke="#000" stroke-width="1.1"/><line x1="175.1" y1="523.4" x2="177.3" y2="520.2" stroke="#ddd" stroke-width="1.1"/>
<polygon points="161.3,534.6 158.2,536.6 155.1,534.6 155.1,530.6 158.2,528.6 161.3,530.6" fill="#444" stroke="#000" stroke-width="1.1"/><line x1="157.0" y1="534.2" x2="159.2" y2="531.0" stroke="#ddd" stroke-width="1.1"/>
<polygon points="179.4,545.5 176.3,547.5 173.2,545.5 173.2,541.5 176.3,539.5 179.4,541.5" fill="#444" stroke="#000" stroke-width="1.1"/><line x1="175.1" y1="545.1" x2="177.3" y2="541.9" stroke="#ddd" stroke-width="1.1"/>
<polygon points="161.3,556.4 158.2,558.4 155.1,556.4 155.1,552.4 158.2,550.4 161.3,552.4" fill="#444" stroke="#000" stroke-width="1.1"/><line x1="157.0" y1="556.0" x2="159.2" y2="552.8" stroke="#ddd" stroke-width="1.1"/>
<polygon points="903.2,284.4 902.0,287.5 903.2,290.6 900.4,290.8 898.9,293.7 897.4,290.8 894.6,290.6 895.8,287.5 894.6,284.4 897.4,284.2 898.9,281.3 900.4,284.2" fill="#fff" stroke="#000" stroke-width="1.1" stroke-linejoin="round"/><ellipse cx="898.9" cy="287.5" rx="1.9" ry="2.5" fill="#fff" stroke="#000" stroke-width="1"/>
<polygon points="521.8,303.1 520.6,306.2 521.8,309.3 519.0,309.5 517.5,312.4 516.0,309.5 513.2,309.3 514.4,306.2 513.2,303.1 516.0,302.9 517.5,300.0 519.0,302.9" fill="#fff" stroke="#000" stroke-width="1.1" stroke-linejoin="round"/><ellipse cx="517.5" cy="306.2" rx="1.9" ry="2.5" fill="#fff" stroke="#000" stroke-width="1"/>
<polygon points="532.4,501.3 531.2,504.4 532.4,507.5 529.6,507.7 528.1,510.6 526.6,507.7 523.8,507.5 525.0,504.4 523.8,501.3 526.6,501.1 528.1,498.2 529.6,501.1" fill="#fff" stroke="#000" stroke-width="1.1" stroke-linejoin="round"/><ellipse cx="528.1" cy="504.4" rx="1.9" ry="2.5" fill="#fff" stroke="#000" stroke-width="1"/>
<polygon points="153.1,523.4 151.9,526.5 153.1,529.6 150.3,529.8 148.8,532.7 147.3,529.8 144.5,529.6 145.7,526.5 144.5,523.4 147.3,523.2 148.8,520.3 150.3,523.2" fill="#fff" stroke="#000" stroke-width="1.1" stroke-linejoin="round"/><ellipse cx="148.8" cy="526.5" rx="1.9" ry="2.5" fill="#fff" stroke="#000" stroke-width="1"/>
<polygon points="917.0,295.0 915.6,297.0 914.8,299.3 912.7,299.0 910.6,299.3 909.8,297.0 908.5,295.0 909.8,293.0 910.6,290.7 912.7,291.0 914.8,290.7 915.6,293.0" fill="#777" stroke="#000" stroke-width="1.2"/><ellipse cx="913.5" cy="295.0" rx="2.4" ry="3.0" fill="#fff" stroke="#000" stroke-width="0.9"/><circle cx="913.5" cy="295.0" r="0.9" fill="#000"/>
<polygon points="504.1,295.3 502.7,297.3 501.9,299.6 499.8,299.3 497.7,299.6 496.9,297.3 495.6,295.3 496.9,293.3 497.7,291.0 499.8,291.3 501.9,291.0 502.7,293.3" fill="#777" stroke="#000" stroke-width="1.2"/><ellipse cx="500.6" cy="295.3" rx="2.4" ry="3.0" fill="#fff" stroke="#000" stroke-width="0.9"/><circle cx="500.6" cy="295.3" r="0.9" fill="#000"/>
<polygon points="547.5,513.8 546.1,515.8 545.3,518.1 543.2,517.8 541.1,518.1 540.3,515.8 539.0,513.8 540.3,511.8 541.1,509.5 543.2,509.8 545.3,509.5 546.1,511.8" fill="#777" stroke="#000" stroke-width="1.2"/><ellipse cx="544.0" cy="513.8" rx="2.4" ry="3.0" fill="#fff" stroke="#000" stroke-width="0.9"/><circle cx="544.0" cy="513.8" r="0.9" fill="#000"/>
<polygon points="139.1,518.6 137.7,520.6 136.9,522.9 134.8,522.6 132.7,522.9 131.9,520.6 130.6,518.6 131.9,516.6 132.7,514.3 134.8,514.6 136.9,514.3 137.7,516.6" fill="#777" stroke="#000" stroke-width="1.2"/><ellipse cx="135.6" cy="518.6" rx="2.4" ry="3.0" fill="#fff" stroke="#000" stroke-width="0.9"/><circle cx="135.6" cy="518.6" r="0.9" fill="#000"/>
<line x1="919.0" y1="292.0" x2="933.5" y2="284.0" stroke="#111" stroke-width="1.5" stroke-linecap="round"/>
<line x1="505.6" y1="291.0" x2="519.4" y2="283.4" stroke="#111" stroke-width="1.5" stroke-linecap="round"/>
<line x1="549.5" y1="510.3" x2="564.2" y2="503.1" stroke="#111" stroke-width="1.5" stroke-linecap="round"/>
<line x1="141.3" y1="513.3" x2="154.0" y2="506.5" stroke="#111" stroke-width="1.5" stroke-linecap="round"/>
<polygon points="922.7,311.1 922.3,310.8 921.9,310.5 921.6,310.0 921.3,309.5 921.1,309.0 920.9,308.4 920.8,307.8 920.7,307.1 920.8,306.4 920.8,305.7 921.0,305.0 921.2,304.2 921.5,303.5 921.8,302.8 922.1,302.1 922.6,301.4 923.0,300.7 923.5,300.1 924.0,299.6 924.6,299.1 925.2,298.6 925.8,298.3 926.4,298.0 927.0,297.7 927.6,297.6 928.2,297.5 928.7,297.5 929.3,297.5 929.8,297.7 930.3,297.9 939.3,302.9 939.7,303.2 940.1,303.5 940.4,304.0 940.7,304.5 940.9,305.0 941.1,305.6 941.2,306.2 941.3,306.9 941.2,307.6 941.2,308.3 941.0,309.0 940.8,309.8 940.5,310.5 940.2,311.2 939.9,311.9 939.4,312.6 939.0,313.3 938.5,313.9 938.0,314.4 937.4,314.9 936.8,315.4 936.2,315.7 935.6,316.0 935.0,316.3 934.4,316.4 933.8,316.5 933.3,316.5 932.7,316.5 932.2,316.3 931.7,316.1" fill="#fff" stroke="#000" stroke-width="1.1"/><ellipse cx="935.5" cy="309.5" rx="7.6" ry="5.0" transform="rotate(-60.00 935.5 309.5)" fill="#fff" stroke="#000" stroke-width="1.1"/><ellipse cx="935.5" cy="309.5" rx="4.6" ry="3.0" transform="rotate(-60.00 935.5 309.5)" fill="none" stroke="#000" stroke-width="0.8"/>
<polygon points="469.3,287.4 468.8,287.1 468.4,286.8 468.1,286.4 467.8,285.9 467.6,285.3 467.4,284.8 467.3,284.1 467.2,283.5 467.3,282.8 467.3,282.0 467.5,281.3 467.7,280.6 467.9,279.8 468.2,279.1 468.6,278.4 469.0,277.7 469.5,277.1 470.0,276.5 470.5,275.9 471.1,275.4 471.6,275.0 472.2,274.6 472.8,274.3 473.4,274.0 474.0,273.9 474.6,273.8 475.2,273.8 475.7,273.8 476.2,274.0 476.7,274.2 484.2,278.2 484.7,278.5 485.1,278.8 485.4,279.2 485.7,279.7 485.9,280.3 486.1,280.8 486.2,281.5 486.3,282.1 486.2,282.8 486.2,283.6 486.0,284.3 485.8,285.0 485.6,285.8 485.3,286.5 484.9,287.2 484.5,287.9 484.0,288.5 483.5,289.1 483.0,289.7 482.4,290.2 481.9,290.6 481.3,291.0 480.7,291.3 480.1,291.6 479.5,291.7 478.9,291.8 478.3,291.8 477.8,291.8 477.3,291.6 476.8,291.4" fill="#fff" stroke="#000" stroke-width="1.1"/><ellipse cx="480.5" cy="284.8" rx="7.6" ry="5.0" transform="rotate(-60.00 480.5 284.8)" fill="#fff" stroke="#000" stroke-width="1.1"/><ellipse cx="480.5" cy="284.8" rx="4.6" ry="3.0" transform="rotate(-60.00 480.5 284.8)" fill="none" stroke="#000" stroke-width="0.8"/>
<polygon points="564.9,537.7 564.4,537.4 564.0,537.0 563.7,536.6 563.4,536.2 563.1,535.6 562.9,535.1 562.8,534.4 562.7,533.8 562.7,533.1 562.8,532.4 562.9,531.6 563.1,530.9 563.4,530.2 563.7,529.4 564.0,528.7 564.4,528.0 564.9,527.4 565.4,526.8 565.9,526.2 566.5,525.7 567.0,525.2 567.6,524.9 568.2,524.5 568.8,524.3 569.4,524.1 570.0,524.0 570.6,524.0 571.1,524.0 571.7,524.1 572.1,524.3 581.1,528.8 581.6,529.1 582.0,529.5 582.3,529.9 582.6,530.3 582.9,530.9 583.1,531.4 583.2,532.1 583.3,532.7 583.3,533.4 583.2,534.1 583.1,534.9 582.9,535.6 582.6,536.3 582.3,537.1 582.0,537.8 581.6,538.5 581.1,539.1 580.6,539.7 580.1,540.3 579.5,540.8 579.0,541.3 578.4,541.6 577.8,542.0 577.2,542.2 576.6,542.4 576.0,542.5 575.4,542.5 574.9,542.5 574.3,542.4 573.9,542.2" fill="#fff" stroke="#000" stroke-width="1.1"/><ellipse cx="577.5" cy="535.5" rx="7.6" ry="5.0" transform="rotate(-60.00 577.5 535.5)" fill="#fff" stroke="#000" stroke-width="1.1"/><ellipse cx="577.5" cy="535.5" rx="4.6" ry="3.0" transform="rotate(-60.00 577.5 535.5)" fill="none" stroke="#000" stroke-width="0.8"/>
<polygon points="110.5,513.9 110.1,513.7 109.7,513.3 109.3,512.9 109.0,512.4 108.8,511.9 108.6,511.3 108.5,510.7 108.4,510.0 108.5,509.3 108.5,508.6 108.7,507.9 108.8,507.1 109.1,506.4 109.4,505.7 109.8,505.0 110.2,504.3 110.6,503.6 111.1,503.0 111.7,502.5 112.2,502.0 112.8,501.5 113.4,501.1 114.0,500.8 114.6,500.6 115.2,500.4 115.8,500.3 116.3,500.3 116.9,500.3 117.4,500.4 117.9,500.7 126.3,505.0 126.7,505.2 127.1,505.6 127.5,506.0 127.8,506.5 128.0,507.0 128.2,507.6 128.3,508.2 128.4,508.9 128.3,509.6 128.3,510.3 128.1,511.0 128.0,511.8 127.7,512.5 127.4,513.2 127.0,513.9 126.6,514.6 126.2,515.3 125.7,515.9 125.1,516.4 124.6,516.9 124.0,517.4 123.4,517.8 122.8,518.1 122.2,518.3 121.6,518.5 121.0,518.6 120.5,518.6 119.9,518.6 119.4,518.5 118.9,518.2" fill="#fff" stroke="#000" stroke-width="1.1"/><ellipse cx="122.6" cy="511.6" rx="7.6" ry="5.0" transform="rotate(-60.00 122.6 511.6)" fill="#fff" stroke="#000" stroke-width="1.1"/><ellipse cx="122.6" cy="511.6" rx="4.6" ry="3.0" transform="rotate(-60.00 122.6 511.6)" fill="none" stroke="#000" stroke-width="0.8"/>
<g font-family="Liberation Serif" fill="#000" opacity="0.999">
<polyline points="569.8,19.3 565.5,19.3 545.6,52.2" fill="none" stroke="#000" stroke-width="0.9"/><text transform="translate(572.2 30.4) scale(0.786 1)" font-size="25.2">5</text>
<polyline points="581.9,36.8 577.5,36.8 553.4,76.4" fill="none" stroke="#000" stroke-width="0.9"/><text transform="translate(583.8 47.9) scale(0.786 1)" font-size="25.2">5</text>
<polyline points="499.3,94.2 504.2,94.2 526.4,70.6" fill="none" stroke="#000" stroke-width="0.9"/><text transform="translate(486.6 104.8) scale(0.786 1)" font-size="25.2">5</text>
<polyline points="499.3,121.5 504.2,121.5 525.5,90.0" fill="none" stroke="#000" stroke-width="0.9"/><text transform="translate(486.6 132.4) scale(0.786 1)" font-size="25.2">5</text>
<polyline points="542.9,137.7 547.7,137.7 563.2,114.1" fill="none" stroke="#000" stroke-width="0.9"/><text transform="translate(530.2 149.4) scale(0.786 1)" font-size="25.2">3</text>
<polyline points="571.1,212.0 576.0,212.0 586.8,200.6" fill="none" stroke="#000" stroke-width="0.9"/><text transform="translate(548.5 223.1) scale(0.786 1)" font-size="25.2">11</text>
<polyline points="775.5,289.0 779.9,289.0 787.9,273.1" fill="none" stroke="#000" stroke-width="0.9"/><text transform="translate(752.7 300.6) scale(0.786 1)" font-size="25.2">13</text>
<polyline points="775.5,317.7 779.9,317.7 787.9,299.2" fill="none" stroke="#000" stroke-width="0.9"/><text transform="translate(752.5 328.8) scale(0.786 1)" font-size="25.2">15</text>
<polyline points="906.6,200.7 901.9,200.7 870.4,268.3" fill="none" stroke="#000" stroke-width="0.9"/><text transform="translate(909.1 212.9) scale(0.786 1)" font-size="25.2">6</text>
<polyline points="906.6,226.2 901.9,226.2 888.5,256.5" fill="none" stroke="#000" stroke-width="0.9"/><text transform="translate(909.1 237.7) scale(0.786 1)" font-size="25.2">6</text>
<polyline points="906.6,252.9 901.9,252.9 889.3,277.0" fill="none" stroke="#000" stroke-width="0.9"/><text transform="translate(909.1 264.4) scale(0.786 1)" font-size="25.2">6</text>
<polyline points="959.2,253.4 953.7,253.4 928.6,285.6" fill="none" stroke="#000" stroke-width="0.9"/><text transform="translate(960.9 264.8) scale(0.786 1)" font-size="25.2">8</text>
<polyline points="953.7,280.1 948.2,280.1 934.1,300.5" fill="none" stroke="#000" stroke-width="0.9"/><text transform="translate(956.0 291.1) scale(0.786 1)" font-size="25.2">14</text>
<polyline points="883.3,346.4 879.1,346.4 870.6,294.5" fill="none" stroke="#000" stroke-width="0.9"/><text transform="translate(886.1 357.7) scale(0.786 1)" font-size="25.2">6</text>
<polyline points="906.9,346.4 902.7,346.4 897.9,293.3" fill="none" stroke="#000" stroke-width="0.9"/><text transform="translate(910.5 357.7) scale(0.786 1)" font-size="25.2">9</text>
<polyline points="934.2,346.4 929.4,346.4 917.2,300.0" fill="none" stroke="#000" stroke-width="0.9"/><text transform="translate(935.8 357.7) scale(0.786 1)" font-size="25.2">7</text>
<polyline points="528.8,240.9 523.7,240.9 507.8,289.5" fill="none" stroke="#000" stroke-width="0.9"/><text transform="translate(531.1 252.8) scale(0.786 1)" font-size="25.2">8</text>
<polyline points="571.8,246.0 566.7,246.0 534.1,312.0" fill="none" stroke="#000" stroke-width="0.9"/><text transform="translate(573.7 257.9) scale(0.786 1)" font-size="25.2">6</text>
<polyline points="571.8,275.0 566.7,275.0 551.5,303.3" fill="none" stroke="#000" stroke-width="0.9"/><text transform="translate(573.7 286.5) scale(0.786 1)" font-size="25.2">6</text>
<polyline points="448.3,299.4 452.6,299.4 469.3,287.3" fill="none" stroke="#000" stroke-width="0.9"/><text transform="translate(424.1 310.4) scale(0.786 1)" font-size="25.2">14</text>
<polyline points="467.2,317.0 471.5,317.0 495.5,298.2" fill="none" stroke="#000" stroke-width="0.9"/><text transform="translate(453.4 328.6) scale(0.786 1)" font-size="25.2">7</text>
<polyline points="489.6,336.6 494.0,336.6 514.3,313.4" fill="none" stroke="#000" stroke-width="0.9"/><text transform="translate(476.3 347.8) scale(0.786 1)" font-size="25.2">9</text>
<polyline points="510.6,351.9 515.7,351.9 531.0,337.4" fill="none" stroke="#000" stroke-width="0.9"/><text transform="translate(497.3 363.4) scale(0.786 1)" font-size="25.2">6</text>
<polyline points="530.2,367.9 535.3,367.9 549.1,328.0" fill="none" stroke="#000" stroke-width="0.9"/><text transform="translate(516.9 379.4) scale(0.786 1)" font-size="25.2">6</text>
<polyline points="646.1,291.6 639.3,291.6 624.8,311.9" fill="none" stroke="#000" stroke-width="0.9"/><text transform="translate(646.4 302.7) scale(0.786 1)" font-size="25.2">13</text>
<polyline points="584.1,442.6 579.9,442.6 561.8,415.1" fill="none" stroke="#000" stroke-width="0.9"/><text transform="translate(586.8 454.0) scale(0.786 1)" font-size="25.2">15</text>
<polyline points="132.5,202.8 128.2,202.8 108.6,236.4" fill="none" stroke="#000" stroke-width="0.9"/><text transform="translate(134.5 214.6) scale(0.786 1)" font-size="25.2">4</text>
<polyline points="136.9,227.0 132.5,227.0 122.4,244.4" fill="none" stroke="#000" stroke-width="0.9"/><text transform="translate(138.8 238.5) scale(0.786 1)" font-size="25.2">4</text>
<polyline points="82.5,285.8 86.8,285.8 95.5,265.4" fill="none" stroke="#000" stroke-width="0.9"/><text transform="translate(69.2 297.3) scale(0.786 1)" font-size="25.2">4</text>
<polyline points="87.8,308.2 93.9,308.2 108.4,270.7" fill="none" stroke="#000" stroke-width="0.9"/><text transform="translate(75.9 317.8) scale(0.786 1)" font-size="25.2">4</text>
<polyline points="176.0,232.1 171.8,232.1 162.1,248.1" fill="none" stroke="#000" stroke-width="0.9"/><text transform="translate(178.2 243.4) scale(0.786 1)" font-size="25.2">1</text>
<polyline points="199.6,245.7 195.3,245.7 179.0,271.7" fill="none" stroke="#000" stroke-width="0.9"/><text transform="translate(202.2 257.0) scale(0.786 1)" font-size="25.2">5</text>
<polyline points="210.5,269.9 206.2,269.9 188.7,298.9" fill="none" stroke="#000" stroke-width="0.9"/><text transform="translate(213.4 281.2) scale(0.786 1)" font-size="25.2">5</text>
<polyline points="141.6,333.7 146.0,333.7 168.5,294.5" fill="none" stroke="#000" stroke-width="0.9"/><text transform="translate(128.7 344.1) scale(0.786 1)" font-size="25.2">5</text>
<polyline points="154.0,354.7 158.3,354.7 172.8,317.0" fill="none" stroke="#000" stroke-width="0.9"/><text transform="translate(141.0 365.9) scale(0.786 1)" font-size="25.2">5</text>
<polyline points="187.3,378.0 191.7,378.0 204.7,341.7" fill="none" stroke="#000" stroke-width="0.9"/><text transform="translate(174.0 389.5) scale(0.786 1)" font-size="25.2">2</text>
<polyline points="293.4,491.3 287.5,491.3 281.6,470.1" fill="none" stroke="#000" stroke-width="0.9"/><text transform="translate(295.4 502.0) scale(0.786 1)" font-size="25.2">10</text>
<polyline points="375.3,498.1 379.6,498.1 407.4,460.0" fill="none" stroke="#000" stroke-width="0.9"/><text transform="translate(352.3 509.4) scale(0.786 1)" font-size="25.2">12</text>
<polyline points="404.4,532.6 409.2,532.6 414.6,520.5" fill="none" stroke="#000" stroke-width="0.9"/><text transform="translate(381.6 543.9) scale(0.786 1)" font-size="25.2">15</text>
<polyline points="528.8,427.4 523.7,427.4 498.3,483.3" fill="none" stroke="#000" stroke-width="0.9"/><text transform="translate(531.0 438.9) scale(0.786 1)" font-size="25.2">6</text>
<polyline points="528.8,456.4 523.7,456.4 513.5,471.7" fill="none" stroke="#000" stroke-width="0.9"/><text transform="translate(531.0 467.2) scale(0.786 1)" font-size="25.2">6</text>
<polyline points="533.8,478.2 528.8,478.2 514.3,492.7" fill="none" stroke="#000" stroke-width="0.9"/><text transform="translate(535.7 489.7) scale(0.786 1)" font-size="25.2">6</text>
<polyline points="589.6,473.2 584.7,473.2 564.2,503.0" fill="none" stroke="#000" stroke-width="0.9"/><text transform="translate(591.9 484.5) scale(0.786 1)" font-size="25.2">8</text>
<polyline points="472.9,529.8 477.9,529.8 494.6,508.3" fill="none" stroke="#000" stroke-width="0.9"/><text transform="translate(459.5 540.5) scale(0.786 1)" font-size="25.2">6</text>
<polyline points="498.1,543.0 502.5,543.0 523.5,510.3" fill="none" stroke="#000" stroke-width="0.9"/><text transform="translate(484.8 554.1) scale(0.786 1)" font-size="25.2">9</text>
<polyline points="518.5,560.7 522.8,560.7 542.4,519.0" fill="none" stroke="#000" stroke-width="0.9"/><text transform="translate(505.1 571.5) scale(0.786 1)" font-size="25.2">7</text>
<polyline points="554.0,568.4 559.1,568.4 572.9,540.8" fill="none" stroke="#000" stroke-width="0.9"/><text transform="translate(530.6 579.9) scale(0.786 1)" font-size="25.2">14</text>
<polyline points="441.7,555.2 437.3,555.2 423.5,572.9" fill="none" stroke="#000" stroke-width="0.9"/><text transform="translate(443.7 566.2) scale(0.786 1)" font-size="25.2">10</text>
<polyline points="198.6,426.9 193.5,426.9 154.0,505.6" fill="none" stroke="#000" stroke-width="0.9"/><text transform="translate(200.9 439.8) scale(0.786 1)" font-size="25.2">8</text>
<polyline points="198.6,457.9 193.5,457.9 160.7,529.4" fill="none" stroke="#000" stroke-width="0.9"/><text transform="translate(200.5 470.3) scale(0.786 1)" font-size="25.2">6</text>
<polyline points="198.6,482.5 193.5,482.5 178.5,519.2" fill="none" stroke="#000" stroke-width="0.9"/><text transform="translate(200.5 494.8) scale(0.786 1)" font-size="25.2">6</text>
<polyline points="198.6,510.4 193.5,510.4 178.5,541.2" fill="none" stroke="#000" stroke-width="0.9"/><text transform="translate(200.0 522.2) scale(0.786 1)" font-size="25.2">6</text>
<polyline points="93.0,529.4 97.2,529.4 108.2,510.7" fill="none" stroke="#000" stroke-width="0.9"/><text transform="translate(68.7 541.0) scale(0.786 1)" font-size="25.2">14</text>
<polyline points="108.9,542.8 113.2,542.8 131.4,520.3" fill="none" stroke="#000" stroke-width="0.9"/><text transform="translate(95.9 553.6) scale(0.786 1)" font-size="25.2">7</text>
<polyline points="125.5,560.6 130.6,560.6 147.3,529.7" fill="none" stroke="#000" stroke-width="0.9"/><text transform="translate(112.9 572.5) scale(0.786 1)" font-size="25.2">9</text>
<polyline points="146.6,587.8 151.7,587.8 158.9,555.9" fill="none" stroke="#000" stroke-width="0.9"/><text transform="translate(133.6 599.3) scale(0.786 1)" font-size="25.2">6</text>
<polyline points="293.4,510.4 288.3,510.4 261.3,544.6" fill="none" stroke="#000" stroke-width="0.9"/><text transform="translate(294.9 521.9) scale(0.786 1)" font-size="25.2">12</text>
<polyline points="339.8,537.7 336.0,537.7 324.6,549.7" fill="none" stroke="#000" stroke-width="0.9"/><text transform="translate(342.9 549.1) scale(0.786 1)" font-size="25.2">15</text>
<polyline points="483.5,657.8 478.4,657.8 459.8,684.9" fill="none" stroke="#000" stroke-width="0.9"/><text transform="translate(485.3 669.8) scale(0.786 1)" font-size="25.2">2</text>
<polyline points="528.3,651.5 523.3,651.5 485.2,724.6" fill="none" stroke="#000" stroke-width="0.9"/><text transform="translate(530.2 663.0) scale(0.786 1)" font-size="25.2">5</text>
<polyline points="528.3,684.4 523.3,684.4 503.8,714.5" fill="none" stroke="#000" stroke-width="0.9"/><text transform="translate(529.3 696.0) scale(0.786 1)" font-size="25.2">5</text>
<polyline points="458.1,766.3 462.3,766.3 480.5,748.4" fill="none" stroke="#000" stroke-width="0.9"/><text transform="translate(444.7 777.3) scale(0.786 1)" font-size="25.2">5</text>
<polyline points="469.6,781.6 473.8,781.6 504.6,738.7" fill="none" stroke="#000" stroke-width="0.9"/><text transform="translate(456.4 792.7) scale(0.786 1)" font-size="25.2">5</text>
<polyline points="561.5,693.3 555.3,693.3 536.6,722.7" fill="none" stroke="#000" stroke-width="0.9"/><text transform="translate(561.9 704.6) scale(0.786 1)" font-size="25.2">1</text>
<polyline points="600.6,702.2 594.4,702.2 562.4,755.5" fill="none" stroke="#000" stroke-width="0.9"/><text transform="translate(602.3 713.1) scale(0.786 1)" font-size="25.2">4</text>
<polyline points="601.5,729.8 596.2,729.8 574.9,763.5" fill="none" stroke="#000" stroke-width="0.9"/><text transform="translate(603.2 740.6) scale(0.786 1)" font-size="25.2">4</text>
<polyline points="601.5,762.6 595.3,762.6 563.3,785.7" fill="none" stroke="#000" stroke-width="0.9"/><text transform="translate(603.2 773.5) scale(0.786 1)" font-size="25.2">4</text>
<polyline points="538.4,799.1 543.8,799.1 549.1,781.3" fill="none" stroke="#000" stroke-width="0.9"/><text transform="translate(524.6 810.8) scale(0.786 1)" font-size="25.2">4</text>
<polyline points="922.2,449.3 916.4,449.3 870.9,513.2" fill="none" stroke="#000" stroke-width="0.9"/><text transform="translate(924.0 461.9) scale(0.786 1)" font-size="25.2">5</text>
<polyline points="922.2,472.6 916.4,472.6 894.1,508.4" fill="none" stroke="#000" stroke-width="0.9"/><text transform="translate(924.0 484.1) scale(0.786 1)" font-size="25.2">5</text>
<polyline points="922.2,494.8 916.4,494.8 892.2,529.6" fill="none" stroke="#000" stroke-width="0.9"/><text transform="translate(924.0 506.3) scale(0.786 1)" font-size="25.2">5</text>
<polyline points="854.5,568.3 859.3,568.3 873.8,542.2" fill="none" stroke="#000" stroke-width="0.9"/><text transform="translate(841.3 578.9) scale(0.786 1)" font-size="25.2">5</text>
<polyline points="794.5,538.7 799.3,538.7 817.7,513.2" fill="none" stroke="#000" stroke-width="0.9"/><text transform="translate(782.3 549.4) scale(0.786 1)" font-size="25.2">3</text>
<polyline points="682.3,556.3 687.2,556.3 699.9,523.9" fill="none" stroke="#000" stroke-width="0.9"/><text transform="translate(659.4 567.6) scale(0.786 1)" font-size="25.2">11</text>
</g>
</svg></body></html>
